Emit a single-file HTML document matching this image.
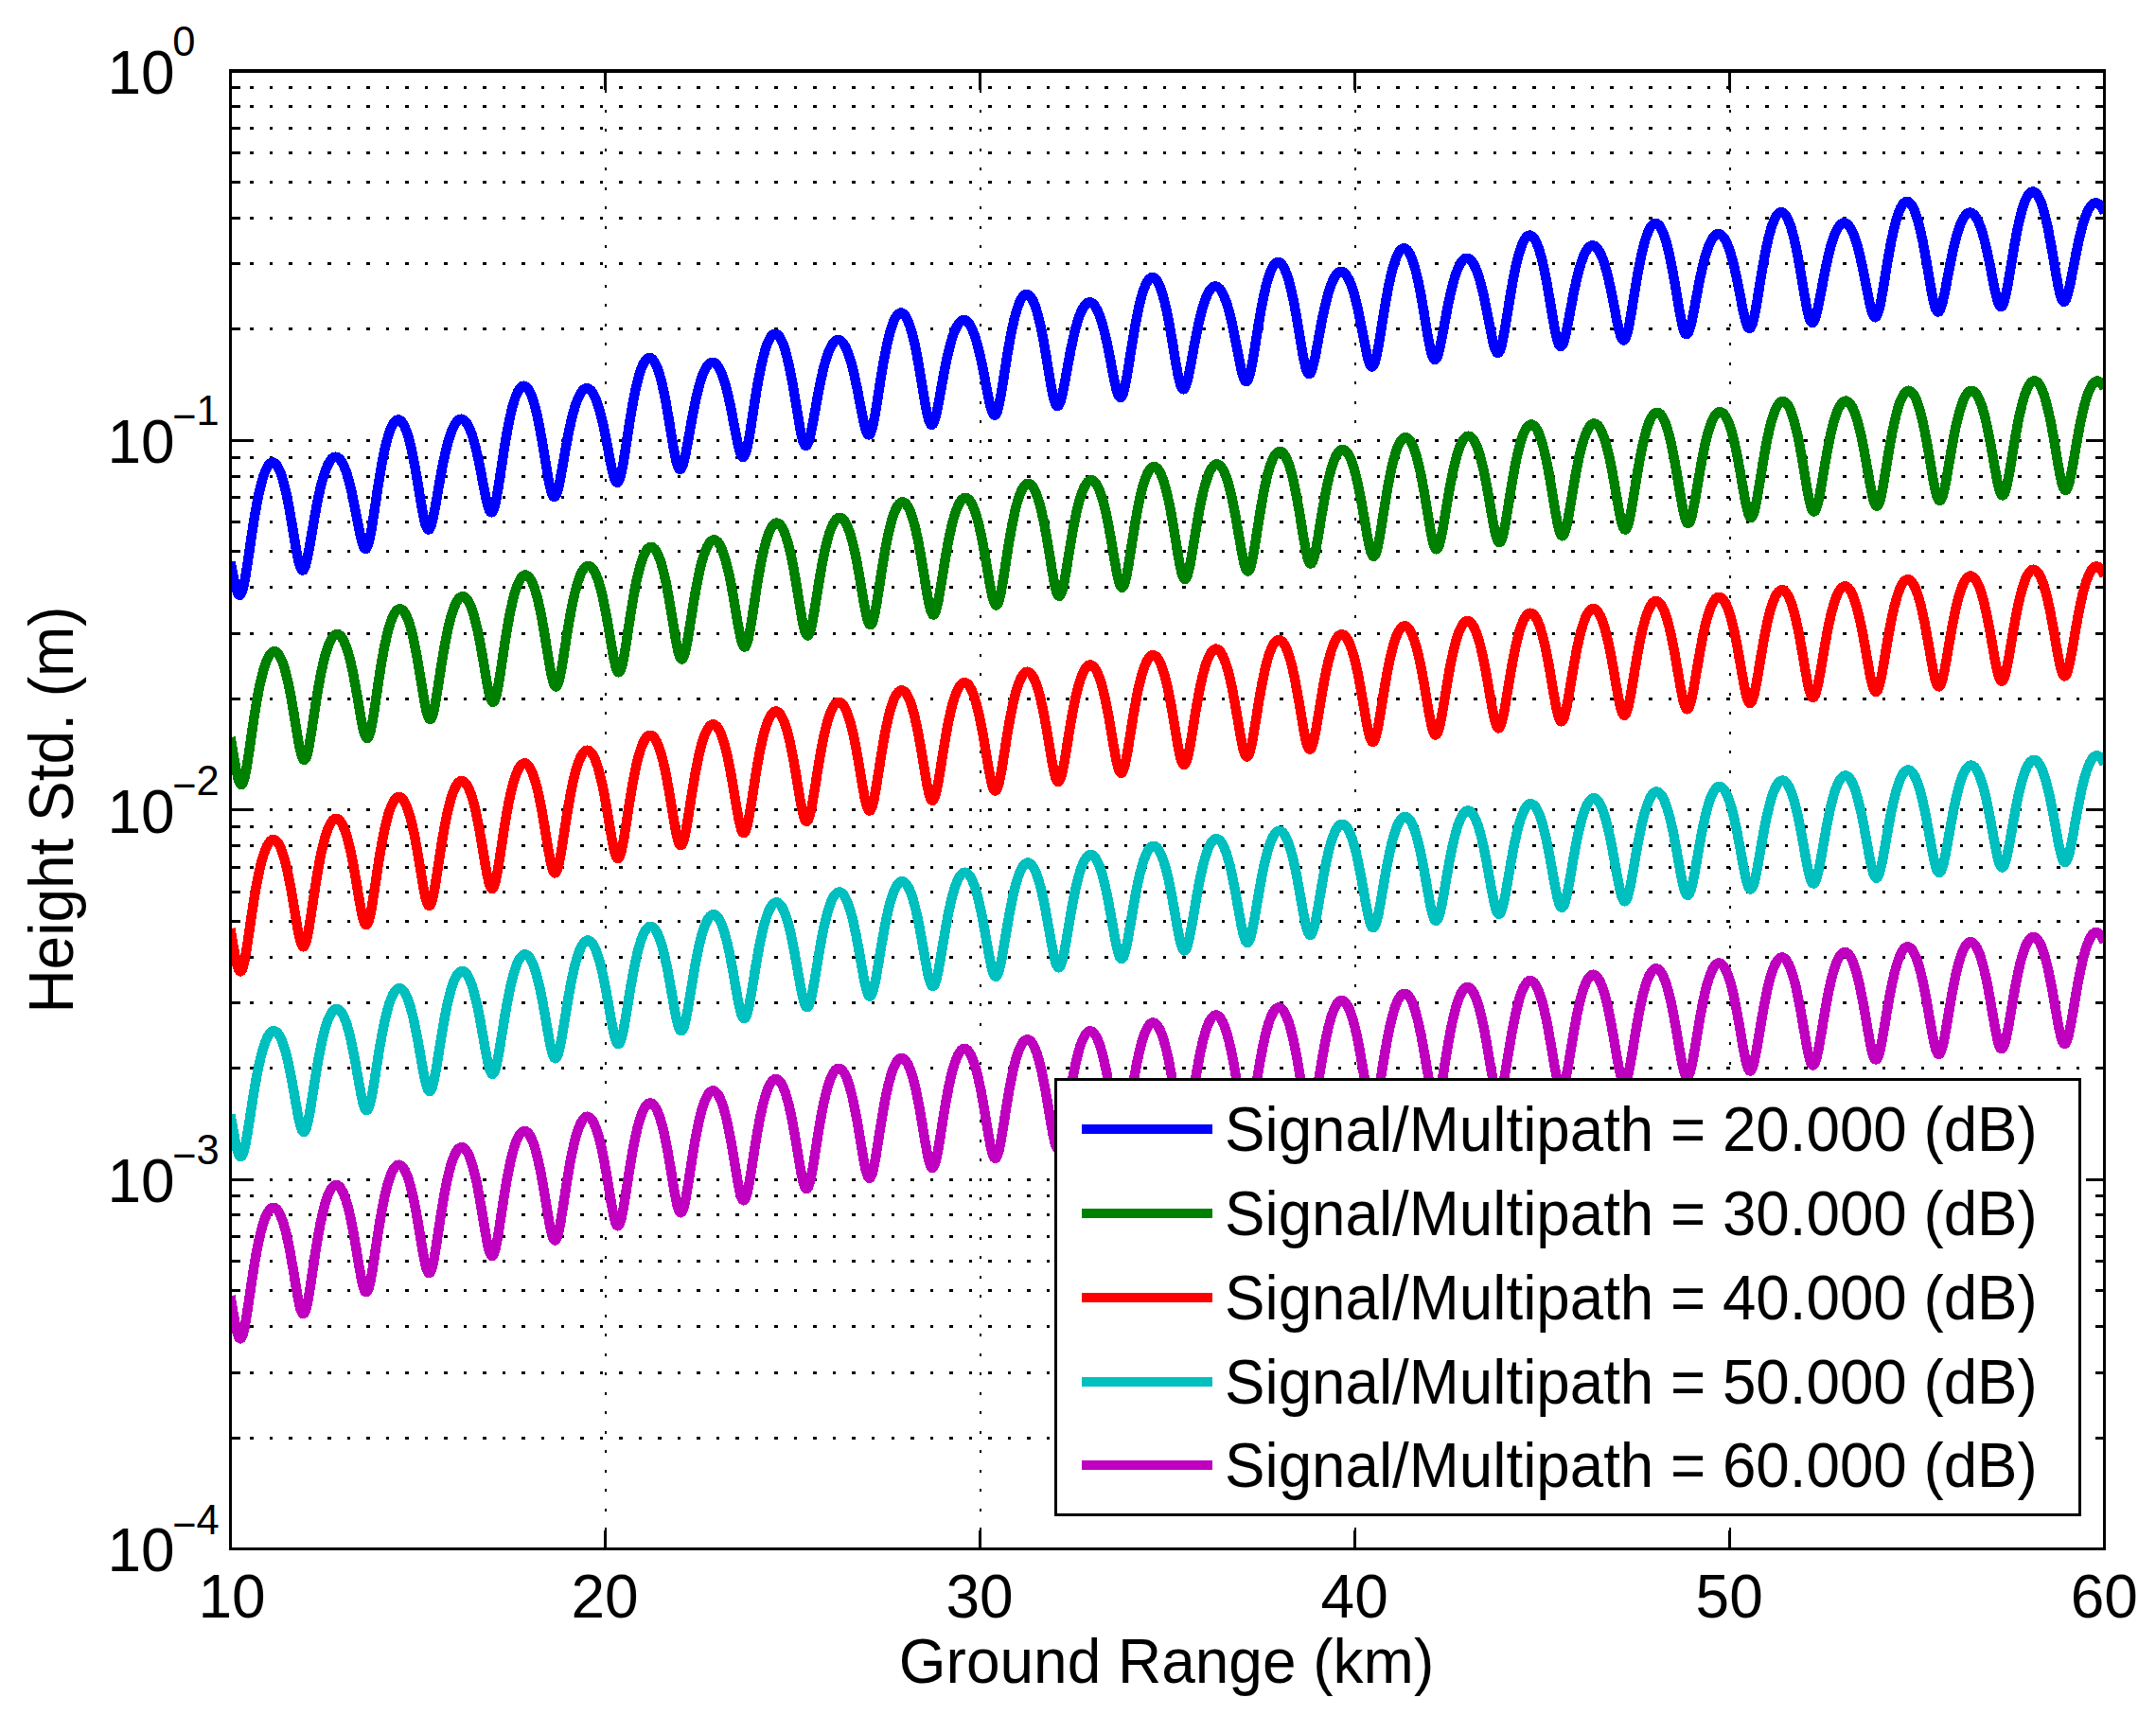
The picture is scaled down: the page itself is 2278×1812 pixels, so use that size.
<!DOCTYPE html>
<html><head><meta charset="utf-8"><title>Height Std. vs Ground Range</title>
<style>html,body{margin:0;padding:0;background:#fff}svg{display:block}text{font-family:"Liberation Sans",sans-serif;fill:#000}</style></head><body>
<svg width="2278" height="1812" viewBox="0 0 2278 1812">
<rect width="2278" height="1812" fill="#fff"/>
<g stroke="#000" stroke-width="3" shape-rendering="crispEdges" fill="none">
<line x1="243.5" y1="465.1" x2="2223.8" y2="465.1" stroke-dasharray="3.5 17.03"/>
<line x1="243.5" y1="347.6" x2="2223.8" y2="347.6" stroke-dasharray="3.5 17.03"/>
<line x1="243.5" y1="278.9" x2="2223.8" y2="278.9" stroke-dasharray="3.5 17.03"/>
<line x1="243.5" y1="230.1" x2="2223.8" y2="230.1" stroke-dasharray="3.5 17.03"/>
<line x1="243.5" y1="192.2" x2="2223.8" y2="192.2" stroke-dasharray="3.5 17.03"/>
<line x1="243.5" y1="161.3" x2="2223.8" y2="161.3" stroke-dasharray="3.5 17.03"/>
<line x1="243.5" y1="135.2" x2="2223.8" y2="135.2" stroke-dasharray="3.5 17.03"/>
<line x1="243.5" y1="112.5" x2="2223.8" y2="112.5" stroke-dasharray="3.5 17.03"/>
<line x1="243.5" y1="92.6" x2="2223.8" y2="92.6" stroke-dasharray="3.5 17.03"/>
<line x1="243.5" y1="855.6" x2="2223.8" y2="855.6" stroke-dasharray="3.5 17.03"/>
<line x1="243.5" y1="738.1" x2="2223.8" y2="738.1" stroke-dasharray="3.5 17.03"/>
<line x1="243.5" y1="669.3" x2="2223.8" y2="669.3" stroke-dasharray="3.5 17.03"/>
<line x1="243.5" y1="620.5" x2="2223.8" y2="620.5" stroke-dasharray="3.5 17.03"/>
<line x1="243.5" y1="582.7" x2="2223.8" y2="582.7" stroke-dasharray="3.5 17.03"/>
<line x1="243.5" y1="551.8" x2="2223.8" y2="551.8" stroke-dasharray="3.5 17.03"/>
<line x1="243.5" y1="525.6" x2="2223.8" y2="525.6" stroke-dasharray="3.5 17.03"/>
<line x1="243.5" y1="503.0" x2="2223.8" y2="503.0" stroke-dasharray="3.5 17.03"/>
<line x1="243.5" y1="483.0" x2="2223.8" y2="483.0" stroke-dasharray="3.5 17.03"/>
<line x1="243.5" y1="1246.0" x2="2223.8" y2="1246.0" stroke-dasharray="3.5 17.03"/>
<line x1="243.5" y1="1128.5" x2="2223.8" y2="1128.5" stroke-dasharray="3.5 17.03"/>
<line x1="243.5" y1="1059.8" x2="2223.8" y2="1059.8" stroke-dasharray="3.5 17.03"/>
<line x1="243.5" y1="1011.0" x2="2223.8" y2="1011.0" stroke-dasharray="3.5 17.03"/>
<line x1="243.5" y1="973.1" x2="2223.8" y2="973.1" stroke-dasharray="3.5 17.03"/>
<line x1="243.5" y1="942.2" x2="2223.8" y2="942.2" stroke-dasharray="3.5 17.03"/>
<line x1="243.5" y1="916.1" x2="2223.8" y2="916.1" stroke-dasharray="3.5 17.03"/>
<line x1="243.5" y1="893.4" x2="2223.8" y2="893.4" stroke-dasharray="3.5 17.03"/>
<line x1="243.5" y1="873.5" x2="2223.8" y2="873.5" stroke-dasharray="3.5 17.03"/>
<line x1="243.5" y1="1519.0" x2="2223.8" y2="1519.0" stroke-dasharray="3.5 17.03"/>
<line x1="243.5" y1="1450.2" x2="2223.8" y2="1450.2" stroke-dasharray="3.5 17.03"/>
<line x1="243.5" y1="1401.4" x2="2223.8" y2="1401.4" stroke-dasharray="3.5 17.03"/>
<line x1="243.5" y1="1363.6" x2="2223.8" y2="1363.6" stroke-dasharray="3.5 17.03"/>
<line x1="243.5" y1="1332.7" x2="2223.8" y2="1332.7" stroke-dasharray="3.5 17.03"/>
<line x1="243.5" y1="1306.5" x2="2223.8" y2="1306.5" stroke-dasharray="3.5 17.03"/>
<line x1="243.5" y1="1283.9" x2="2223.8" y2="1283.9" stroke-dasharray="3.5 17.03"/>
<line x1="243.5" y1="1263.9" x2="2223.8" y2="1263.9" stroke-dasharray="3.5 17.03"/>
<line x1="639.6" y1="74.7" x2="639.6" y2="1636.5" stroke-width="2" stroke-dasharray="3 17.53"/>
<line x1="1035.6" y1="74.7" x2="1035.6" y2="1636.5" stroke-width="2" stroke-dasharray="3 17.53"/>
<line x1="1431.7" y1="74.7" x2="1431.7" y2="1636.5" stroke-width="2" stroke-dasharray="3 17.53"/>
<line x1="1827.7" y1="74.7" x2="1827.7" y2="1636.5" stroke-width="2" stroke-dasharray="3 17.53"/>
</g>
<g stroke="#000" stroke-width="3" shape-rendering="crispEdges" fill="none">
<line x1="243.5" y1="465.1" x2="263.5" y2="465.1"/>
<line x1="2223.8" y1="465.1" x2="2203.8" y2="465.1"/>
<line x1="243.5" y1="347.6" x2="253.5" y2="347.6"/>
<line x1="2223.8" y1="347.6" x2="2213.8" y2="347.6"/>
<line x1="243.5" y1="278.9" x2="253.5" y2="278.9"/>
<line x1="2223.8" y1="278.9" x2="2213.8" y2="278.9"/>
<line x1="243.5" y1="230.1" x2="253.5" y2="230.1"/>
<line x1="2223.8" y1="230.1" x2="2213.8" y2="230.1"/>
<line x1="243.5" y1="192.2" x2="253.5" y2="192.2"/>
<line x1="2223.8" y1="192.2" x2="2213.8" y2="192.2"/>
<line x1="243.5" y1="161.3" x2="253.5" y2="161.3"/>
<line x1="2223.8" y1="161.3" x2="2213.8" y2="161.3"/>
<line x1="243.5" y1="135.2" x2="253.5" y2="135.2"/>
<line x1="2223.8" y1="135.2" x2="2213.8" y2="135.2"/>
<line x1="243.5" y1="112.5" x2="253.5" y2="112.5"/>
<line x1="2223.8" y1="112.5" x2="2213.8" y2="112.5"/>
<line x1="243.5" y1="92.6" x2="253.5" y2="92.6"/>
<line x1="2223.8" y1="92.6" x2="2213.8" y2="92.6"/>
<line x1="243.5" y1="855.6" x2="263.5" y2="855.6"/>
<line x1="2223.8" y1="855.6" x2="2203.8" y2="855.6"/>
<line x1="243.5" y1="738.1" x2="253.5" y2="738.1"/>
<line x1="2223.8" y1="738.1" x2="2213.8" y2="738.1"/>
<line x1="243.5" y1="669.3" x2="253.5" y2="669.3"/>
<line x1="2223.8" y1="669.3" x2="2213.8" y2="669.3"/>
<line x1="243.5" y1="620.5" x2="253.5" y2="620.5"/>
<line x1="2223.8" y1="620.5" x2="2213.8" y2="620.5"/>
<line x1="243.5" y1="582.7" x2="253.5" y2="582.7"/>
<line x1="2223.8" y1="582.7" x2="2213.8" y2="582.7"/>
<line x1="243.5" y1="551.8" x2="253.5" y2="551.8"/>
<line x1="2223.8" y1="551.8" x2="2213.8" y2="551.8"/>
<line x1="243.5" y1="525.6" x2="253.5" y2="525.6"/>
<line x1="2223.8" y1="525.6" x2="2213.8" y2="525.6"/>
<line x1="243.5" y1="503.0" x2="253.5" y2="503.0"/>
<line x1="2223.8" y1="503.0" x2="2213.8" y2="503.0"/>
<line x1="243.5" y1="483.0" x2="253.5" y2="483.0"/>
<line x1="2223.8" y1="483.0" x2="2213.8" y2="483.0"/>
<line x1="243.5" y1="1246.0" x2="263.5" y2="1246.0"/>
<line x1="2223.8" y1="1246.0" x2="2203.8" y2="1246.0"/>
<line x1="243.5" y1="1128.5" x2="253.5" y2="1128.5"/>
<line x1="2223.8" y1="1128.5" x2="2213.8" y2="1128.5"/>
<line x1="243.5" y1="1059.8" x2="253.5" y2="1059.8"/>
<line x1="2223.8" y1="1059.8" x2="2213.8" y2="1059.8"/>
<line x1="243.5" y1="1011.0" x2="253.5" y2="1011.0"/>
<line x1="2223.8" y1="1011.0" x2="2213.8" y2="1011.0"/>
<line x1="243.5" y1="973.1" x2="253.5" y2="973.1"/>
<line x1="2223.8" y1="973.1" x2="2213.8" y2="973.1"/>
<line x1="243.5" y1="942.2" x2="253.5" y2="942.2"/>
<line x1="2223.8" y1="942.2" x2="2213.8" y2="942.2"/>
<line x1="243.5" y1="916.1" x2="253.5" y2="916.1"/>
<line x1="2223.8" y1="916.1" x2="2213.8" y2="916.1"/>
<line x1="243.5" y1="893.4" x2="253.5" y2="893.4"/>
<line x1="2223.8" y1="893.4" x2="2213.8" y2="893.4"/>
<line x1="243.5" y1="873.5" x2="253.5" y2="873.5"/>
<line x1="2223.8" y1="873.5" x2="2213.8" y2="873.5"/>
<line x1="243.5" y1="1519.0" x2="253.5" y2="1519.0"/>
<line x1="2223.8" y1="1519.0" x2="2213.8" y2="1519.0"/>
<line x1="243.5" y1="1450.2" x2="253.5" y2="1450.2"/>
<line x1="2223.8" y1="1450.2" x2="2213.8" y2="1450.2"/>
<line x1="243.5" y1="1401.4" x2="253.5" y2="1401.4"/>
<line x1="2223.8" y1="1401.4" x2="2213.8" y2="1401.4"/>
<line x1="243.5" y1="1363.6" x2="253.5" y2="1363.6"/>
<line x1="2223.8" y1="1363.6" x2="2213.8" y2="1363.6"/>
<line x1="243.5" y1="1332.7" x2="253.5" y2="1332.7"/>
<line x1="2223.8" y1="1332.7" x2="2213.8" y2="1332.7"/>
<line x1="243.5" y1="1306.5" x2="253.5" y2="1306.5"/>
<line x1="2223.8" y1="1306.5" x2="2213.8" y2="1306.5"/>
<line x1="243.5" y1="1283.9" x2="253.5" y2="1283.9"/>
<line x1="2223.8" y1="1283.9" x2="2213.8" y2="1283.9"/>
<line x1="243.5" y1="1263.9" x2="253.5" y2="1263.9"/>
<line x1="2223.8" y1="1263.9" x2="2213.8" y2="1263.9"/>
<line x1="639.6" y1="1636.5" x2="639.6" y2="1616.5"/>
<line x1="639.6" y1="74.7" x2="639.6" y2="94.7"/>
<line x1="1035.6" y1="1636.5" x2="1035.6" y2="1616.5"/>
<line x1="1035.6" y1="74.7" x2="1035.6" y2="94.7"/>
<line x1="1431.7" y1="1636.5" x2="1431.7" y2="1616.5"/>
<line x1="1431.7" y1="74.7" x2="1431.7" y2="94.7"/>
<line x1="1827.7" y1="1636.5" x2="1827.7" y2="1616.5"/>
<line x1="1827.7" y1="74.7" x2="1827.7" y2="94.7"/>
</g>
<defs><clipPath id="c"><rect x="243.5" y="74.7" width="1980.3000000000002" height="1561.8"/></clipPath></defs>
<defs>
<polyline id="p0" points="243.5,593.7 244.5,598.8 245.5,603.9 246.5,608.9 247.5,613.7 248.5,618.0 249.5,621.9 250.5,625.0 251.5,627.3 252.5,628.6 253.5,628.8 254.5,627.9 255.5,625.8 256.5,622.7 257.5,618.6 258.5,613.7 259.5,608.1 260.5,601.9 261.5,595.4 262.5,588.7 263.5,581.8 264.5,575.0 265.5,568.2 266.5,561.5 267.5,555.1 268.5,548.9 269.5,542.9 270.5,537.2 271.5,531.8 272.5,526.7 273.5,521.9 274.5,517.5 275.5,513.4 276.5,509.5 277.5,506.0 278.5,502.9 279.5,500.0 280.5,497.5 281.5,495.3 282.5,493.4 283.5,491.8 284.5,490.5 285.5,489.6 286.5,489.0 287.5,488.6 288.5,488.6 289.5,488.9 290.5,489.5 291.5,490.5 292.5,491.7 293.5,493.3 294.5,495.1 295.5,497.3 296.5,499.9 297.5,502.7 298.5,505.9 299.5,509.3 300.5,513.1 301.5,517.3 302.5,521.7 303.5,526.4 304.5,531.4 305.5,536.7 306.5,542.2 307.5,548.0 308.5,553.9 309.5,559.9 310.5,566.0 311.5,572.0 312.5,577.9 313.5,583.5 314.5,588.6 315.5,593.2 316.5,597.0 317.5,599.9 318.5,601.8 319.5,602.6 320.5,602.3 321.5,600.8 322.5,598.3 323.5,594.9 324.5,590.7 325.5,585.9 326.5,580.6 327.5,575.0 328.5,569.1 329.5,563.2 330.5,557.3 331.5,551.4 332.5,545.7 333.5,540.2 334.5,534.9 335.5,529.7 336.5,524.9 337.5,520.3 338.5,515.9 339.5,511.9 340.5,508.1 341.5,504.6 342.5,501.3 343.5,498.3 344.5,495.6 345.5,493.2 346.5,491.0 347.5,489.1 348.5,487.4 349.5,486.0 350.5,484.8 351.5,483.9 352.5,483.3 353.5,482.9 354.5,482.7 355.5,482.8 356.5,483.2 357.5,483.8 358.5,484.6 359.5,485.7 360.5,487.1 361.5,488.8 362.5,490.7 363.5,492.8 364.5,495.2 365.5,497.9 366.5,500.9 367.5,504.2 368.5,507.7 369.5,511.5 370.5,515.5 371.5,519.8 372.5,524.3 373.5,529.1 374.5,534.0 375.5,539.1 376.5,544.3 377.5,549.6 378.5,554.8 379.5,559.8 380.5,564.6 381.5,569.0 382.5,572.8 383.5,576.0 384.5,578.3 385.5,579.6 386.5,579.8 387.5,578.9 388.5,576.8 389.5,573.7 390.5,569.7 391.5,564.8 392.5,559.3 393.5,553.3 394.5,546.9 395.5,540.2 396.5,533.5 397.5,526.8 398.5,520.1 399.5,513.6 400.5,507.3 401.5,501.2 402.5,495.4 403.5,489.9 404.5,484.6 405.5,479.7 406.5,475.0 407.5,470.7 408.5,466.7 409.5,463.0 410.5,459.7 411.5,456.6 412.5,453.9 413.5,451.5 414.5,449.4 415.5,447.6 416.5,446.2 417.5,445.0 418.5,444.2 419.5,443.7 420.5,443.5 421.5,443.6 422.5,444.0 423.5,444.7 424.5,445.7 425.5,447.1 426.5,448.8 427.5,450.8 428.5,453.1 429.5,455.7 430.5,458.6 431.5,461.9 432.5,465.5 433.5,469.4 434.5,473.6 435.5,478.1 436.5,483.0 437.5,488.1 438.5,493.4 439.5,499.1 440.5,504.9 441.5,510.9 442.5,516.9 443.5,523.1 444.5,529.1 445.5,535.0 446.5,540.6 447.5,545.7 448.5,550.3 449.5,554.1 450.5,557.0 451.5,558.8 452.5,559.6 453.5,559.3 454.5,557.8 455.5,555.3 456.5,551.9 457.5,547.8 458.5,543.0 459.5,537.8 460.5,532.2 461.5,526.5 462.5,520.7 463.5,514.8 464.5,509.1 465.5,503.5 466.5,498.1 467.5,492.9 468.5,487.9 469.5,483.1 470.5,478.6 471.5,474.4 472.5,470.4 473.5,466.7 474.5,463.3 475.5,460.2 476.5,457.3 477.5,454.7 478.5,452.4 479.5,450.3 480.5,448.4 481.5,446.9 482.5,445.6 483.5,444.5 484.5,443.7 485.5,443.1 486.5,442.8 487.5,442.7 488.5,442.9 489.5,443.4 490.5,444.1 491.5,445.0 492.5,446.2 493.5,447.7 494.5,449.4 495.5,451.4 496.5,453.6 497.5,456.2 498.5,458.9 499.5,462.0 500.5,465.3 501.5,468.9 502.5,472.8 503.5,476.9 504.5,481.3 505.5,485.9 506.5,490.7 507.5,495.7 508.5,500.8 509.5,506.1 510.5,511.4 511.5,516.6 512.5,521.6 513.5,526.4 514.5,530.8 515.5,534.6 516.5,537.7 517.5,540.0 518.5,541.2 519.5,541.4 520.5,540.5 521.5,538.4 522.5,535.3 523.5,531.3 524.5,526.4 525.5,520.9 526.5,515.0 527.5,508.6 528.5,502.1 529.5,495.5 530.5,488.8 531.5,482.3 532.5,475.9 533.5,469.7 534.5,463.7 535.5,458.0 536.5,452.5 537.5,447.4 538.5,442.5 539.5,438.0 540.5,433.8 541.5,429.8 542.5,426.3 543.5,423.0 544.5,420.0 545.5,417.4 546.5,415.1 547.5,413.1 548.5,411.4 549.5,410.0 550.5,409.0 551.5,408.2 552.5,407.8 553.5,407.7 554.5,407.9 555.5,408.4 556.5,409.2 557.5,410.3 558.5,411.7 559.5,413.5 560.5,415.5 561.5,417.9 562.5,420.6 563.5,423.7 564.5,427.0 565.5,430.7 566.5,434.6 567.5,438.9 568.5,443.5 569.5,448.4 570.5,453.6 571.5,459.0 572.5,464.6 573.5,470.5 574.5,476.5 575.5,482.6 576.5,488.8 577.5,494.8 578.5,500.7 579.5,506.3 580.5,511.4 581.5,515.9 582.5,519.6 583.5,522.5 584.5,524.3 585.5,525.0 586.5,524.6 587.5,523.1 588.5,520.6 589.5,517.2 590.5,513.1 591.5,508.3 592.5,503.1 593.5,497.6 594.5,492.0 595.5,486.2 596.5,480.5 597.5,474.8 598.5,469.3 599.5,464.0 600.5,458.8 601.5,453.9 602.5,449.3 603.5,444.9 604.5,440.7 605.5,436.8 606.5,433.2 607.5,429.9 608.5,426.8 609.5,424.0 610.5,421.5 611.5,419.2 612.5,417.2 613.5,415.5 614.5,414.0 615.5,412.7 616.5,411.7 617.5,411.0 618.5,410.5 619.5,410.2 620.5,410.3 621.5,410.5 622.5,411.0 623.5,411.8 624.5,412.8 625.5,414.1 626.5,415.6 627.5,417.4 628.5,419.4 629.5,421.7 630.5,424.3 631.5,427.2 632.5,430.3 633.5,433.7 634.5,437.3 635.5,441.2 636.5,445.4 637.5,449.8 638.5,454.5 639.5,459.3 640.5,464.4 641.5,469.6 642.5,474.8 643.5,480.1 644.5,485.3 645.5,490.4 646.5,495.2 647.5,499.5 648.5,503.3 649.5,506.3 650.5,508.5 651.5,509.7 652.5,509.8 653.5,508.8 654.5,506.7 655.5,503.6 656.5,499.6 657.5,494.7 658.5,489.3 659.5,483.3 660.5,477.0 661.5,470.6 662.5,464.0 663.5,457.5 664.5,451.0 665.5,444.7 666.5,438.5 667.5,432.6 668.5,427.0 669.5,421.6 670.5,416.6 671.5,411.8 672.5,407.3 673.5,403.2 674.5,399.4 675.5,395.8 676.5,392.6 677.5,389.8 678.5,387.2 679.5,385.0 680.5,383.0 681.5,381.4 682.5,380.1 683.5,379.1 684.5,378.5 685.5,378.1 686.5,378.0 687.5,378.3 688.5,378.8 689.5,379.7 690.5,380.9 691.5,382.4 692.5,384.2 693.5,386.3 694.5,388.8 695.5,391.5 696.5,394.6 697.5,398.0 698.5,401.7 699.5,405.8 700.5,410.1 701.5,414.7 702.5,419.7 703.5,424.9 704.5,430.3 705.5,436.0 706.5,441.9 707.5,448.0 708.5,454.1 709.5,460.2 710.5,466.3 711.5,472.1 712.5,477.7 713.5,482.7 714.5,487.2 715.5,490.8 716.5,493.6 717.5,495.3 718.5,496.0 719.5,495.5 720.5,494.0 721.5,491.4 722.5,488.0 723.5,483.9 724.5,479.2 725.5,474.0 726.5,468.6 727.5,463.0 728.5,457.3 729.5,451.6 730.5,446.0 731.5,440.6 732.5,435.3 733.5,430.2 734.5,425.4 735.5,420.8 736.5,416.4 737.5,412.4 738.5,408.6 739.5,405.0 740.5,401.8 741.5,398.7 742.5,396.0 743.5,393.5 744.5,391.3 745.5,389.4 746.5,387.7 747.5,386.2 748.5,385.0 749.5,384.1 750.5,383.4 751.5,383.0 752.5,382.8 753.5,382.9 754.5,383.2 755.5,383.7 756.5,384.5 757.5,385.6 758.5,386.9 759.5,388.5 760.5,390.3 761.5,392.4 762.5,394.8 763.5,397.4 764.5,400.3 765.5,403.5 766.5,406.9 767.5,410.6 768.5,414.6 769.5,418.8 770.5,423.3 771.5,427.9 772.5,432.8 773.5,437.9 774.5,443.1 775.5,448.4 776.5,453.7 777.5,458.9 778.5,463.9 779.5,468.6 780.5,472.9 781.5,476.7 782.5,479.7 783.5,481.8 784.5,482.9 785.5,482.9 786.5,481.9 787.5,479.7 788.5,476.6 789.5,472.5 790.5,467.7 791.5,462.2 792.5,456.3 793.5,450.1 794.5,443.6 795.5,437.1 796.5,430.6 797.5,424.2 798.5,418.0 799.5,411.9 800.5,406.1 801.5,400.5 802.5,395.2 803.5,390.2 804.5,385.5 805.5,381.1 806.5,377.1 807.5,373.3 808.5,369.9 809.5,366.7 810.5,363.9 811.5,361.4 812.5,359.2 813.5,357.4 814.5,355.8 815.5,354.6 816.5,353.6 817.5,353.0 818.5,352.7 819.5,352.7 820.5,353.0 821.5,353.6 822.5,354.5 823.5,355.8 824.5,357.3 825.5,359.2 826.5,361.4 827.5,363.9 828.5,366.7 829.5,369.8 830.5,373.2 831.5,377.0 832.5,381.1 833.5,385.4 834.5,390.1 835.5,395.1 836.5,400.3 837.5,405.8 838.5,411.5 839.5,417.5 840.5,423.5 841.5,429.6 842.5,435.8 843.5,441.8 844.5,447.6 845.5,453.1 846.5,458.1 847.5,462.5 848.5,466.1 849.5,468.7 850.5,470.4 851.5,471.0 852.5,470.4 853.5,468.8 854.5,466.2 855.5,462.8 856.5,458.7 857.5,453.9 858.5,448.8 859.5,443.4 860.5,437.8 861.5,432.2 862.5,426.6 863.5,421.1 864.5,415.7 865.5,410.5 866.5,405.5 867.5,400.7 868.5,396.2 869.5,391.9 870.5,387.9 871.5,384.1 872.5,380.6 873.5,377.4 874.5,374.5 875.5,371.8 876.5,369.4 877.5,367.2 878.5,365.3 879.5,363.6 880.5,362.3 881.5,361.1 882.5,360.2 883.5,359.6 884.5,359.2 885.5,359.1 886.5,359.2 887.5,359.5 888.5,360.1 889.5,361.0 890.5,362.1 891.5,363.5 892.5,365.1 893.5,367.0 894.5,369.1 895.5,371.5 896.5,374.2 897.5,377.1 898.5,380.3 899.5,383.8 900.5,387.5 901.5,391.5 902.5,395.8 903.5,400.2 904.5,405.0 905.5,409.9 906.5,414.9 907.5,420.1 908.5,425.4 909.5,430.7 910.5,435.9 911.5,440.9 912.5,445.6 913.5,449.9 914.5,453.5 915.5,456.4 916.5,458.5 917.5,459.5 918.5,459.5 919.5,458.3 920.5,456.1 921.5,452.9 922.5,448.8 923.5,444.0 924.5,438.5 925.5,432.7 926.5,426.5 927.5,420.1 928.5,413.6 929.5,407.2 930.5,400.9 931.5,394.7 932.5,388.7 933.5,382.9 934.5,377.4 935.5,372.2 936.5,367.2 937.5,362.6 938.5,358.3 939.5,354.2 940.5,350.5 941.5,347.2 942.5,344.1 943.5,341.3 944.5,338.9 945.5,336.8 946.5,334.9 947.5,333.4 948.5,332.2 949.5,331.4 950.5,330.8 951.5,330.5 952.5,330.6 953.5,330.9 954.5,331.6 955.5,332.6 956.5,333.8 957.5,335.4 958.5,337.3 959.5,339.6 960.5,342.1 961.5,345.0 962.5,348.1 963.5,351.6 964.5,355.4 965.5,359.5 966.5,363.9 967.5,368.6 968.5,373.6 969.5,378.9 970.5,384.4 971.5,390.1 972.5,396.1 973.5,402.1 974.5,408.2 975.5,414.3 976.5,420.3 977.5,426.1 978.5,431.6 979.5,436.5 980.5,440.8 981.5,444.3 982.5,446.9 983.5,448.5 984.5,448.9 985.5,448.3 986.5,446.7 987.5,444.0 988.5,440.6 989.5,436.4 990.5,431.7 991.5,426.6 992.5,421.2 993.5,415.7 994.5,410.1 995.5,404.5 996.5,399.1 997.5,393.7 998.5,388.6 999.5,383.6 1000.5,378.9 1001.5,374.4 1002.5,370.2 1003.5,366.2 1004.5,362.5 1005.5,359.1 1006.5,355.9 1007.5,353.0 1008.5,350.4 1009.5,348.0 1010.5,345.9 1011.5,344.1 1012.5,342.5 1013.5,341.1 1014.5,340.0 1015.5,339.2 1016.5,338.6 1017.5,338.2 1018.5,338.1 1019.5,338.3 1020.5,338.7 1021.5,339.3 1022.5,340.2 1023.5,341.4 1024.5,342.8 1025.5,344.4 1026.5,346.3 1027.5,348.5 1028.5,351.0 1029.5,353.7 1030.5,356.6 1031.5,359.9 1032.5,363.4 1033.5,367.1 1034.5,371.2 1035.5,375.4 1036.5,379.9 1037.5,384.7 1038.5,389.6 1039.5,394.7 1040.5,399.9 1041.5,405.2 1042.5,410.4 1043.5,415.6 1044.5,420.6 1045.5,425.2 1046.5,429.4 1047.5,433.0 1048.5,435.8 1049.5,437.8 1050.5,438.7 1051.5,438.6 1052.5,437.4 1053.5,435.2 1054.5,431.9 1055.5,427.8 1056.5,422.9 1057.5,417.5 1058.5,411.6 1059.5,405.5 1060.5,399.1 1061.5,392.7 1062.5,386.4 1063.5,380.1 1064.5,373.9 1065.5,368.0 1066.5,362.3 1067.5,356.8 1068.5,351.7 1069.5,346.8 1070.5,342.2 1071.5,337.9 1072.5,334.0 1073.5,330.3 1074.5,327.0 1075.5,324.0 1076.5,321.3 1077.5,318.9 1078.5,316.8 1079.5,315.0 1080.5,313.6 1081.5,312.4 1082.5,311.6 1083.5,311.1 1084.5,310.8 1085.5,310.9 1086.5,311.3 1087.5,312.0 1088.5,313.0 1089.5,314.4 1090.5,316.0 1091.5,317.9 1092.5,320.2 1093.5,322.8 1094.5,325.7 1095.5,328.9 1096.5,332.4 1097.5,336.2 1098.5,340.4 1099.5,344.8 1100.5,349.5 1101.5,354.6 1102.5,359.8 1103.5,365.4 1104.5,371.1 1105.5,377.0 1106.5,383.1 1107.5,389.2 1108.5,395.3 1109.5,401.3 1110.5,407.0 1111.5,412.4 1112.5,417.3 1113.5,421.5 1114.5,424.9 1115.5,427.4 1116.5,428.8 1117.5,429.2 1118.5,428.5 1119.5,426.8 1120.5,424.2 1121.5,420.7 1122.5,416.5 1123.5,411.8 1124.5,406.7 1125.5,401.4 1126.5,395.9 1127.5,390.3 1128.5,384.8 1129.5,379.4 1130.5,374.1 1131.5,369.0 1132.5,364.1 1133.5,359.4 1134.5,355.0 1135.5,350.8 1136.5,346.9 1137.5,343.2 1138.5,339.9 1139.5,336.7 1140.5,333.9 1141.5,331.3 1142.5,329.0 1143.5,326.9 1144.5,325.1 1145.5,323.5 1146.5,322.2 1147.5,321.1 1148.5,320.3 1149.5,319.8 1150.5,319.5 1151.5,319.4 1152.5,319.6 1153.5,320.0 1154.5,320.7 1155.5,321.6 1156.5,322.8 1157.5,324.3 1158.5,326.0 1159.5,327.9 1160.5,330.1 1161.5,332.6 1162.5,335.3 1163.5,338.3 1164.5,341.6 1165.5,345.1 1166.5,348.9 1167.5,353.0 1168.5,357.2 1169.5,361.8 1170.5,366.5 1171.5,371.5 1172.5,376.6 1173.5,381.8 1174.5,387.0 1175.5,392.3 1176.5,397.4 1177.5,402.3 1178.5,406.9 1179.5,411.1 1180.5,414.6 1181.5,417.3 1182.5,419.2 1183.5,420.1 1184.5,419.9 1185.5,418.6 1186.5,416.3 1187.5,413.0 1188.5,408.8 1189.5,404.0 1190.5,398.5 1191.5,392.7 1192.5,386.5 1193.5,380.2 1194.5,373.9 1195.5,367.5 1196.5,361.3 1197.5,355.2 1198.5,349.4 1199.5,343.7 1200.5,338.3 1201.5,333.2 1202.5,328.4 1203.5,323.8 1204.5,319.6 1205.5,315.7 1206.5,312.1 1207.5,308.8 1208.5,305.9 1209.5,303.2 1210.5,300.8 1211.5,298.8 1212.5,297.1 1213.5,295.7 1214.5,294.6 1215.5,293.8 1216.5,293.3 1217.5,293.1 1218.5,293.2 1219.5,293.7 1220.5,294.4 1221.5,295.5 1222.5,296.8 1223.5,298.5 1224.5,300.5 1225.5,302.8 1226.5,305.4 1227.5,308.3 1228.5,311.6 1229.5,315.1 1230.5,319.0 1231.5,323.1 1232.5,327.6 1233.5,332.4 1234.5,337.4 1235.5,342.7 1236.5,348.3 1237.5,354.0 1238.5,359.9 1239.5,366.0 1240.5,372.1 1241.5,378.1 1242.5,384.1 1243.5,389.8 1244.5,395.1 1245.5,399.9 1246.5,404.0 1247.5,407.3 1248.5,409.7 1249.5,411.1 1250.5,411.4 1251.5,410.6 1252.5,408.9 1253.5,406.1 1254.5,402.6 1255.5,398.4 1256.5,393.7 1257.5,388.7 1258.5,383.3 1259.5,377.9 1260.5,372.4 1261.5,366.9 1262.5,361.5 1263.5,356.3 1264.5,351.2 1265.5,346.4 1266.5,341.7 1267.5,337.4 1268.5,333.2 1269.5,329.4 1270.5,325.8 1271.5,322.4 1272.5,319.3 1273.5,316.5 1274.5,314.0 1275.5,311.7 1276.5,309.6 1277.5,307.9 1278.5,306.3 1279.5,305.1 1280.5,304.1 1281.5,303.3 1282.5,302.8 1283.5,302.5 1284.5,302.5 1285.5,302.7 1286.5,303.1 1287.5,303.9 1288.5,304.8 1289.5,306.0 1290.5,307.5 1291.5,309.2 1292.5,311.2 1293.5,313.5 1294.5,316.0 1295.5,318.7 1296.5,321.7 1297.5,325.0 1298.5,328.6 1299.5,332.4 1300.5,336.5 1301.5,340.8 1302.5,345.3 1303.5,350.1 1304.5,355.0 1305.5,360.1 1306.5,365.3 1307.5,370.6 1308.5,375.8 1309.5,380.9 1310.5,385.8 1311.5,390.4 1312.5,394.4 1313.5,397.9 1314.5,400.5 1315.5,402.3 1316.5,403.1 1317.5,402.8 1318.5,401.5 1319.5,399.1 1320.5,395.7 1321.5,391.5 1322.5,386.7 1323.5,381.2 1324.5,375.4 1325.5,369.3 1326.5,363.0 1327.5,356.7 1328.5,350.4 1329.5,344.2 1330.5,338.2 1331.5,332.4 1332.5,326.8 1333.5,321.4 1334.5,316.4 1335.5,311.6 1336.5,307.1 1337.5,302.9 1338.5,299.1 1339.5,295.5 1340.5,292.3 1341.5,289.4 1342.5,286.8 1343.5,284.5 1344.5,282.5 1345.5,280.8 1346.5,279.4 1347.5,278.4 1348.5,277.6 1349.5,277.1 1350.5,277.0 1351.5,277.2 1352.5,277.6 1353.5,278.4 1354.5,279.5 1355.5,280.9 1356.5,282.6 1357.5,284.6 1358.5,287.0 1359.5,289.6 1360.5,292.6 1361.5,295.8 1362.5,299.4 1363.5,303.3 1364.5,307.5 1365.5,312.0 1366.5,316.8 1367.5,321.8 1368.5,327.1 1369.5,332.7 1370.5,338.5 1371.5,344.4 1372.5,350.4 1373.5,356.5 1374.5,362.5 1375.5,368.4 1376.5,374.1 1377.5,379.3 1378.5,384.0 1379.5,388.1 1380.5,391.3 1381.5,393.6 1382.5,394.9 1383.5,395.1 1384.5,394.3 1385.5,392.4 1386.5,389.6 1387.5,386.1 1388.5,381.9 1389.5,377.2 1390.5,372.1 1391.5,366.8 1392.5,361.4 1393.5,355.9 1394.5,350.5 1395.5,345.1 1396.5,340.0 1397.5,334.9 1398.5,330.1 1399.5,325.6 1400.5,321.2 1401.5,317.1 1402.5,313.3 1403.5,309.8 1404.5,306.5 1405.5,303.4 1406.5,300.7 1407.5,298.1 1408.5,295.9 1409.5,293.9 1410.5,292.2 1411.5,290.7 1412.5,289.4 1413.5,288.4 1414.5,287.7 1415.5,287.2 1416.5,287.0 1417.5,287.0 1418.5,287.2 1419.5,287.7 1420.5,288.5 1421.5,289.5 1422.5,290.7 1423.5,292.2 1424.5,294.0 1425.5,296.0 1426.5,298.2 1427.5,300.8 1428.5,303.6 1429.5,306.6 1430.5,309.9 1431.5,313.5 1432.5,317.3 1433.5,321.4 1434.5,325.8 1435.5,330.3 1436.5,335.1 1437.5,340.0 1438.5,345.1 1439.5,350.3 1440.5,355.6 1441.5,360.8 1442.5,365.9 1443.5,370.7 1444.5,375.2 1445.5,379.2 1446.5,382.5 1447.5,385.1 1448.5,386.8 1449.5,387.5 1450.5,387.1 1451.5,385.7 1452.5,383.3 1453.5,379.9 1454.5,375.7 1455.5,370.8 1456.5,365.3 1457.5,359.5 1458.5,353.4 1459.5,347.2 1460.5,340.9 1461.5,334.7 1462.5,328.5 1463.5,322.5 1464.5,316.8 1465.5,311.2 1466.5,305.9 1467.5,300.9 1468.5,296.2 1469.5,291.8 1470.5,287.6 1471.5,283.8 1472.5,280.3 1473.5,277.1 1474.5,274.2 1475.5,271.7 1476.5,269.4 1477.5,267.5 1478.5,265.8 1479.5,264.5 1480.5,263.5 1481.5,262.8 1482.5,262.3 1483.5,262.2 1484.5,262.4 1485.5,262.9 1486.5,263.8 1487.5,264.9 1488.5,266.3 1489.5,268.1 1490.5,270.1 1491.5,272.5 1492.5,275.1 1493.5,278.1 1494.5,281.4 1495.5,285.0 1496.5,288.9 1497.5,293.2 1498.5,297.7 1499.5,302.5 1500.5,307.6 1501.5,312.9 1502.5,318.4 1503.5,324.2 1504.5,330.1 1505.5,336.1 1506.5,342.2 1507.5,348.2 1508.5,354.0 1509.5,359.6 1510.5,364.8 1511.5,369.5 1512.5,373.4 1513.5,376.6 1514.5,378.8 1515.5,380.0 1516.5,380.1 1517.5,379.2 1518.5,377.2 1519.5,374.4 1520.5,370.8 1521.5,366.6 1522.5,361.9 1523.5,356.9 1524.5,351.6 1525.5,346.2 1526.5,340.8 1527.5,335.4 1528.5,330.1 1529.5,324.9 1530.5,319.9 1531.5,315.2 1532.5,310.6 1533.5,306.4 1534.5,302.3 1535.5,298.5 1536.5,295.0 1537.5,291.8 1538.5,288.8 1539.5,286.0 1540.5,283.5 1541.5,281.3 1542.5,279.4 1543.5,277.7 1544.5,276.2 1545.5,275.0 1546.5,274.1 1547.5,273.3 1548.5,272.9 1549.5,272.7 1550.5,272.7 1551.5,273.0 1552.5,273.5 1553.5,274.3 1554.5,275.3 1555.5,276.6 1556.5,278.1 1557.5,279.9 1558.5,281.9 1559.5,284.2 1560.5,286.8 1561.5,289.6 1562.5,292.7 1563.5,296.0 1564.5,299.6 1565.5,303.5 1566.5,307.6 1567.5,311.9 1568.5,316.5 1569.5,321.3 1570.5,326.2 1571.5,331.3 1572.5,336.5 1573.5,341.7 1574.5,346.9 1575.5,351.9 1576.5,356.7 1577.5,361.2 1578.5,365.1 1579.5,368.4 1580.5,370.9 1581.5,372.5 1582.5,373.1 1583.5,372.6 1584.5,371.1 1585.5,368.6 1586.5,365.2 1587.5,360.9 1588.5,356.0 1589.5,350.6 1590.5,344.8 1591.5,338.7 1592.5,332.5 1593.5,326.3 1594.5,320.1 1595.5,314.0 1596.5,308.0 1597.5,302.3 1598.5,296.8 1599.5,291.6 1600.5,286.6 1601.5,281.9 1602.5,277.6 1603.5,273.5 1604.5,269.7 1605.5,266.2 1606.5,263.1 1607.5,260.3 1608.5,257.7 1609.5,255.5 1610.5,253.6 1611.5,252.0 1612.5,250.7 1613.5,249.7 1614.5,249.0 1615.5,248.7 1616.5,248.6 1617.5,248.8 1618.5,249.4 1619.5,250.2 1620.5,251.4 1621.5,252.8 1622.5,254.6 1623.5,256.7 1624.5,259.1 1625.5,261.8 1626.5,264.8 1627.5,268.1 1628.5,271.8 1629.5,275.7 1630.5,279.9 1631.5,284.5 1632.5,289.3 1633.5,294.4 1634.5,299.7 1635.5,305.3 1636.5,311.0 1637.5,317.0 1638.5,323.0 1639.5,329.0 1640.5,335.0 1641.5,340.8 1642.5,346.3 1643.5,351.4 1644.5,356.0 1645.5,359.9 1646.5,362.9 1647.5,365.0 1648.5,366.1 1649.5,366.1 1650.5,365.1 1651.5,363.1 1652.5,360.3 1653.5,356.7 1654.5,352.4 1655.5,347.7 1656.5,342.7 1657.5,337.4 1658.5,332.1 1659.5,326.7 1660.5,321.3 1661.5,316.0 1662.5,310.9 1663.5,306.0 1664.5,301.3 1665.5,296.8 1666.5,292.6 1667.5,288.6 1668.5,284.8 1669.5,281.3 1670.5,278.1 1671.5,275.1 1672.5,272.5 1673.5,270.0 1674.5,267.8 1675.5,265.9 1676.5,264.2 1677.5,262.8 1678.5,261.6 1679.5,260.7 1680.5,260.0 1681.5,259.6 1682.5,259.4 1683.5,259.5 1684.5,259.8 1685.5,260.3 1686.5,261.2 1687.5,262.2 1688.5,263.5 1689.5,265.1 1690.5,266.9 1691.5,268.9 1692.5,271.3 1693.5,273.8 1694.5,276.7 1695.5,279.8 1696.5,283.1 1697.5,286.8 1698.5,290.6 1699.5,294.8 1700.5,299.1 1701.5,303.7 1702.5,308.5 1703.5,313.4 1704.5,318.5 1705.5,323.7 1706.5,328.9 1707.5,334.0 1708.5,339.1 1709.5,343.8 1710.5,348.2 1711.5,352.0 1712.5,355.2 1713.5,357.6 1714.5,359.1 1715.5,359.6 1716.5,359.1 1717.5,357.5 1718.5,355.0 1719.5,351.5 1720.5,347.2 1721.5,342.3 1722.5,336.8 1723.5,331.0 1724.5,325.0 1725.5,318.8 1726.5,312.6 1727.5,306.5 1728.5,300.4 1729.5,294.5 1730.5,288.9 1731.5,283.4 1732.5,278.2 1733.5,273.3 1734.5,268.7 1735.5,264.3 1736.5,260.3 1737.5,256.6 1738.5,253.1 1739.5,250.0 1740.5,247.2 1741.5,244.8 1742.5,242.6 1743.5,240.7 1744.5,239.1 1745.5,237.9 1746.5,236.9 1747.5,236.3 1748.5,236.0 1749.5,235.9 1750.5,236.2 1751.5,236.8 1752.5,237.6 1753.5,238.8 1754.5,240.3 1755.5,242.1 1756.5,244.2 1757.5,246.7 1758.5,249.4 1759.5,252.4 1760.5,255.8 1761.5,259.4 1762.5,263.4 1763.5,267.7 1764.5,272.2 1765.5,277.0 1766.5,282.1 1767.5,287.5 1768.5,293.1 1769.5,298.8 1770.5,304.7 1771.5,310.7 1772.5,316.7 1773.5,322.7 1774.5,328.4 1775.5,333.9 1776.5,338.9 1777.5,343.4 1778.5,347.2 1779.5,350.2 1780.5,352.2 1781.5,353.2 1782.5,353.1 1783.5,352.0 1784.5,350.0 1785.5,347.1 1786.5,343.4 1787.5,339.2 1788.5,334.5 1789.5,329.4 1790.5,324.2 1791.5,318.9 1792.5,313.5 1793.5,308.2 1794.5,302.9 1795.5,297.9 1796.5,293.0 1797.5,288.3 1798.5,283.9 1799.5,279.7 1800.5,275.7 1801.5,272.0 1802.5,268.6 1803.5,265.4 1804.5,262.4 1805.5,259.8 1806.5,257.4 1807.5,255.2 1808.5,253.3 1809.5,251.7 1810.5,250.3 1811.5,249.2 1812.5,248.3 1813.5,247.6 1814.5,247.2 1815.5,247.1 1816.5,247.2 1817.5,247.5 1818.5,248.1 1819.5,248.9 1820.5,250.0 1821.5,251.3 1822.5,252.9 1823.5,254.7 1824.5,256.8 1825.5,259.2 1826.5,261.8 1827.5,264.6 1828.5,267.8 1829.5,271.1 1830.5,274.8 1831.5,278.7 1832.5,282.8 1833.5,287.2 1834.5,291.8 1835.5,296.6 1836.5,301.5 1837.5,306.6 1838.5,311.8 1839.5,316.9 1840.5,322.1 1841.5,327.0 1842.5,331.7 1843.5,336.0 1844.5,339.8 1845.5,342.9 1846.5,345.2 1847.5,346.7 1848.5,347.1 1849.5,346.5 1850.5,344.8 1851.5,342.2 1852.5,338.6 1853.5,334.3 1854.5,329.4 1855.5,324.0 1856.5,318.2 1857.5,312.2 1858.5,306.0 1859.5,299.8 1860.5,293.7 1861.5,287.7 1862.5,281.9 1863.5,276.2 1864.5,270.8 1865.5,265.7 1866.5,260.8 1867.5,256.2 1868.5,251.9 1869.5,248.0 1870.5,244.3 1871.5,240.9 1872.5,237.8 1873.5,235.1 1874.5,232.6 1875.5,230.5 1876.5,228.7 1877.5,227.1 1878.5,225.9 1879.5,225.0 1880.5,224.4 1881.5,224.1 1882.5,224.1 1883.5,224.4 1884.5,225.0 1885.5,225.9 1886.5,227.1 1887.5,228.6 1888.5,230.5 1889.5,232.6 1890.5,235.1 1891.5,237.8 1892.5,240.9 1893.5,244.3 1894.5,247.9 1895.5,251.9 1896.5,256.2 1897.5,260.8 1898.5,265.6 1899.5,270.7 1900.5,276.1 1901.5,281.7 1902.5,287.4 1903.5,293.3 1904.5,299.3 1905.5,305.3 1906.5,311.2 1907.5,316.9 1908.5,322.3 1909.5,327.3 1910.5,331.7 1911.5,335.4 1912.5,338.2 1913.5,340.1 1914.5,341.0 1915.5,340.9 1916.5,339.7 1917.5,337.6 1918.5,334.7 1919.5,331.0 1920.5,326.7 1921.5,322.0 1922.5,317.0 1923.5,311.8 1924.5,306.5 1925.5,301.1 1926.5,295.8 1927.5,290.6 1928.5,285.6 1929.5,280.8 1930.5,276.1 1931.5,271.7 1932.5,267.6 1933.5,263.6 1934.5,260.0 1935.5,256.6 1936.5,253.4 1937.5,250.5 1938.5,247.9 1939.5,245.5 1940.5,243.4 1941.5,241.6 1942.5,239.9 1943.5,238.6 1944.5,237.5 1945.5,236.6 1946.5,236.0 1947.5,235.6 1948.5,235.5 1949.5,235.6 1950.5,236.0 1951.5,236.6 1952.5,237.4 1953.5,238.5 1954.5,239.9 1955.5,241.5 1956.5,243.4 1957.5,245.5 1958.5,247.8 1959.5,250.5 1960.5,253.4 1961.5,256.5 1962.5,259.9 1963.5,263.6 1964.5,267.5 1965.5,271.6 1966.5,276.0 1967.5,280.6 1968.5,285.4 1969.5,290.3 1970.5,295.4 1971.5,300.6 1972.5,305.7 1973.5,310.8 1974.5,315.7 1975.5,320.4 1976.5,324.6 1977.5,328.3 1978.5,331.4 1979.5,333.6 1980.5,334.9 1981.5,335.3 1982.5,334.5 1983.5,332.8 1984.5,330.1 1985.5,326.5 1986.5,322.2 1987.5,317.3 1988.5,311.8 1989.5,306.1 1990.5,300.1 1991.5,294.0 1992.5,287.8 1993.5,281.7 1994.5,275.8 1995.5,270.0 1996.5,264.4 1997.5,259.0 1998.5,253.9 1999.5,249.1 2000.5,244.6 2001.5,240.3 2002.5,236.4 2003.5,232.7 2004.5,229.4 2005.5,226.4 2006.5,223.6 2007.5,221.2 2008.5,219.1 2009.5,217.3 2010.5,215.8 2011.5,214.7 2012.5,213.8 2013.5,213.2 2014.5,212.9 2015.5,213.0 2016.5,213.3 2017.5,213.9 2018.5,214.9 2019.5,216.1 2020.5,217.7 2021.5,219.5 2022.5,221.7 2023.5,224.2 2024.5,227.0 2025.5,230.1 2026.5,233.5 2027.5,237.2 2028.5,241.2 2029.5,245.5 2030.5,250.0 2031.5,254.9 2032.5,260.0 2033.5,265.4 2034.5,271.0 2035.5,276.7 2036.5,282.6 2037.5,288.6 2038.5,294.5 2039.5,300.4 2040.5,306.0 2041.5,311.4 2042.5,316.3 2043.5,320.6 2044.5,324.2 2045.5,327.0 2046.5,328.8 2047.5,329.6 2048.5,329.3 2049.5,328.1 2050.5,325.9 2051.5,323.0 2052.5,319.2 2053.5,315.0 2054.5,310.3 2055.5,305.3 2056.5,300.1 2057.5,294.8 2058.5,289.4 2059.5,284.2 2060.5,279.1 2061.5,274.1 2062.5,269.3 2063.5,264.7 2064.5,260.3 2065.5,256.2 2066.5,252.3 2067.5,248.7 2068.5,245.3 2069.5,242.2 2070.5,239.3 2071.5,236.7 2072.5,234.4 2073.5,232.3 2074.5,230.5 2075.5,228.9 2076.5,227.6 2077.5,226.5 2078.5,225.6 2079.5,225.1 2080.5,224.7 2081.5,224.6 2082.5,224.7 2083.5,225.1 2084.5,225.8 2085.5,226.7 2086.5,227.8 2087.5,229.2 2088.5,230.8 2089.5,232.7 2090.5,234.8 2091.5,237.2 2092.5,239.8 2093.5,242.8 2094.5,245.9 2095.5,249.3 2096.5,253.0 2097.5,256.9 2098.5,261.1 2099.5,265.5 2100.5,270.1 2101.5,274.9 2102.5,279.8 2103.5,284.9 2104.5,290.1 2105.5,295.2 2106.5,300.2 2107.5,305.1 2108.5,309.7 2109.5,313.9 2110.5,317.5 2111.5,320.5 2112.5,322.6 2113.5,323.8 2114.5,324.1 2115.5,323.3 2116.5,321.5 2117.5,318.7 2118.5,315.1 2119.5,310.8 2120.5,305.8 2121.5,300.4 2122.5,294.6 2123.5,288.6 2124.5,282.5 2125.5,276.4 2126.5,270.4 2127.5,264.5 2128.5,258.7 2129.5,253.2 2130.5,247.9 2131.5,242.8 2132.5,238.0 2133.5,233.5 2134.5,229.3 2135.5,225.4 2136.5,221.8 2137.5,218.5 2138.5,215.5 2139.5,212.9 2140.5,210.5 2141.5,208.4 2142.5,206.7 2143.5,205.2 2144.5,204.1 2145.5,203.2 2146.5,202.7 2147.5,202.4 2148.5,202.5 2149.5,202.9 2150.5,203.5 2151.5,204.5 2152.5,205.8 2153.5,207.4 2154.5,209.2 2155.5,211.4 2156.5,213.9 2157.5,216.7 2158.5,219.9 2159.5,223.3 2160.5,227.0 2161.5,231.0 2162.5,235.3 2163.5,239.9 2164.5,244.8 2165.5,250.0 2166.5,255.3 2167.5,260.9 2168.5,266.6 2169.5,272.5 2170.5,278.4 2171.5,284.4 2172.5,290.2 2173.5,295.8 2174.5,301.1 2175.5,305.9 2176.5,310.2 2177.5,313.7 2178.5,316.3 2179.5,318.0 2180.5,318.8 2181.5,318.4 2182.5,317.1 2183.5,314.9 2184.5,311.9 2185.5,308.1 2186.5,303.8 2187.5,299.1 2188.5,294.1 2189.5,289.0 2190.5,283.7 2191.5,278.4 2192.5,273.2 2193.5,268.1 2194.5,263.1 2195.5,258.4 2196.5,253.8 2197.5,249.5 2198.5,245.4 2199.5,241.5 2200.5,237.9 2201.5,234.6 2202.5,231.5 2203.5,228.7 2204.5,226.1 2205.5,223.8 2206.5,221.8 2207.5,220.0 2208.5,218.4 2209.5,217.1 2210.5,216.1 2211.5,215.3 2212.5,214.7 2213.5,214.4 2214.5,214.3 2215.5,214.5 2216.5,214.9 2217.5,215.6 2218.5,216.5 2219.5,217.6 2220.5,219.0 2221.5,220.7 2222.5,222.6 2223.5,224.7"/>
<polyline id="p1" points="243.5,779.2 244.5,784.9 245.5,790.7 246.5,796.6 247.5,802.4 248.5,808.0 249.5,813.2 250.5,818.0 251.5,822.2 252.5,825.5 253.5,827.8 254.5,828.9 255.5,828.8 256.5,827.5 257.5,824.9 258.5,821.3 259.5,816.6 260.5,811.2 261.5,805.2 262.5,798.7 263.5,791.9 264.5,785.0 265.5,778.0 266.5,771.1 267.5,764.4 268.5,757.8 269.5,751.4 270.5,745.4 271.5,739.6 272.5,734.0 273.5,728.8 274.5,724.0 275.5,719.4 276.5,715.1 277.5,711.2 278.5,707.6 279.5,704.3 280.5,701.3 281.5,698.6 282.5,696.3 283.5,694.2 284.5,692.5 285.5,691.0 286.5,689.9 287.5,689.0 288.5,688.5 289.5,688.3 290.5,688.3 291.5,688.7 292.5,689.4 293.5,690.3 294.5,691.6 295.5,693.2 296.5,695.1 297.5,697.3 298.5,699.8 299.5,702.7 300.5,705.8 301.5,709.3 302.5,713.1 303.5,717.2 304.5,721.6 305.5,726.3 306.5,731.4 307.5,736.7 308.5,742.2 309.5,748.0 310.5,754.0 311.5,760.1 312.5,766.2 313.5,772.4 314.5,778.3 315.5,784.0 316.5,789.3 317.5,793.9 318.5,797.8 319.5,800.6 320.5,802.4 321.5,802.9 322.5,802.2 323.5,800.3 324.5,797.2 325.5,793.1 326.5,788.2 327.5,782.7 328.5,776.6 329.5,770.3 330.5,763.7 331.5,757.1 332.5,750.5 333.5,744.1 334.5,737.8 335.5,731.7 336.5,725.8 337.5,720.2 338.5,714.9 339.5,709.9 340.5,705.2 341.5,700.8 342.5,696.7 343.5,692.9 344.5,689.4 345.5,686.2 346.5,683.2 347.5,680.6 348.5,678.3 349.5,676.3 350.5,674.5 351.5,673.1 352.5,671.9 353.5,671.0 354.5,670.4 355.5,670.1 356.5,670.0 357.5,670.3 358.5,670.8 359.5,671.6 360.5,672.7 361.5,674.1 362.5,675.8 363.5,677.7 364.5,680.0 365.5,682.5 366.5,685.4 367.5,688.5 368.5,692.0 369.5,695.8 370.5,699.8 371.5,704.2 372.5,708.8 373.5,713.8 374.5,719.0 375.5,724.4 376.5,730.0 377.5,735.8 378.5,741.7 379.5,747.6 380.5,753.5 381.5,759.1 382.5,764.4 383.5,769.2 384.5,773.4 385.5,776.7 386.5,778.9 387.5,780.1 388.5,780.0 389.5,778.6 390.5,776.1 391.5,772.5 392.5,767.9 393.5,762.5 394.5,756.6 395.5,750.2 396.5,743.5 397.5,736.7 398.5,729.9 399.5,723.2 400.5,716.5 401.5,710.1 402.5,703.9 403.5,697.9 404.5,692.3 405.5,686.9 406.5,681.8 407.5,677.1 408.5,672.7 409.5,668.5 410.5,664.7 411.5,661.2 412.5,658.1 413.5,655.2 414.5,652.7 415.5,650.4 416.5,648.5 417.5,646.9 418.5,645.5 419.5,644.5 420.5,643.8 421.5,643.4 422.5,643.2 423.5,643.4 424.5,643.9 425.5,644.7 426.5,645.8 427.5,647.2 428.5,648.9 429.5,650.9 430.5,653.2 431.5,655.8 432.5,658.8 433.5,662.0 434.5,665.6 435.5,669.5 436.5,673.7 437.5,678.2 438.5,683.0 439.5,688.2 440.5,693.5 441.5,699.2 442.5,705.1 443.5,711.1 444.5,717.3 445.5,723.5 446.5,729.6 447.5,735.6 448.5,741.3 449.5,746.6 450.5,751.2 451.5,755.0 452.5,757.8 453.5,759.5 454.5,760.0 455.5,759.3 456.5,757.4 457.5,754.3 458.5,750.2 459.5,745.4 460.5,739.9 461.5,733.9 462.5,727.6 463.5,721.2 464.5,714.7 465.5,708.2 466.5,701.9 467.5,695.7 468.5,689.7 469.5,684.0 470.5,678.5 471.5,673.3 472.5,668.4 473.5,663.8 474.5,659.5 475.5,655.5 476.5,651.8 477.5,648.4 478.5,645.3 479.5,642.5 480.5,640.0 481.5,637.7 482.5,635.8 483.5,634.2 484.5,632.8 485.5,631.7 486.5,630.9 487.5,630.4 488.5,630.2 489.5,630.2 490.5,630.6 491.5,631.2 492.5,632.1 493.5,633.3 494.5,634.7 495.5,636.5 496.5,638.6 497.5,640.9 498.5,643.6 499.5,646.5 500.5,649.7 501.5,653.3 502.5,657.1 503.5,661.3 504.5,665.7 505.5,670.4 506.5,675.4 507.5,680.7 508.5,686.2 509.5,691.9 510.5,697.7 511.5,703.7 512.5,709.6 513.5,715.5 514.5,721.1 515.5,726.4 516.5,731.2 517.5,735.3 518.5,738.6 519.5,740.8 520.5,741.9 521.5,741.7 522.5,740.3 523.5,737.8 524.5,734.1 525.5,729.6 526.5,724.2 527.5,718.3 528.5,712.0 529.5,705.4 530.5,698.7 531.5,692.0 532.5,685.3 533.5,678.8 534.5,672.5 535.5,666.4 536.5,660.5 537.5,655.0 538.5,649.7 539.5,644.7 540.5,640.1 541.5,635.7 542.5,631.7 543.5,628.0 544.5,624.6 545.5,621.5 546.5,618.8 547.5,616.3 548.5,614.1 549.5,612.3 550.5,610.8 551.5,609.5 552.5,608.6 553.5,607.9 554.5,607.6 555.5,607.6 556.5,607.8 557.5,608.4 558.5,609.2 559.5,610.4 560.5,611.9 561.5,613.6 562.5,615.7 563.5,618.1 564.5,620.8 565.5,623.9 566.5,627.2 567.5,630.8 568.5,634.8 569.5,639.1 570.5,643.7 571.5,648.5 572.5,653.7 573.5,659.2 574.5,664.9 575.5,670.8 576.5,676.9 577.5,683.1 578.5,689.3 579.5,695.5 580.5,701.5 581.5,707.1 582.5,712.3 583.5,716.9 584.5,720.7 585.5,723.4 586.5,725.1 587.5,725.5 588.5,724.7 589.5,722.7 590.5,719.6 591.5,715.6 592.5,710.7 593.5,705.3 594.5,699.3 595.5,693.1 596.5,686.8 597.5,680.3 598.5,673.9 599.5,667.7 600.5,661.6 601.5,655.7 602.5,650.0 603.5,644.7 604.5,639.6 605.5,634.7 606.5,630.2 607.5,626.0 608.5,622.1 609.5,618.5 610.5,615.1 611.5,612.1 612.5,609.4 613.5,607.0 614.5,604.8 615.5,603.0 616.5,601.4 617.5,600.1 618.5,599.1 619.5,598.4 620.5,597.9 621.5,597.8 622.5,597.9 623.5,598.3 624.5,599.0 625.5,599.9 626.5,601.2 627.5,602.7 628.5,604.6 629.5,606.7 630.5,609.1 631.5,611.8 632.5,614.8 633.5,618.1 634.5,621.7 635.5,625.6 636.5,629.8 637.5,634.3 638.5,639.1 639.5,644.2 640.5,649.5 641.5,655.0 642.5,660.7 643.5,666.6 644.5,672.6 645.5,678.5 646.5,684.4 647.5,690.0 648.5,695.3 649.5,700.0 650.5,704.1 651.5,707.2 652.5,709.4 653.5,710.4 654.5,710.2 655.5,708.7 656.5,706.1 657.5,702.5 658.5,697.9 659.5,692.6 660.5,686.7 661.5,680.4 662.5,673.9 663.5,667.3 664.5,660.6 665.5,654.0 666.5,647.6 667.5,641.3 668.5,635.3 669.5,629.6 670.5,624.1 671.5,618.9 672.5,614.0 673.5,609.4 674.5,605.2 675.5,601.2 676.5,597.6 677.5,594.3 678.5,591.2 679.5,588.6 680.5,586.2 681.5,584.1 682.5,582.3 683.5,580.8 684.5,579.7 685.5,578.8 686.5,578.2 687.5,577.9 688.5,578.0 689.5,578.3 690.5,578.9 691.5,579.8 692.5,581.1 693.5,582.6 694.5,584.4 695.5,586.6 696.5,589.0 697.5,591.8 698.5,594.9 699.5,598.3 700.5,602.0 701.5,606.0 702.5,610.3 703.5,614.9 704.5,619.9 705.5,625.1 706.5,630.6 707.5,636.3 708.5,642.3 709.5,648.4 710.5,654.6 711.5,660.8 712.5,667.0 713.5,672.9 714.5,678.6 715.5,683.7 716.5,688.3 717.5,691.9 718.5,694.6 719.5,696.2 720.5,696.5 721.5,695.7 722.5,693.6 723.5,690.5 724.5,686.4 725.5,681.6 726.5,676.1 727.5,670.2 728.5,664.1 729.5,657.8 730.5,651.4 731.5,645.1 732.5,638.9 733.5,632.9 734.5,627.0 735.5,621.5 736.5,616.2 737.5,611.1 738.5,606.4 739.5,601.9 740.5,597.8 741.5,593.9 742.5,590.4 743.5,587.1 744.5,584.2 745.5,581.5 746.5,579.1 747.5,577.1 748.5,575.3 749.5,573.8 750.5,572.5 751.5,571.6 752.5,570.9 753.5,570.5 754.5,570.4 755.5,570.6 756.5,571.1 757.5,571.8 758.5,572.8 759.5,574.1 760.5,575.7 761.5,577.6 762.5,579.8 763.5,582.3 764.5,585.0 765.5,588.1 766.5,591.4 767.5,595.1 768.5,599.0 769.5,603.3 770.5,607.8 771.5,612.7 772.5,617.7 773.5,623.1 774.5,628.6 775.5,634.4 776.5,640.3 777.5,646.2 778.5,652.2 779.5,658.0 780.5,663.6 781.5,668.9 782.5,673.5 783.5,677.5 784.5,680.6 785.5,682.7 786.5,683.6 787.5,683.3 788.5,681.8 789.5,679.1 790.5,675.4 791.5,670.8 792.5,665.5 793.5,659.7 794.5,653.5 795.5,647.0 796.5,640.4 797.5,633.8 798.5,627.3 799.5,620.9 800.5,614.7 801.5,608.8 802.5,603.1 803.5,597.7 804.5,592.6 805.5,587.7 806.5,583.2 807.5,579.0 808.5,575.1 809.5,571.6 810.5,568.3 811.5,565.4 812.5,562.7 813.5,560.4 814.5,558.4 815.5,556.7 816.5,555.3 817.5,554.1 818.5,553.3 819.5,552.8 820.5,552.6 821.5,552.7 822.5,553.0 823.5,553.7 824.5,554.7 825.5,556.0 826.5,557.6 827.5,559.4 828.5,561.6 829.5,564.1 830.5,567.0 831.5,570.1 832.5,573.5 833.5,577.3 834.5,581.3 835.5,585.7 836.5,590.4 837.5,595.3 838.5,600.6 839.5,606.1 840.5,611.9 841.5,617.8 842.5,623.9 843.5,630.2 844.5,636.4 845.5,642.5 846.5,648.5 847.5,654.1 848.5,659.2 849.5,663.6 850.5,667.2 851.5,669.8 852.5,671.2 853.5,671.5 854.5,670.6 855.5,668.5 856.5,665.3 857.5,661.2 858.5,656.4 859.5,650.9 860.5,645.1 861.5,638.9 862.5,632.7 863.5,626.4 864.5,620.1 865.5,614.0 866.5,608.0 867.5,602.3 868.5,596.8 869.5,591.5 870.5,586.5 871.5,581.9 872.5,577.5 873.5,573.4 874.5,569.6 875.5,566.1 876.5,562.9 877.5,560.0 878.5,557.4 879.5,555.1 880.5,553.1 881.5,551.3 882.5,549.9 883.5,548.7 884.5,547.8 885.5,547.2 886.5,546.8 887.5,546.8 888.5,547.0 889.5,547.5 890.5,548.3 891.5,549.4 892.5,550.7 893.5,552.4 894.5,554.3 895.5,556.5 896.5,559.0 897.5,561.8 898.5,564.9 899.5,568.3 900.5,572.0 901.5,576.0 902.5,580.3 903.5,584.9 904.5,589.7 905.5,594.9 906.5,600.2 907.5,605.8 908.5,611.6 909.5,617.5 910.5,623.4 911.5,629.4 912.5,635.2 913.5,640.7 914.5,645.9 915.5,650.5 916.5,654.4 917.5,657.4 918.5,659.4 919.5,660.2 920.5,659.8 921.5,658.3 922.5,655.5 923.5,651.8 924.5,647.2 925.5,641.9 926.5,636.1 927.5,629.9 928.5,623.4 929.5,616.9 930.5,610.3 931.5,603.9 932.5,597.6 933.5,591.5 934.5,585.6 935.5,579.9 936.5,574.6 937.5,569.5 938.5,564.8 939.5,560.3 940.5,556.2 941.5,552.4 942.5,548.9 943.5,545.7 944.5,542.8 945.5,540.2 946.5,537.9 947.5,535.9 948.5,534.3 949.5,532.9 950.5,531.8 951.5,531.1 952.5,530.6 953.5,530.4 954.5,530.6 955.5,531.0 956.5,531.7 957.5,532.7 958.5,534.1 959.5,535.7 960.5,537.6 961.5,539.8 962.5,542.4 963.5,545.2 964.5,548.4 965.5,551.9 966.5,555.7 967.5,559.8 968.5,564.2 969.5,568.9 970.5,573.9 971.5,579.2 972.5,584.7 973.5,590.5 974.5,596.5 975.5,602.6 976.5,608.8 977.5,615.0 978.5,621.1 979.5,627.0 980.5,632.6 981.5,637.6 982.5,642.0 983.5,645.5 984.5,647.9 985.5,649.3 986.5,649.5 987.5,648.5 988.5,646.3 989.5,643.1 990.5,639.0 991.5,634.1 992.5,628.7 993.5,622.9 994.5,616.8 995.5,610.5 996.5,604.3 997.5,598.1 998.5,592.0 999.5,586.1 1000.5,580.4 1001.5,574.9 1002.5,569.8 1003.5,564.9 1004.5,560.2 1005.5,555.9 1006.5,551.9 1007.5,548.1 1008.5,544.7 1009.5,541.5 1010.5,538.7 1011.5,536.1 1012.5,533.9 1013.5,531.9 1014.5,530.2 1015.5,528.8 1016.5,527.7 1017.5,526.8 1018.5,526.2 1019.5,526.0 1020.5,525.9 1021.5,526.2 1022.5,526.8 1023.5,527.6 1024.5,528.7 1025.5,530.1 1026.5,531.8 1027.5,533.7 1028.5,536.0 1029.5,538.6 1030.5,541.4 1031.5,544.5 1032.5,548.0 1033.5,551.7 1034.5,555.7 1035.5,560.0 1036.5,564.6 1037.5,569.5 1038.5,574.7 1039.5,580.1 1040.5,585.7 1041.5,591.4 1042.5,597.3 1043.5,603.3 1044.5,609.2 1045.5,615.0 1046.5,620.5 1047.5,625.6 1048.5,630.2 1049.5,634.0 1050.5,636.9 1051.5,638.8 1052.5,639.5 1053.5,639.0 1054.5,637.4 1055.5,634.6 1056.5,630.8 1057.5,626.2 1058.5,620.9 1059.5,615.0 1060.5,608.9 1061.5,602.5 1062.5,596.0 1063.5,589.5 1064.5,583.1 1065.5,576.8 1066.5,570.8 1067.5,564.9 1068.5,559.4 1069.5,554.1 1070.5,549.1 1071.5,544.4 1072.5,540.0 1073.5,535.9 1074.5,532.1 1075.5,528.7 1076.5,525.5 1077.5,522.7 1078.5,520.1 1079.5,517.9 1080.5,516.0 1081.5,514.4 1082.5,513.1 1083.5,512.0 1084.5,511.3 1085.5,510.9 1086.5,510.8 1087.5,510.9 1088.5,511.4 1089.5,512.2 1090.5,513.2 1091.5,514.6 1092.5,516.3 1093.5,518.2 1094.5,520.5 1095.5,523.1 1096.5,526.0 1097.5,529.2 1098.5,532.7 1099.5,536.5 1100.5,540.6 1101.5,545.1 1102.5,549.8 1103.5,554.8 1104.5,560.2 1105.5,565.7 1106.5,571.5 1107.5,577.5 1108.5,583.6 1109.5,589.8 1110.5,596.0 1111.5,602.1 1112.5,607.9 1113.5,613.4 1114.5,618.4 1115.5,622.7 1116.5,626.1 1117.5,628.4 1118.5,629.7 1119.5,629.8 1120.5,628.7 1121.5,626.5 1122.5,623.2 1123.5,619.0 1124.5,614.2 1125.5,608.8 1126.5,602.9 1127.5,596.9 1128.5,590.7 1129.5,584.5 1130.5,578.3 1131.5,572.3 1132.5,566.4 1133.5,560.8 1134.5,555.4 1135.5,550.3 1136.5,545.4 1137.5,540.9 1138.5,536.6 1139.5,532.6 1140.5,528.9 1141.5,525.5 1142.5,522.4 1143.5,519.6 1144.5,517.1 1145.5,514.9 1146.5,513.0 1147.5,511.3 1148.5,509.9 1149.5,508.8 1150.5,508.0 1151.5,507.5 1152.5,507.3 1153.5,507.3 1154.5,507.6 1155.5,508.2 1156.5,509.1 1157.5,510.2 1158.5,511.6 1159.5,513.4 1160.5,515.4 1161.5,517.7 1162.5,520.2 1163.5,523.1 1164.5,526.3 1165.5,529.8 1166.5,533.5 1167.5,537.6 1168.5,541.9 1169.5,546.6 1170.5,551.5 1171.5,556.6 1172.5,562.0 1173.5,567.6 1174.5,573.4 1175.5,579.3 1176.5,585.2 1177.5,591.1 1178.5,596.9 1179.5,602.3 1180.5,607.4 1181.5,611.9 1182.5,615.6 1183.5,618.4 1184.5,620.2 1185.5,620.8 1186.5,620.2 1187.5,618.5 1188.5,615.7 1189.5,611.9 1190.5,607.2 1191.5,601.9 1192.5,596.1 1193.5,589.9 1194.5,583.6 1195.5,577.1 1196.5,570.7 1197.5,564.3 1198.5,558.1 1199.5,552.1 1200.5,546.3 1201.5,540.8 1202.5,535.6 1203.5,530.6 1204.5,526.0 1205.5,521.6 1206.5,517.6 1207.5,513.9 1208.5,510.5 1209.5,507.4 1210.5,504.6 1211.5,502.1 1212.5,499.9 1213.5,498.0 1214.5,496.5 1215.5,495.2 1216.5,494.2 1217.5,493.5 1218.5,493.1 1219.5,493.0 1220.5,493.3 1221.5,493.8 1222.5,494.6 1223.5,495.7 1224.5,497.1 1225.5,498.8 1226.5,500.8 1227.5,503.1 1228.5,505.7 1229.5,508.6 1230.5,511.9 1231.5,515.4 1232.5,519.3 1233.5,523.4 1234.5,527.9 1235.5,532.7 1236.5,537.7 1237.5,543.0 1238.5,548.6 1239.5,554.4 1240.5,560.4 1241.5,566.5 1242.5,572.7 1243.5,578.9 1244.5,584.9 1245.5,590.7 1246.5,596.1 1247.5,601.0 1248.5,605.2 1249.5,608.5 1250.5,610.8 1251.5,612.0 1252.5,611.9 1253.5,610.7 1254.5,608.4 1255.5,605.1 1256.5,600.9 1257.5,596.1 1258.5,590.6 1259.5,584.8 1260.5,578.8 1261.5,572.7 1262.5,566.5 1263.5,560.4 1264.5,554.4 1265.5,548.6 1266.5,543.0 1267.5,537.7 1268.5,532.6 1269.5,527.8 1270.5,523.3 1271.5,519.1 1272.5,515.1 1273.5,511.5 1274.5,508.2 1275.5,505.1 1276.5,502.3 1277.5,499.9 1278.5,497.7 1279.5,495.8 1280.5,494.2 1281.5,492.9 1282.5,491.8 1283.5,491.0 1284.5,490.6 1285.5,490.3 1286.5,490.4 1287.5,490.8 1288.5,491.4 1289.5,492.3 1290.5,493.5 1291.5,494.9 1292.5,496.7 1293.5,498.7 1294.5,501.0 1295.5,503.7 1296.5,506.6 1297.5,509.8 1298.5,513.3 1299.5,517.1 1300.5,521.1 1301.5,525.5 1302.5,530.2 1303.5,535.1 1304.5,540.2 1305.5,545.7 1306.5,551.3 1307.5,557.0 1308.5,562.9 1309.5,568.8 1310.5,574.7 1311.5,580.4 1312.5,585.8 1313.5,590.8 1314.5,595.2 1315.5,598.8 1316.5,601.5 1317.5,603.2 1318.5,603.7 1319.5,603.0 1320.5,601.2 1321.5,598.3 1322.5,594.5 1323.5,589.8 1324.5,584.5 1325.5,578.7 1326.5,572.6 1327.5,566.2 1328.5,559.8 1329.5,553.4 1330.5,547.1 1331.5,541.0 1332.5,535.0 1333.5,529.3 1334.5,523.9 1335.5,518.7 1336.5,513.8 1337.5,509.2 1338.5,504.9 1339.5,500.9 1340.5,497.3 1341.5,493.9 1342.5,490.9 1343.5,488.1 1344.5,485.7 1345.5,483.5 1346.5,481.7 1347.5,480.2 1348.5,478.9 1349.5,478.0 1350.5,477.3 1351.5,477.0 1352.5,476.9 1353.5,477.2 1354.5,477.7 1355.5,478.6 1356.5,479.7 1357.5,481.1 1358.5,482.9 1359.5,484.9 1360.5,487.3 1361.5,489.9 1362.5,492.9 1363.5,496.1 1364.5,499.7 1365.5,503.6 1366.5,507.8 1367.5,512.2 1368.5,517.0 1369.5,522.1 1370.5,527.4 1371.5,533.0 1372.5,538.8 1373.5,544.8 1374.5,550.9 1375.5,557.0 1376.5,563.1 1377.5,569.1 1378.5,574.9 1379.5,580.2 1380.5,585.0 1381.5,589.1 1382.5,592.3 1383.5,594.5 1384.5,595.5 1385.5,595.4 1386.5,594.1 1387.5,591.8 1388.5,588.4 1389.5,584.2 1390.5,579.3 1391.5,573.9 1392.5,568.2 1393.5,562.2 1394.5,556.1 1395.5,549.9 1396.5,543.9 1397.5,538.0 1398.5,532.2 1399.5,526.7 1400.5,521.4 1401.5,516.4 1402.5,511.7 1403.5,507.2 1404.5,503.0 1405.5,499.1 1406.5,495.6 1407.5,492.3 1408.5,489.3 1409.5,486.5 1410.5,484.1 1411.5,482.0 1412.5,480.1 1413.5,478.6 1414.5,477.3 1415.5,476.3 1416.5,475.5 1417.5,475.1 1418.5,474.9 1419.5,475.0 1420.5,475.4 1421.5,476.0 1422.5,477.0 1423.5,478.2 1424.5,479.7 1425.5,481.5 1426.5,483.5 1427.5,485.9 1428.5,488.5 1429.5,491.5 1430.5,494.7 1431.5,498.2 1432.5,502.0 1433.5,506.1 1434.5,510.5 1435.5,515.2 1436.5,520.1 1437.5,525.3 1438.5,530.7 1439.5,536.3 1440.5,542.0 1441.5,547.9 1442.5,553.8 1443.5,559.6 1444.5,565.2 1445.5,570.6 1446.5,575.5 1447.5,579.8 1448.5,583.3 1449.5,585.9 1450.5,587.4 1451.5,587.9 1452.5,587.1 1453.5,585.2 1454.5,582.3 1455.5,578.4 1456.5,573.7 1457.5,568.4 1458.5,562.6 1459.5,556.5 1460.5,550.3 1461.5,543.9 1462.5,537.6 1463.5,531.3 1464.5,525.2 1465.5,519.4 1466.5,513.7 1467.5,508.3 1468.5,503.2 1469.5,498.3 1470.5,493.8 1471.5,489.6 1472.5,485.6 1473.5,482.0 1474.5,478.7 1475.5,475.7 1476.5,473.0 1477.5,470.6 1478.5,468.5 1479.5,466.7 1480.5,465.2 1481.5,464.0 1482.5,463.1 1483.5,462.5 1484.5,462.2 1485.5,462.2 1486.5,462.5 1487.5,463.0 1488.5,463.9 1489.5,465.1 1490.5,466.5 1491.5,468.3 1492.5,470.4 1493.5,472.7 1494.5,475.4 1495.5,478.4 1496.5,481.7 1497.5,485.3 1498.5,489.2 1499.5,493.4 1500.5,497.9 1501.5,502.7 1502.5,507.8 1503.5,513.1 1504.5,518.7 1505.5,524.5 1506.5,530.4 1507.5,536.5 1508.5,542.6 1509.5,548.7 1510.5,554.7 1511.5,560.3 1512.5,565.6 1513.5,570.3 1514.5,574.3 1515.5,577.3 1516.5,579.4 1517.5,580.4 1518.5,580.2 1519.5,578.8 1520.5,576.4 1521.5,573.0 1522.5,568.8 1523.5,563.9 1524.5,558.5 1525.5,552.8 1526.5,546.8 1527.5,540.7 1528.5,534.7 1529.5,528.7 1530.5,522.8 1531.5,517.1 1532.5,511.7 1533.5,506.4 1534.5,501.5 1535.5,496.8 1536.5,492.4 1537.5,488.2 1538.5,484.4 1539.5,480.9 1540.5,477.6 1541.5,474.6 1542.5,472.0 1543.5,469.6 1544.5,467.5 1545.5,465.7 1546.5,464.1 1547.5,462.9 1548.5,461.9 1549.5,461.2 1550.5,460.8 1551.5,460.7 1552.5,460.8 1553.5,461.2 1554.5,461.9 1555.5,462.9 1556.5,464.1 1557.5,465.6 1558.5,467.4 1559.5,469.5 1560.5,471.9 1561.5,474.6 1562.5,477.5 1563.5,480.8 1564.5,484.3 1565.5,488.2 1566.5,492.3 1567.5,496.7 1568.5,501.4 1569.5,506.3 1570.5,511.5 1571.5,516.9 1572.5,522.5 1573.5,528.2 1574.5,534.0 1575.5,539.9 1576.5,545.7 1577.5,551.2 1578.5,556.5 1579.5,561.3 1580.5,565.5 1581.5,568.9 1582.5,571.4 1583.5,572.9 1584.5,573.2 1585.5,572.4 1586.5,570.4 1587.5,567.4 1588.5,563.5 1589.5,558.8 1590.5,553.5 1591.5,547.8 1592.5,541.7 1593.5,535.5 1594.5,529.1 1595.5,522.9 1596.5,516.7 1597.5,510.6 1598.5,504.8 1599.5,499.2 1600.5,493.9 1601.5,488.8 1602.5,484.0 1603.5,479.5 1604.5,475.4 1605.5,471.5 1606.5,467.9 1607.5,464.6 1608.5,461.7 1609.5,459.0 1610.5,456.6 1611.5,454.6 1612.5,452.8 1613.5,451.4 1614.5,450.2 1615.5,449.4 1616.5,448.8 1617.5,448.5 1618.5,448.5 1619.5,448.8 1620.5,449.4 1621.5,450.3 1622.5,451.5 1623.5,453.0 1624.5,454.8 1625.5,456.9 1626.5,459.3 1627.5,462.0 1628.5,465.0 1629.5,468.4 1630.5,472.0 1631.5,475.9 1632.5,480.1 1633.5,484.6 1634.5,489.5 1635.5,494.5 1636.5,499.9 1637.5,505.5 1638.5,511.2 1639.5,517.2 1640.5,523.2 1641.5,529.3 1642.5,535.4 1643.5,541.3 1644.5,546.9 1645.5,552.0 1646.5,556.6 1647.5,560.5 1648.5,563.5 1649.5,565.4 1650.5,566.3 1651.5,566.0 1652.5,564.6 1653.5,562.1 1654.5,558.6 1655.5,554.4 1656.5,549.5 1657.5,544.1 1658.5,538.4 1659.5,532.5 1660.5,526.5 1661.5,520.5 1662.5,514.5 1663.5,508.7 1664.5,503.1 1665.5,497.7 1666.5,492.5 1667.5,487.6 1668.5,482.9 1669.5,478.6 1670.5,474.5 1671.5,470.7 1672.5,467.2 1673.5,464.0 1674.5,461.1 1675.5,458.5 1676.5,456.1 1677.5,454.1 1678.5,452.3 1679.5,450.8 1680.5,449.6 1681.5,448.6 1682.5,448.0 1683.5,447.6 1684.5,447.5 1685.5,447.6 1686.5,448.1 1687.5,448.8 1688.5,449.8 1689.5,451.1 1690.5,452.6 1691.5,454.4 1692.5,456.6 1693.5,459.0 1694.5,461.7 1695.5,464.6 1696.5,467.9 1697.5,471.5 1698.5,475.3 1699.5,479.5 1700.5,483.9 1701.5,488.6 1702.5,493.5 1703.5,498.7 1704.5,504.1 1705.5,509.7 1706.5,515.4 1707.5,521.2 1708.5,527.0 1709.5,532.7 1710.5,538.3 1711.5,543.5 1712.5,548.2 1713.5,552.3 1714.5,555.6 1715.5,558.0 1716.5,559.3 1717.5,559.6 1718.5,558.6 1719.5,556.6 1720.5,553.6 1721.5,549.6 1722.5,544.9 1723.5,539.6 1724.5,533.9 1725.5,527.8 1726.5,521.6 1727.5,515.4 1728.5,509.2 1729.5,503.0 1730.5,497.0 1731.5,491.3 1732.5,485.7 1733.5,480.4 1734.5,475.4 1735.5,470.7 1736.5,466.3 1737.5,462.1 1738.5,458.3 1739.5,454.8 1740.5,451.5 1741.5,448.6 1742.5,446.0 1743.5,443.7 1744.5,441.7 1745.5,439.9 1746.5,438.5 1747.5,437.4 1748.5,436.6 1749.5,436.0 1750.5,435.8 1751.5,435.8 1752.5,436.2 1753.5,436.8 1754.5,437.8 1755.5,439.0 1756.5,440.5 1757.5,442.3 1758.5,444.5 1759.5,446.9 1760.5,449.6 1761.5,452.6 1762.5,456.0 1763.5,459.6 1764.5,463.6 1765.5,467.8 1766.5,472.3 1767.5,477.2 1768.5,482.2 1769.5,487.6 1770.5,493.2 1771.5,498.9 1772.5,504.9 1773.5,510.9 1774.5,517.0 1775.5,522.9 1776.5,528.8 1777.5,534.3 1778.5,539.4 1779.5,543.9 1780.5,547.7 1781.5,550.5 1782.5,552.4 1783.5,553.1 1784.5,552.7 1785.5,551.2 1786.5,548.7 1787.5,545.2 1788.5,540.9 1789.5,536.0 1790.5,530.7 1791.5,525.0 1792.5,519.1 1793.5,513.2 1794.5,507.2 1795.5,501.3 1796.5,495.5 1797.5,490.0 1798.5,484.6 1799.5,479.5 1800.5,474.6 1801.5,470.0 1802.5,465.7 1803.5,461.7 1804.5,457.9 1805.5,454.5 1806.5,451.3 1807.5,448.4 1808.5,445.9 1809.5,443.5 1810.5,441.5 1811.5,439.8 1812.5,438.3 1813.5,437.1 1814.5,436.2 1815.5,435.6 1816.5,435.2 1817.5,435.2 1818.5,435.4 1819.5,435.8 1820.5,436.6 1821.5,437.6 1822.5,438.9 1823.5,440.5 1824.5,442.3 1825.5,444.5 1826.5,446.9 1827.5,449.6 1828.5,452.6 1829.5,455.9 1830.5,459.5 1831.5,463.4 1832.5,467.5 1833.5,472.0 1834.5,476.7 1835.5,481.6 1836.5,486.8 1837.5,492.2 1838.5,497.8 1839.5,503.5 1840.5,509.2 1841.5,515.0 1842.5,520.7 1843.5,526.1 1844.5,531.3 1845.5,535.9 1846.5,539.9 1847.5,543.1 1848.5,545.4 1849.5,546.6 1850.5,546.8 1851.5,545.8 1852.5,543.7 1853.5,540.6 1854.5,536.6 1855.5,531.9 1856.5,526.6 1857.5,520.9 1858.5,514.9 1859.5,508.7 1860.5,502.5 1861.5,496.3 1862.5,490.2 1863.5,484.3 1864.5,478.6 1865.5,473.1 1866.5,467.8 1867.5,462.9 1868.5,458.2 1869.5,453.8 1870.5,449.7 1871.5,445.9 1872.5,442.5 1873.5,439.3 1874.5,436.4 1875.5,433.8 1876.5,431.5 1877.5,429.6 1878.5,427.9 1879.5,426.5 1880.5,425.4 1881.5,424.6 1882.5,424.1 1883.5,423.9 1884.5,424.0 1885.5,424.4 1886.5,425.0 1887.5,426.0 1888.5,427.3 1889.5,428.8 1890.5,430.7 1891.5,432.8 1892.5,435.3 1893.5,438.0 1894.5,441.1 1895.5,444.4 1896.5,448.1 1897.5,452.0 1898.5,456.3 1899.5,460.8 1900.5,465.7 1901.5,470.8 1902.5,476.1 1903.5,481.7 1904.5,487.5 1905.5,493.4 1906.5,499.4 1907.5,505.4 1908.5,511.3 1909.5,517.1 1910.5,522.6 1911.5,527.6 1912.5,532.0 1913.5,535.6 1914.5,538.4 1915.5,540.1 1916.5,540.7 1917.5,540.3 1918.5,538.7 1919.5,536.1 1920.5,532.6 1921.5,528.3 1922.5,523.4 1923.5,518.1 1924.5,512.4 1925.5,506.6 1926.5,500.6 1927.5,494.7 1928.5,488.9 1929.5,483.2 1930.5,477.6 1931.5,472.3 1932.5,467.3 1933.5,462.4 1934.5,457.9 1935.5,453.6 1936.5,449.7 1937.5,446.0 1938.5,442.5 1939.5,439.4 1940.5,436.6 1941.5,434.0 1942.5,431.8 1943.5,429.8 1944.5,428.1 1945.5,426.6 1946.5,425.5 1947.5,424.6 1948.5,424.0 1949.5,423.7 1950.5,423.6 1951.5,423.9 1952.5,424.4 1953.5,425.1 1954.5,426.2 1955.5,427.5 1956.5,429.1 1957.5,431.0 1958.5,433.2 1959.5,435.6 1960.5,438.4 1961.5,441.4 1962.5,444.7 1963.5,448.3 1964.5,452.2 1965.5,456.4 1966.5,460.8 1967.5,465.5 1968.5,470.5 1969.5,475.6 1970.5,481.0 1971.5,486.6 1972.5,492.3 1973.5,498.0 1974.5,503.7 1975.5,509.4 1976.5,514.8 1977.5,519.8 1978.5,524.4 1979.5,528.3 1980.5,531.4 1981.5,533.5 1982.5,534.7 1983.5,534.7 1984.5,533.6 1985.5,531.5 1986.5,528.3 1987.5,524.3 1988.5,519.6 1989.5,514.3 1990.5,508.6 1991.5,502.6 1992.5,496.5 1993.5,490.3 1994.5,484.2 1995.5,478.2 1996.5,472.3 1997.5,466.6 1998.5,461.2 1999.5,456.0 2000.5,451.1 2001.5,446.5 2002.5,442.1 2003.5,438.1 2004.5,434.3 2005.5,430.9 2006.5,427.8 2007.5,424.9 2008.5,422.4 2009.5,420.1 2010.5,418.2 2011.5,416.6 2012.5,415.2 2013.5,414.2 2014.5,413.4 2015.5,412.9 2016.5,412.7 2017.5,412.9 2018.5,413.3 2019.5,414.0 2020.5,415.0 2021.5,416.2 2022.5,417.8 2023.5,419.7 2024.5,421.9 2025.5,424.4 2026.5,427.1 2027.5,430.2 2028.5,433.6 2029.5,437.3 2030.5,441.2 2031.5,445.5 2032.5,450.1 2033.5,454.9 2034.5,460.0 2035.5,465.4 2036.5,470.9 2037.5,476.7 2038.5,482.6 2039.5,488.5 2040.5,494.5 2041.5,500.4 2042.5,506.1 2043.5,511.5 2044.5,516.4 2045.5,520.7 2046.5,524.3 2047.5,526.9 2048.5,528.5 2049.5,529.1 2050.5,528.5 2051.5,526.8 2052.5,524.2 2053.5,520.6 2054.5,516.3 2055.5,511.5 2056.5,506.1 2057.5,500.5 2058.5,494.7 2059.5,488.8 2060.5,482.9 2061.5,477.1 2062.5,471.5 2063.5,466.0 2064.5,460.8 2065.5,455.7 2066.5,451.0 2067.5,446.5 2068.5,442.3 2069.5,438.3 2070.5,434.7 2071.5,431.3 2072.5,428.2 2073.5,425.4 2074.5,422.9 2075.5,420.7 2076.5,418.7 2077.5,417.0 2078.5,415.6 2079.5,414.5 2080.5,413.7 2081.5,413.1 2082.5,412.8 2083.5,412.8 2084.5,413.1 2085.5,413.6 2086.5,414.4 2087.5,415.5 2088.5,416.8 2089.5,418.5 2090.5,420.4 2091.5,422.6 2092.5,425.0 2093.5,427.8 2094.5,430.8 2095.5,434.2 2096.5,437.8 2097.5,441.7 2098.5,445.9 2099.5,450.3 2100.5,455.0 2101.5,460.0 2102.5,465.2 2103.5,470.5 2104.5,476.1 2105.5,481.7 2106.5,487.5 2107.5,493.1 2108.5,498.7 2109.5,504.0 2110.5,509.0 2111.5,513.5 2112.5,517.3 2113.5,520.3 2114.5,522.3 2115.5,523.4 2116.5,523.3 2117.5,522.1 2118.5,519.9 2119.5,516.7 2120.5,512.7 2121.5,507.9 2122.5,502.7 2123.5,497.0 2124.5,491.0 2125.5,485.0 2126.5,478.8 2127.5,472.8 2128.5,466.8 2129.5,461.0 2130.5,455.3 2131.5,450.0 2132.5,444.8 2133.5,440.0 2134.5,435.4 2135.5,431.1 2136.5,427.1 2137.5,423.4 2138.5,420.0 2139.5,416.9 2140.5,414.1 2141.5,411.6 2142.5,409.4 2143.5,407.5 2144.5,405.9 2145.5,404.6 2146.5,403.6 2147.5,402.8 2148.5,402.4 2149.5,402.2 2150.5,402.4 2151.5,402.8 2152.5,403.5 2153.5,404.6 2154.5,405.9 2155.5,407.5 2156.5,409.4 2157.5,411.6 2158.5,414.1 2159.5,416.9 2160.5,420.0 2161.5,423.4 2162.5,427.1 2163.5,431.1 2164.5,435.4 2165.5,439.9 2166.5,444.8 2167.5,449.9 2168.5,455.2 2169.5,460.8 2170.5,466.5 2171.5,472.4 2172.5,478.3 2173.5,484.3 2174.5,490.1 2175.5,495.8 2176.5,501.1 2177.5,505.9 2178.5,510.1 2179.5,513.5 2180.5,516.1 2181.5,517.6 2182.5,518.0 2183.5,517.4 2184.5,515.6 2185.5,512.9 2186.5,509.3 2187.5,505.0 2188.5,500.1 2189.5,494.8 2190.5,489.2 2191.5,483.5 2192.5,477.6 2193.5,471.8 2194.5,466.0 2195.5,460.4 2196.5,455.0 2197.5,449.8 2198.5,444.8 2199.5,440.1 2200.5,435.7 2201.5,431.5 2202.5,427.6 2203.5,424.0 2204.5,420.7 2205.5,417.6 2206.5,414.9 2207.5,412.4 2208.5,410.2 2209.5,408.3 2210.5,406.6 2211.5,405.3 2212.5,404.2 2213.5,403.4 2214.5,402.8 2215.5,402.6 2216.5,402.6 2217.5,402.9 2218.5,403.4 2219.5,404.2 2220.5,405.3 2221.5,406.7 2222.5,408.4 2223.5,410.3"/>
<polyline id="p2" points="243.5,981.2 244.5,987.2 245.5,993.1 246.5,999.1 247.5,1004.8 248.5,1010.2 249.5,1015.1 250.5,1019.3 251.5,1022.7 252.5,1025.1 253.5,1026.3 254.5,1026.3 255.5,1025.1 256.5,1022.5 257.5,1018.9 258.5,1014.3 259.5,1008.9 260.5,1002.9 261.5,996.5 262.5,989.8 263.5,982.9 264.5,976.0 265.5,969.2 266.5,962.5 267.5,956.0 268.5,949.7 269.5,943.7 270.5,937.9 271.5,932.5 272.5,927.3 273.5,922.5 274.5,918.0 275.5,913.8 276.5,909.9 277.5,906.3 278.5,903.0 279.5,900.1 280.5,897.4 281.5,895.1 282.5,893.0 283.5,891.3 284.5,889.9 285.5,888.7 286.5,887.9 287.5,887.3 288.5,887.1 289.5,887.1 290.5,887.4 291.5,888.1 292.5,889.0 293.5,890.2 294.5,891.8 295.5,893.6 296.5,895.8 297.5,898.2 298.5,901.0 299.5,904.1 300.5,907.5 301.5,911.2 302.5,915.2 303.5,919.5 304.5,924.1 305.5,929.1 306.5,934.3 307.5,939.8 308.5,945.5 309.5,951.3 310.5,957.4 311.5,963.5 312.5,969.5 313.5,975.5 314.5,981.1 315.5,986.4 316.5,991.0 317.5,994.9 318.5,997.8 319.5,999.7 320.5,1000.3 321.5,999.6 322.5,997.7 323.5,994.7 324.5,990.6 325.5,985.7 326.5,980.1 327.5,973.9 328.5,967.5 329.5,960.8 330.5,954.1 331.5,947.4 332.5,940.8 333.5,934.3 334.5,928.1 335.5,922.1 336.5,916.4 337.5,911.0 338.5,905.9 339.5,901.0 340.5,896.5 341.5,892.3 342.5,888.4 343.5,884.8 344.5,881.5 345.5,878.5 346.5,875.8 347.5,873.4 348.5,871.3 349.5,869.5 350.5,868.0 351.5,866.8 352.5,865.9 353.5,865.3 354.5,865.0 355.5,864.9 356.5,865.1 357.5,865.7 358.5,866.5 359.5,867.6 360.5,869.0 361.5,870.7 362.5,872.7 363.5,875.0 364.5,877.6 365.5,880.6 366.5,883.8 367.5,887.3 368.5,891.2 369.5,895.3 370.5,899.8 371.5,904.5 372.5,909.5 373.5,914.8 374.5,920.4 375.5,926.1 376.5,932.0 377.5,938.0 378.5,944.1 379.5,950.0 380.5,955.8 381.5,961.2 382.5,966.1 383.5,970.3 384.5,973.7 385.5,976.1 386.5,977.3 387.5,977.2 388.5,976.0 389.5,973.5 390.5,969.9 391.5,965.4 392.5,960.1 393.5,954.2 394.5,947.8 395.5,941.3 396.5,934.5 397.5,927.8 398.5,921.1 399.5,914.5 400.5,908.2 401.5,902.0 402.5,896.2 403.5,890.6 404.5,885.3 405.5,880.3 406.5,875.6 407.5,871.2 408.5,867.1 409.5,863.4 410.5,859.9 411.5,856.8 412.5,854.0 413.5,851.4 414.5,849.2 415.5,847.3 416.5,845.7 417.5,844.4 418.5,843.3 419.5,842.6 420.5,842.2 421.5,842.0 422.5,842.2 423.5,842.6 424.5,843.4 425.5,844.4 426.5,845.8 427.5,847.4 428.5,849.4 429.5,851.6 430.5,854.2 431.5,857.0 432.5,860.2 433.5,863.7 434.5,867.5 435.5,871.6 436.5,876.1 437.5,880.8 438.5,885.8 439.5,891.1 440.5,896.6 441.5,902.4 442.5,908.3 443.5,914.4 444.5,920.6 445.5,926.7 446.5,932.6 447.5,938.3 448.5,943.5 449.5,948.1 450.5,951.9 451.5,954.8 452.5,956.6 453.5,957.2 454.5,956.5 455.5,954.6 456.5,951.5 457.5,947.5 458.5,942.6 459.5,937.1 460.5,931.1 461.5,924.7 462.5,918.2 463.5,911.5 464.5,905.0 465.5,898.5 466.5,892.2 467.5,886.1 468.5,880.2 469.5,874.6 470.5,869.3 471.5,864.3 472.5,859.6 473.5,855.2 474.5,851.1 475.5,847.3 476.5,843.8 477.5,840.6 478.5,837.7 479.5,835.2 480.5,832.9 481.5,830.9 482.5,829.2 483.5,827.8 484.5,826.7 485.5,825.9 486.5,825.3 487.5,825.1 488.5,825.1 489.5,825.5 490.5,826.1 491.5,827.0 492.5,828.2 493.5,829.7 494.5,831.5 495.5,833.6 496.5,836.0 497.5,838.7 498.5,841.7 499.5,845.0 500.5,848.6 501.5,852.5 502.5,856.7 503.5,861.3 504.5,866.1 505.5,871.2 506.5,876.5 507.5,882.1 508.5,887.9 509.5,893.9 510.5,899.9 511.5,905.9 512.5,911.9 513.5,917.6 514.5,923.0 515.5,927.9 516.5,932.1 517.5,935.4 518.5,937.7 519.5,938.8 520.5,938.8 521.5,937.4 522.5,934.9 523.5,931.4 524.5,926.9 525.5,921.6 526.5,915.8 527.5,909.5 528.5,903.0 529.5,896.4 530.5,889.8 531.5,883.2 532.5,876.8 533.5,870.5 534.5,864.5 535.5,858.7 536.5,853.2 537.5,848.0 538.5,843.1 539.5,838.5 540.5,834.3 541.5,830.3 542.5,826.6 543.5,823.3 544.5,820.2 545.5,817.5 546.5,815.1 547.5,812.9 548.5,811.1 549.5,809.6 550.5,808.3 551.5,807.4 552.5,806.8 553.5,806.4 554.5,806.4 555.5,806.6 556.5,807.1 557.5,807.9 558.5,809.1 559.5,810.5 560.5,812.2 561.5,814.2 562.5,816.6 563.5,819.2 564.5,822.1 565.5,825.4 566.5,828.9 567.5,832.8 568.5,837.0 569.5,841.5 570.5,846.3 571.5,851.3 572.5,856.7 573.5,862.3 574.5,868.1 575.5,874.0 576.5,880.1 577.5,886.3 578.5,892.4 579.5,898.3 580.5,903.9 581.5,909.1 582.5,913.7 583.5,917.4 584.5,920.2 585.5,921.9 586.5,922.4 587.5,921.7 588.5,919.7 589.5,916.7 590.5,912.7 591.5,907.8 592.5,902.3 593.5,896.3 594.5,890.1 595.5,883.6 596.5,877.1 597.5,870.6 598.5,864.2 599.5,858.0 600.5,852.0 601.5,846.3 602.5,840.8 603.5,835.6 604.5,830.6 605.5,826.0 606.5,821.7 607.5,817.7 608.5,814.0 609.5,810.6 610.5,807.5 611.5,804.7 612.5,802.2 613.5,800.0 614.5,798.1 615.5,796.5 616.5,795.1 617.5,794.1 618.5,793.3 619.5,792.9 620.5,792.7 621.5,792.8 622.5,793.2 623.5,793.9 624.5,794.9 625.5,796.2 626.5,797.7 627.5,799.6 628.5,801.8 629.5,804.2 630.5,807.0 631.5,810.0 632.5,813.4 633.5,817.1 634.5,821.0 635.5,825.3 636.5,829.9 637.5,834.8 638.5,839.9 639.5,845.3 640.5,850.9 641.5,856.7 642.5,862.7 643.5,868.7 644.5,874.8 645.5,880.7 646.5,886.4 647.5,891.7 648.5,896.6 649.5,900.7 650.5,903.9 651.5,906.1 652.5,907.2 653.5,907.0 654.5,905.6 655.5,903.1 656.5,899.5 657.5,895.0 658.5,889.8 659.5,884.0 660.5,877.8 661.5,871.4 662.5,864.9 663.5,858.3 664.5,851.8 665.5,845.5 666.5,839.3 667.5,833.4 668.5,827.7 669.5,822.3 670.5,817.2 671.5,812.4 672.5,807.9 673.5,803.7 674.5,799.8 675.5,796.2 676.5,793.0 677.5,790.0 678.5,787.3 679.5,785.0 680.5,782.9 681.5,781.2 682.5,779.7 683.5,778.5 684.5,777.6 685.5,777.1 686.5,776.8 687.5,776.8 688.5,777.1 689.5,777.7 690.5,778.6 691.5,779.7 692.5,781.2 693.5,783.0 694.5,785.1 695.5,787.5 696.5,790.2 697.5,793.2 698.5,796.5 699.5,800.1 700.5,804.0 701.5,808.2 702.5,812.7 703.5,817.6 704.5,822.7 705.5,828.0 706.5,833.7 707.5,839.5 708.5,845.5 709.5,851.6 710.5,857.7 711.5,863.8 712.5,869.7 713.5,875.2 714.5,880.4 715.5,884.8 716.5,888.5 717.5,891.2 718.5,892.8 719.5,893.2 720.5,892.4 721.5,890.5 722.5,887.4 723.5,883.3 724.5,878.5 725.5,873.0 726.5,867.1 727.5,860.9 728.5,854.5 729.5,848.1 730.5,841.7 731.5,835.4 732.5,829.3 733.5,823.4 734.5,817.7 735.5,812.3 736.5,807.1 737.5,802.3 738.5,797.7 739.5,793.5 740.5,789.6 741.5,785.9 742.5,782.6 743.5,779.6 744.5,776.8 745.5,774.4 746.5,772.3 747.5,770.4 748.5,768.9 749.5,767.6 750.5,766.6 751.5,765.9 752.5,765.5 753.5,765.4 754.5,765.6 755.5,766.1 756.5,766.8 757.5,767.8 758.5,769.2 759.5,770.8 760.5,772.7 761.5,774.9 762.5,777.4 763.5,780.2 764.5,783.3 765.5,786.7 766.5,790.5 767.5,794.5 768.5,798.8 769.5,803.4 770.5,808.3 771.5,813.5 772.5,818.9 773.5,824.5 774.5,830.3 775.5,836.3 776.5,842.3 777.5,848.3 778.5,854.3 779.5,859.9 780.5,865.2 781.5,869.9 782.5,874.0 783.5,877.1 784.5,879.2 785.5,880.2 786.5,880.0 787.5,878.5 788.5,875.9 789.5,872.3 790.5,867.8 791.5,862.6 792.5,856.9 793.5,850.8 794.5,844.4 795.5,837.9 796.5,831.5 797.5,825.1 798.5,818.8 799.5,812.7 800.5,806.9 801.5,801.3 802.5,795.9 803.5,790.9 804.5,786.2 805.5,781.7 806.5,777.6 807.5,773.8 808.5,770.3 809.5,767.1 810.5,764.2 811.5,761.6 812.5,759.3 813.5,757.3 814.5,755.6 815.5,754.2 816.5,753.0 817.5,752.2 818.5,751.7 819.5,751.5 820.5,751.5 821.5,751.9 822.5,752.5 823.5,753.5 824.5,754.7 825.5,756.2 826.5,758.1 827.5,760.2 828.5,762.6 829.5,765.3 830.5,768.4 831.5,771.7 832.5,775.4 833.5,779.3 834.5,783.6 835.5,788.2 836.5,793.0 837.5,798.2 838.5,803.5 839.5,809.2 840.5,815.0 841.5,821.0 842.5,827.1 843.5,833.2 844.5,839.2 845.5,845.1 846.5,850.6 847.5,855.6 848.5,860.0 849.5,863.6 850.5,866.2 851.5,867.7 852.5,868.1 853.5,867.2 854.5,865.1 855.5,862.0 856.5,858.0 857.5,853.2 858.5,847.7 859.5,841.8 860.5,835.7 861.5,829.4 862.5,823.0 863.5,816.7 864.5,810.4 865.5,804.4 866.5,798.6 867.5,793.0 868.5,787.6 869.5,782.6 870.5,777.8 871.5,773.3 872.5,769.1 873.5,765.3 874.5,761.7 875.5,758.4 876.5,755.5 877.5,752.8 878.5,750.4 879.5,748.3 880.5,746.5 881.5,745.0 882.5,743.8 883.5,742.9 884.5,742.3 885.5,741.9 886.5,741.9 887.5,742.1 888.5,742.6 889.5,743.4 890.5,744.5 891.5,745.8 892.5,747.5 893.5,749.4 894.5,751.7 895.5,754.2 896.5,757.1 897.5,760.2 898.5,763.7 899.5,767.4 900.5,771.5 901.5,775.8 902.5,780.5 903.5,785.4 904.5,790.6 905.5,796.0 906.5,801.7 907.5,807.5 908.5,813.4 909.5,819.5 910.5,825.4 911.5,831.3 912.5,836.9 913.5,842.1 914.5,846.8 915.5,850.7 916.5,853.8 917.5,855.8 918.5,856.6 919.5,856.3 920.5,854.8 921.5,852.2 922.5,848.6 923.5,844.1 924.5,838.9 925.5,833.2 926.5,827.1 927.5,820.8 928.5,814.4 929.5,808.0 930.5,801.6 931.5,795.4 932.5,789.4 933.5,783.6 934.5,778.1 935.5,772.9 936.5,767.9 937.5,763.2 938.5,758.9 939.5,754.8 940.5,751.0 941.5,747.6 942.5,744.4 943.5,741.6 944.5,739.0 945.5,736.8 946.5,734.9 947.5,733.2 948.5,731.9 949.5,730.8 950.5,730.0 951.5,729.6 952.5,729.4 953.5,729.5 954.5,729.9 955.5,730.6 956.5,731.5 957.5,732.8 958.5,734.4 959.5,736.3 960.5,738.4 961.5,740.9 962.5,743.7 963.5,746.7 964.5,750.1 965.5,753.8 966.5,757.8 967.5,762.1 968.5,766.7 969.5,771.6 970.5,776.7 971.5,782.1 972.5,787.8 973.5,793.6 974.5,799.6 975.5,805.6 976.5,811.7 977.5,817.7 978.5,823.5 979.5,829.0 980.5,833.9 981.5,838.3 982.5,841.7 983.5,844.2 984.5,845.6 985.5,845.9 986.5,844.9 987.5,842.8 988.5,839.7 989.5,835.6 990.5,830.8 991.5,825.4 992.5,819.5 993.5,813.4 994.5,807.1 995.5,800.8 996.5,794.6 997.5,788.4 998.5,782.5 999.5,776.7 1000.5,771.1 1001.5,765.9 1002.5,760.9 1003.5,756.2 1004.5,751.8 1005.5,747.6 1006.5,743.8 1007.5,740.3 1008.5,737.1 1009.5,734.2 1010.5,731.6 1011.5,729.3 1012.5,727.2 1013.5,725.5 1014.5,724.0 1015.5,722.9 1016.5,722.0 1017.5,721.4 1018.5,721.1 1019.5,721.1 1020.5,721.3 1021.5,721.9 1022.5,722.7 1023.5,723.8 1024.5,725.3 1025.5,727.0 1026.5,729.0 1027.5,731.2 1028.5,733.8 1029.5,736.7 1030.5,739.9 1031.5,743.4 1032.5,747.2 1033.5,751.2 1034.5,755.6 1035.5,760.3 1036.5,765.2 1037.5,770.4 1038.5,775.8 1039.5,781.5 1040.5,787.3 1041.5,793.3 1042.5,799.2 1043.5,805.2 1044.5,811.0 1045.5,816.6 1046.5,821.7 1047.5,826.3 1048.5,830.1 1049.5,833.1 1050.5,835.0 1051.5,835.7 1052.5,835.3 1053.5,833.8 1054.5,831.1 1055.5,827.4 1056.5,822.9 1057.5,817.7 1058.5,812.0 1059.5,806.0 1060.5,799.8 1061.5,793.4 1062.5,787.1 1063.5,780.8 1064.5,774.7 1065.5,768.7 1066.5,763.0 1067.5,757.5 1068.5,752.4 1069.5,747.5 1070.5,742.8 1071.5,738.5 1072.5,734.5 1073.5,730.8 1074.5,727.4 1075.5,724.3 1076.5,721.5 1077.5,719.1 1078.5,716.9 1079.5,715.0 1080.5,713.4 1081.5,712.1 1082.5,711.0 1083.5,710.3 1084.5,709.9 1085.5,709.7 1086.5,709.9 1087.5,710.3 1088.5,711.1 1089.5,712.1 1090.5,713.4 1091.5,715.0 1092.5,716.9 1093.5,719.1 1094.5,721.6 1095.5,724.4 1096.5,727.5 1097.5,731.0 1098.5,734.7 1099.5,738.7 1100.5,743.0 1101.5,747.6 1102.5,752.5 1103.5,757.7 1104.5,763.1 1105.5,768.7 1106.5,774.6 1107.5,780.5 1108.5,786.6 1109.5,792.6 1110.5,798.6 1111.5,804.3 1112.5,809.7 1113.5,814.6 1114.5,818.8 1115.5,822.2 1116.5,824.6 1117.5,825.9 1118.5,826.0 1119.5,825.0 1120.5,822.8 1121.5,819.6 1122.5,815.5 1123.5,810.7 1124.5,805.3 1125.5,799.5 1126.5,793.5 1127.5,787.2 1128.5,781.0 1129.5,774.8 1130.5,768.7 1131.5,762.8 1132.5,757.1 1133.5,751.6 1134.5,746.4 1135.5,741.5 1136.5,736.8 1137.5,732.5 1138.5,728.4 1139.5,724.7 1140.5,721.2 1141.5,718.0 1142.5,715.2 1143.5,712.6 1144.5,710.3 1145.5,708.3 1146.5,706.7 1147.5,705.2 1148.5,704.1 1149.5,703.3 1150.5,702.7 1151.5,702.5 1152.5,702.5 1153.5,702.8 1154.5,703.4 1155.5,704.3 1156.5,705.4 1157.5,706.9 1158.5,708.6 1159.5,710.6 1160.5,713.0 1161.5,715.6 1162.5,718.5 1163.5,721.7 1164.5,725.2 1165.5,729.0 1166.5,733.1 1167.5,737.5 1168.5,742.2 1169.5,747.2 1170.5,752.4 1171.5,757.8 1172.5,763.5 1173.5,769.3 1174.5,775.2 1175.5,781.2 1176.5,787.1 1177.5,792.8 1178.5,798.3 1179.5,803.4 1180.5,807.9 1181.5,811.6 1182.5,814.4 1183.5,816.2 1184.5,816.9 1185.5,816.4 1186.5,814.8 1187.5,812.0 1188.5,808.3 1189.5,803.8 1190.5,798.7 1191.5,793.0 1192.5,787.0 1193.5,780.8 1194.5,774.5 1195.5,768.2 1196.5,762.0 1197.5,755.9 1198.5,750.1 1199.5,744.4 1200.5,739.0 1201.5,733.9 1202.5,729.0 1203.5,724.5 1204.5,720.2 1205.5,716.3 1206.5,712.6 1207.5,709.3 1208.5,706.2 1209.5,703.5 1210.5,701.1 1211.5,698.9 1212.5,697.1 1213.5,695.5 1214.5,694.2 1215.5,693.3 1216.5,692.6 1217.5,692.2 1218.5,692.1 1219.5,692.3 1220.5,692.8 1221.5,693.5 1222.5,694.6 1223.5,695.9 1224.5,697.6 1225.5,699.5 1226.5,701.8 1227.5,704.3 1228.5,707.1 1229.5,710.3 1230.5,713.7 1231.5,717.4 1232.5,721.5 1233.5,725.8 1234.5,730.5 1235.5,735.4 1236.5,740.5 1237.5,746.0 1238.5,751.6 1239.5,757.4 1240.5,763.4 1241.5,769.4 1242.5,775.4 1243.5,781.3 1244.5,787.0 1245.5,792.3 1246.5,797.1 1247.5,801.2 1248.5,804.5 1249.5,806.8 1250.5,808.0 1251.5,808.0 1252.5,806.9 1253.5,804.7 1254.5,801.4 1255.5,797.3 1256.5,792.5 1257.5,787.1 1258.5,781.4 1259.5,775.3 1260.5,769.2 1261.5,763.0 1262.5,756.8 1263.5,750.8 1264.5,745.0 1265.5,739.3 1266.5,733.9 1267.5,728.8 1268.5,723.9 1269.5,719.3 1270.5,715.0 1271.5,711.0 1272.5,707.3 1273.5,703.9 1274.5,700.8 1275.5,698.0 1276.5,695.4 1277.5,693.2 1278.5,691.3 1279.5,689.6 1280.5,688.3 1281.5,687.2 1282.5,686.4 1283.5,685.9 1284.5,685.6 1285.5,685.7 1286.5,686.0 1287.5,686.7 1288.5,687.6 1289.5,688.8 1290.5,690.2 1291.5,692.0 1292.5,694.1 1293.5,696.4 1294.5,699.1 1295.5,702.0 1296.5,705.3 1297.5,708.8 1298.5,712.6 1299.5,716.8 1300.5,721.2 1301.5,725.9 1302.5,730.8 1303.5,736.0 1304.5,741.5 1305.5,747.1 1306.5,752.9 1307.5,758.8 1308.5,764.8 1309.5,770.6 1310.5,776.3 1311.5,781.8 1312.5,786.7 1313.5,791.1 1314.5,794.8 1315.5,797.5 1316.5,799.2 1317.5,799.7 1318.5,799.2 1319.5,797.4 1320.5,794.7 1321.5,790.9 1322.5,786.4 1323.5,781.3 1324.5,775.6 1325.5,769.7 1326.5,763.5 1327.5,757.3 1328.5,751.0 1329.5,744.9 1330.5,738.9 1331.5,733.1 1332.5,727.5 1333.5,722.1 1334.5,717.1 1335.5,712.3 1336.5,707.8 1337.5,703.6 1338.5,699.7 1339.5,696.1 1340.5,692.8 1341.5,689.8 1342.5,687.1 1343.5,684.7 1344.5,682.6 1345.5,680.8 1346.5,679.3 1347.5,678.0 1348.5,677.1 1349.5,676.5 1350.5,676.1 1351.5,676.0 1352.5,676.3 1353.5,676.8 1354.5,677.6 1355.5,678.7 1356.5,680.1 1357.5,681.7 1358.5,683.7 1359.5,686.0 1360.5,688.5 1361.5,691.4 1362.5,694.6 1363.5,698.0 1364.5,701.8 1365.5,705.9 1366.5,710.2 1367.5,714.9 1368.5,719.8 1369.5,725.0 1370.5,730.4 1371.5,736.0 1372.5,741.8 1373.5,747.8 1374.5,753.8 1375.5,759.8 1376.5,765.6 1377.5,771.2 1378.5,776.4 1379.5,781.1 1380.5,785.2 1381.5,788.3 1382.5,790.5 1383.5,791.6 1384.5,791.5 1385.5,790.3 1386.5,788.1 1387.5,784.8 1388.5,780.7 1389.5,775.8 1390.5,770.5 1391.5,764.7 1392.5,758.8 1393.5,752.6 1394.5,746.5 1395.5,740.4 1396.5,734.5 1397.5,728.7 1398.5,723.1 1399.5,717.7 1400.5,712.6 1401.5,707.8 1402.5,703.3 1403.5,699.0 1404.5,695.1 1405.5,691.4 1406.5,688.1 1407.5,685.0 1408.5,682.2 1409.5,679.8 1410.5,677.6 1411.5,675.7 1412.5,674.1 1413.5,672.7 1414.5,671.7 1415.5,670.9 1416.5,670.5 1417.5,670.3 1418.5,670.4 1419.5,670.7 1420.5,671.4 1421.5,672.3 1422.5,673.6 1423.5,675.1 1424.5,676.9 1425.5,679.0 1426.5,681.3 1427.5,684.0 1428.5,687.0 1429.5,690.2 1430.5,693.8 1431.5,697.7 1432.5,701.8 1433.5,706.2 1434.5,710.9 1435.5,715.9 1436.5,721.1 1437.5,726.6 1438.5,732.2 1439.5,738.0 1440.5,743.9 1441.5,749.8 1442.5,755.6 1443.5,761.2 1444.5,766.6 1445.5,771.5 1446.5,775.8 1447.5,779.3 1448.5,781.9 1449.5,783.5 1450.5,784.0 1451.5,783.3 1452.5,781.5 1453.5,778.7 1454.5,774.9 1455.5,770.4 1456.5,765.2 1457.5,759.6 1458.5,753.7 1459.5,747.6 1460.5,741.4 1461.5,735.2 1462.5,729.1 1463.5,723.2 1464.5,717.4 1465.5,711.9 1466.5,706.6 1467.5,701.6 1468.5,696.9 1469.5,692.4 1470.5,688.3 1471.5,684.4 1472.5,680.9 1473.5,677.6 1474.5,674.7 1475.5,672.0 1476.5,669.7 1477.5,667.6 1478.5,665.9 1479.5,664.4 1480.5,663.2 1481.5,662.3 1482.5,661.7 1483.5,661.4 1484.5,661.3 1485.5,661.6 1486.5,662.1 1487.5,663.0 1488.5,664.1 1489.5,665.5 1490.5,667.2 1491.5,669.2 1492.5,671.5 1493.5,674.1 1494.5,677.0 1495.5,680.2 1496.5,683.7 1497.5,687.5 1498.5,691.5 1499.5,695.9 1500.5,700.6 1501.5,705.5 1502.5,710.7 1503.5,716.1 1504.5,721.8 1505.5,727.6 1506.5,733.5 1507.5,739.4 1508.5,745.4 1509.5,751.2 1510.5,756.7 1511.5,761.9 1512.5,766.5 1513.5,770.4 1514.5,773.4 1515.5,775.5 1516.5,776.5 1517.5,776.3 1518.5,775.1 1519.5,772.7 1520.5,769.4 1521.5,765.3 1522.5,760.4 1523.5,755.1 1524.5,749.4 1525.5,743.4 1526.5,737.4 1527.5,731.3 1528.5,725.3 1529.5,719.3 1530.5,713.6 1531.5,708.1 1532.5,702.8 1533.5,697.8 1534.5,693.0 1535.5,688.5 1536.5,684.3 1537.5,680.4 1538.5,676.8 1539.5,673.5 1540.5,670.5 1541.5,667.7 1542.5,665.3 1543.5,663.2 1544.5,661.3 1545.5,659.7 1546.5,658.4 1547.5,657.4 1548.5,656.7 1549.5,656.3 1550.5,656.1 1551.5,656.2 1552.5,656.6 1553.5,657.3 1554.5,658.3 1555.5,659.6 1556.5,661.1 1557.5,662.9 1558.5,665.1 1559.5,667.5 1560.5,670.2 1561.5,673.2 1562.5,676.4 1563.5,680.0 1564.5,683.9 1565.5,688.1 1566.5,692.5 1567.5,697.2 1568.5,702.2 1569.5,707.4 1570.5,712.9 1571.5,718.5 1572.5,724.2 1573.5,730.1 1574.5,736.0 1575.5,741.7 1576.5,747.3 1577.5,752.6 1578.5,757.4 1579.5,761.6 1580.5,765.0 1581.5,767.5 1582.5,769.0 1583.5,769.4 1584.5,768.6 1585.5,766.8 1586.5,763.9 1587.5,760.1 1588.5,755.6 1589.5,750.4 1590.5,744.8 1591.5,738.9 1592.5,732.8 1593.5,726.7 1594.5,720.6 1595.5,714.5 1596.5,708.7 1597.5,703.0 1598.5,697.5 1599.5,692.3 1600.5,687.3 1601.5,682.6 1602.5,678.2 1603.5,674.1 1604.5,670.3 1605.5,666.8 1606.5,663.6 1607.5,660.7 1608.5,658.1 1609.5,655.8 1610.5,653.8 1611.5,652.1 1612.5,650.6 1613.5,649.5 1614.5,648.6 1615.5,648.0 1616.5,647.7 1617.5,647.8 1618.5,648.0 1619.5,648.6 1620.5,649.5 1621.5,650.6 1622.5,652.1 1623.5,653.8 1624.5,655.8 1625.5,658.2 1626.5,660.8 1627.5,663.7 1628.5,666.9 1629.5,670.4 1630.5,674.2 1631.5,678.3 1632.5,682.7 1633.5,687.4 1634.5,692.3 1635.5,697.5 1636.5,702.9 1637.5,708.6 1638.5,714.4 1639.5,720.2 1640.5,726.2 1641.5,732.1 1642.5,737.8 1643.5,743.3 1644.5,748.3 1645.5,752.9 1646.5,756.7 1647.5,759.6 1648.5,761.6 1649.5,762.4 1650.5,762.2 1651.5,760.9 1652.5,758.4 1653.5,755.1 1654.5,750.9 1655.5,746.1 1656.5,740.8 1657.5,735.1 1658.5,729.2 1659.5,723.2 1660.5,717.1 1661.5,711.2 1662.5,705.3 1663.5,699.6 1664.5,694.2 1665.5,688.9 1666.5,683.9 1667.5,679.2 1668.5,674.8 1669.5,670.7 1670.5,666.8 1671.5,663.2 1672.5,660.0 1673.5,657.0 1674.5,654.3 1675.5,651.9 1676.5,649.8 1677.5,648.0 1678.5,646.4 1679.5,645.2 1680.5,644.2 1681.5,643.5 1682.5,643.1 1683.5,643.0 1684.5,643.2 1685.5,643.6 1686.5,644.3 1687.5,645.3 1688.5,646.6 1689.5,648.2 1690.5,650.0 1691.5,652.2 1692.5,654.6 1693.5,657.3 1694.5,660.3 1695.5,663.7 1696.5,667.3 1697.5,671.1 1698.5,675.3 1699.5,679.8 1700.5,684.5 1701.5,689.5 1702.5,694.7 1703.5,700.1 1704.5,705.8 1705.5,711.5 1706.5,717.3 1707.5,723.1 1708.5,728.9 1709.5,734.4 1710.5,739.6 1711.5,744.3 1712.5,748.4 1713.5,751.7 1714.5,754.1 1715.5,755.5 1716.5,755.8 1717.5,754.9 1718.5,753.0 1719.5,750.1 1720.5,746.3 1721.5,741.7 1722.5,736.6 1723.5,731.0 1724.5,725.1 1725.5,719.1 1726.5,713.0 1727.5,706.9 1728.5,701.0 1729.5,695.1 1730.5,689.5 1731.5,684.1 1732.5,678.9 1733.5,674.0 1734.5,669.4 1735.5,665.0 1736.5,661.0 1737.5,657.2 1738.5,653.8 1739.5,650.6 1740.5,647.7 1741.5,645.2 1742.5,642.9 1743.5,640.9 1744.5,639.2 1745.5,637.8 1746.5,636.7 1747.5,635.9 1748.5,635.3 1749.5,635.1 1750.5,635.1 1751.5,635.4 1752.5,636.1 1753.5,637.0 1754.5,638.1 1755.5,639.6 1756.5,641.4 1757.5,643.4 1758.5,645.8 1759.5,648.4 1760.5,651.4 1761.5,654.6 1762.5,658.1 1763.5,661.9 1764.5,666.1 1765.5,670.5 1766.5,675.1 1767.5,680.1 1768.5,685.3 1769.5,690.7 1770.5,696.3 1771.5,702.1 1772.5,707.9 1773.5,713.8 1774.5,719.7 1775.5,725.4 1776.5,730.8 1777.5,735.7 1778.5,740.2 1779.5,743.9 1780.5,746.7 1781.5,748.6 1782.5,749.3 1783.5,749.0 1784.5,747.6 1785.5,745.1 1786.5,741.7 1787.5,737.5 1788.5,732.7 1789.5,727.4 1790.5,721.7 1791.5,715.9 1792.5,709.9 1793.5,703.9 1794.5,698.0 1795.5,692.2 1796.5,686.6 1797.5,681.2 1798.5,676.0 1799.5,671.0 1800.5,666.4 1801.5,662.0 1802.5,657.9 1803.5,654.1 1804.5,650.6 1805.5,647.4 1806.5,644.4 1807.5,641.8 1808.5,639.4 1809.5,637.3 1810.5,635.6 1811.5,634.1 1812.5,632.8 1813.5,631.9 1814.5,631.3 1815.5,630.9 1816.5,630.8 1817.5,631.0 1818.5,631.4 1819.5,632.2 1820.5,633.2 1821.5,634.5 1822.5,636.1 1823.5,638.0 1824.5,640.2 1825.5,642.6 1826.5,645.4 1827.5,648.4 1828.5,651.8 1829.5,655.4 1830.5,659.3 1831.5,663.5 1832.5,667.9 1833.5,672.7 1834.5,677.7 1835.5,682.9 1836.5,688.3 1837.5,693.9 1838.5,699.6 1839.5,705.4 1840.5,711.2 1841.5,716.9 1842.5,722.3 1843.5,727.5 1844.5,732.1 1845.5,736.1 1846.5,739.3 1847.5,741.6 1848.5,742.9 1849.5,743.0 1850.5,742.1 1851.5,740.1 1852.5,737.1 1853.5,733.3 1854.5,728.7 1855.5,723.6 1856.5,718.0 1857.5,712.2 1858.5,706.2 1859.5,700.2 1860.5,694.2 1861.5,688.2 1862.5,682.4 1863.5,676.9 1864.5,671.5 1865.5,666.4 1866.5,661.5 1867.5,657.0 1868.5,652.7 1869.5,648.7 1870.5,645.0 1871.5,641.5 1872.5,638.4 1873.5,635.6 1874.5,633.1 1875.5,630.8 1876.5,628.9 1877.5,627.2 1878.5,625.9 1879.5,624.8 1880.5,624.0 1881.5,623.5 1882.5,623.3 1883.5,623.3 1884.5,623.7 1885.5,624.3 1886.5,625.3 1887.5,626.5 1888.5,628.0 1889.5,629.7 1890.5,631.8 1891.5,634.2 1892.5,636.9 1893.5,639.8 1894.5,643.1 1895.5,646.6 1896.5,650.5 1897.5,654.6 1898.5,659.0 1899.5,663.7 1900.5,668.7 1901.5,673.9 1902.5,679.3 1903.5,684.9 1904.5,690.6 1905.5,696.5 1906.5,702.3 1907.5,708.1 1908.5,713.7 1909.5,719.1 1910.5,724.0 1911.5,728.3 1912.5,731.9 1913.5,734.6 1914.5,736.3 1915.5,737.0 1916.5,736.6 1917.5,735.1 1918.5,732.6 1919.5,729.1 1920.5,724.9 1921.5,720.1 1922.5,714.8 1923.5,709.2 1924.5,703.4 1925.5,697.4 1926.5,691.5 1927.5,685.6 1928.5,679.9 1929.5,674.3 1930.5,668.9 1931.5,663.8 1932.5,658.9 1933.5,654.3 1934.5,650.0 1935.5,645.9 1936.5,642.2 1937.5,638.7 1938.5,635.5 1939.5,632.6 1940.5,630.0 1941.5,627.7 1942.5,625.7 1943.5,623.9 1944.5,622.5 1945.5,621.3 1946.5,620.4 1947.5,619.8 1948.5,619.4 1949.5,619.4 1950.5,619.6 1951.5,620.1 1952.5,620.8 1953.5,621.9 1954.5,623.2 1955.5,624.9 1956.5,626.8 1957.5,629.0 1958.5,631.4 1959.5,634.2 1960.5,637.3 1961.5,640.6 1962.5,644.3 1963.5,648.2 1964.5,652.4 1965.5,656.9 1966.5,661.6 1967.5,666.6 1968.5,671.8 1969.5,677.2 1970.5,682.8 1971.5,688.5 1972.5,694.3 1973.5,700.0 1974.5,705.6 1975.5,711.0 1976.5,716.1 1977.5,720.6 1978.5,724.5 1979.5,727.6 1980.5,729.8 1981.5,731.0 1982.5,731.0 1983.5,730.0 1984.5,728.0 1985.5,724.9 1986.5,721.1 1987.5,716.5 1988.5,711.4 1989.5,705.8 1990.5,700.0 1991.5,694.1 1992.5,688.1 1993.5,682.1 1994.5,676.2 1995.5,670.5 1996.5,665.0 1997.5,659.7 1998.5,654.6 1999.5,649.8 2000.5,645.3 2001.5,641.0 2002.5,637.1 2003.5,633.4 2004.5,630.1 2005.5,627.0 2006.5,624.2 2007.5,621.7 2008.5,619.5 2009.5,617.6 2010.5,616.0 2011.5,614.7 2012.5,613.6 2013.5,612.8 2014.5,612.4 2015.5,612.2 2016.5,612.3 2017.5,612.7 2018.5,613.3 2019.5,614.3 2020.5,615.5 2021.5,617.0 2022.5,618.9 2023.5,621.0 2024.5,623.4 2025.5,626.0 2026.5,629.0 2027.5,632.3 2028.5,635.9 2029.5,639.7 2030.5,643.9 2031.5,648.3 2032.5,653.0 2033.5,657.9 2034.5,663.1 2035.5,668.5 2036.5,674.1 2037.5,679.9 2038.5,685.7 2039.5,691.5 2040.5,697.2 2041.5,702.8 2042.5,708.0 2043.5,712.9 2044.5,717.1 2045.5,720.6 2046.5,723.2 2047.5,724.8 2048.5,725.4 2049.5,724.9 2050.5,723.3 2051.5,720.7 2052.5,717.3 2053.5,713.1 2054.5,708.2 2055.5,703.0 2056.5,697.4 2057.5,691.6 2058.5,685.7 2059.5,679.8 2060.5,674.0 2061.5,668.3 2062.5,662.8 2063.5,657.4 2064.5,652.4 2065.5,647.5 2066.5,643.0 2067.5,638.7 2068.5,634.7 2069.5,631.0 2070.5,627.5 2071.5,624.4 2072.5,621.5 2073.5,619.0 2074.5,616.7 2075.5,614.7 2076.5,613.0 2077.5,611.6 2078.5,610.4 2079.5,609.5 2080.5,608.9 2081.5,608.6 2082.5,608.6 2083.5,608.8 2084.5,609.4 2085.5,610.2 2086.5,611.3 2087.5,612.6 2088.5,614.3 2089.5,616.2 2090.5,618.4 2091.5,620.9 2092.5,623.7 2093.5,626.8 2094.5,630.2 2095.5,633.8 2096.5,637.7 2097.5,642.0 2098.5,646.4 2099.5,651.2 2100.5,656.2 2101.5,661.4 2102.5,666.8 2103.5,672.4 2104.5,678.0 2105.5,683.8 2106.5,689.5 2107.5,695.0 2108.5,700.4 2109.5,705.3 2110.5,709.8 2111.5,713.6 2112.5,716.6 2113.5,718.6 2114.5,719.7 2115.5,719.7 2116.5,718.6 2117.5,716.5 2118.5,713.4 2119.5,709.5 2120.5,704.9 2121.5,699.8 2122.5,694.3 2123.5,688.5 2124.5,682.6 2125.5,676.7 2126.5,670.7 2127.5,664.9 2128.5,659.3 2129.5,653.8 2130.5,648.5 2131.5,643.5 2132.5,638.7 2133.5,634.3 2134.5,630.1 2135.5,626.2 2136.5,622.5 2137.5,619.2 2138.5,616.2 2139.5,613.4 2140.5,611.0 2141.5,608.8 2142.5,607.0 2143.5,605.4 2144.5,604.1 2145.5,603.1 2146.5,602.3 2147.5,601.9 2148.5,601.7 2149.5,601.9 2150.5,602.3 2151.5,603.0 2152.5,603.9 2153.5,605.2 2154.5,606.8 2155.5,608.6 2156.5,610.7 2157.5,613.1 2158.5,615.9 2159.5,618.9 2160.5,622.2 2161.5,625.7 2162.5,629.6 2163.5,633.8 2164.5,638.2 2165.5,642.9 2166.5,647.9 2167.5,653.1 2168.5,658.5 2169.5,664.0 2170.5,669.7 2171.5,675.5 2172.5,681.3 2173.5,687.0 2174.5,692.5 2175.5,697.6 2176.5,702.4 2177.5,706.5 2178.5,709.9 2179.5,712.4 2180.5,713.9 2181.5,714.4 2182.5,713.8 2183.5,712.2 2184.5,709.5 2185.5,706.0 2186.5,701.8 2187.5,697.0 2188.5,691.7 2189.5,686.1 2190.5,680.4 2191.5,674.5 2192.5,668.7 2193.5,662.9 2194.5,657.3 2195.5,651.8 2196.5,646.6 2197.5,641.5 2198.5,636.7 2199.5,632.2 2200.5,628.0 2201.5,624.0 2202.5,620.4 2203.5,617.0 2204.5,613.9 2205.5,611.1 2206.5,608.5 2207.5,606.3 2208.5,604.3 2209.5,602.6 2210.5,601.2 2211.5,600.1 2212.5,599.3 2213.5,598.7 2214.5,598.5 2215.5,598.5 2216.5,598.7 2217.5,599.3 2218.5,600.1 2219.5,601.2 2220.5,602.6 2221.5,604.3 2222.5,606.2 2223.5,608.5"/>
<polyline id="p3" points="243.5,1177.6 244.5,1183.2 245.5,1188.8 246.5,1194.4 247.5,1199.9 248.5,1205.1 249.5,1209.9 250.5,1214.1 251.5,1217.6 252.5,1220.1 253.5,1221.7 254.5,1222.2 255.5,1221.5 256.5,1219.7 257.5,1216.8 258.5,1212.9 259.5,1208.2 260.5,1202.9 261.5,1197.0 262.5,1190.8 263.5,1184.4 264.5,1177.9 265.5,1171.4 266.5,1165.0 267.5,1158.7 268.5,1152.6 269.5,1146.7 270.5,1141.1 271.5,1135.7 272.5,1130.6 273.5,1125.8 274.5,1121.3 275.5,1117.1 276.5,1113.2 277.5,1109.6 278.5,1106.3 279.5,1103.2 280.5,1100.5 281.5,1098.1 282.5,1096.0 283.5,1094.1 284.5,1092.6 285.5,1091.4 286.5,1090.4 287.5,1089.7 288.5,1089.3 289.5,1089.2 290.5,1089.4 291.5,1089.9 292.5,1090.7 293.5,1091.7 294.5,1093.1 295.5,1094.7 296.5,1096.6 297.5,1098.9 298.5,1101.4 299.5,1104.2 300.5,1107.4 301.5,1110.8 302.5,1114.5 303.5,1118.5 304.5,1122.8 305.5,1127.4 306.5,1132.3 307.5,1137.4 308.5,1142.7 309.5,1148.2 310.5,1153.8 311.5,1159.6 312.5,1165.3 313.5,1170.9 314.5,1176.3 315.5,1181.3 316.5,1185.8 317.5,1189.7 318.5,1192.8 319.5,1194.9 320.5,1195.9 321.5,1195.8 322.5,1194.6 323.5,1192.2 324.5,1188.8 325.5,1184.6 326.5,1179.6 327.5,1174.1 328.5,1168.1 329.5,1161.9 330.5,1155.5 331.5,1149.1 332.5,1142.7 333.5,1136.5 334.5,1130.4 335.5,1124.5 336.5,1118.8 337.5,1113.4 338.5,1108.3 339.5,1103.4 340.5,1098.9 341.5,1094.6 342.5,1090.7 343.5,1087.0 344.5,1083.6 345.5,1080.5 346.5,1077.8 347.5,1075.3 348.5,1073.1 349.5,1071.2 350.5,1069.6 351.5,1068.3 352.5,1067.2 353.5,1066.5 354.5,1066.0 355.5,1065.8 356.5,1065.9 357.5,1066.3 358.5,1067.0 359.5,1067.9 360.5,1069.2 361.5,1070.7 362.5,1072.6 363.5,1074.7 364.5,1077.1 365.5,1079.8 366.5,1082.8 367.5,1086.2 368.5,1089.8 369.5,1093.7 370.5,1097.9 371.5,1102.3 372.5,1107.1 373.5,1112.1 374.5,1117.3 375.5,1122.7 376.5,1128.3 377.5,1134.0 378.5,1139.7 379.5,1145.4 380.5,1150.9 381.5,1156.1 382.5,1160.9 383.5,1165.1 384.5,1168.6 385.5,1171.2 386.5,1172.7 387.5,1173.2 388.5,1172.5 389.5,1170.7 390.5,1167.8 391.5,1164.0 392.5,1159.4 393.5,1154.2 394.5,1148.4 395.5,1142.3 396.5,1136.1 397.5,1129.7 398.5,1123.3 399.5,1117.0 400.5,1110.9 401.5,1104.9 402.5,1099.2 403.5,1093.7 404.5,1088.4 405.5,1083.5 406.5,1078.8 407.5,1074.4 408.5,1070.4 409.5,1066.6 410.5,1063.1 411.5,1059.9 412.5,1057.0 413.5,1054.4 414.5,1052.1 415.5,1050.1 416.5,1048.4 417.5,1047.0 418.5,1045.9 419.5,1045.0 420.5,1044.5 421.5,1044.2 422.5,1044.2 423.5,1044.5 424.5,1045.1 425.5,1046.0 426.5,1047.1 427.5,1048.6 428.5,1050.3 429.5,1052.4 430.5,1054.7 431.5,1057.4 432.5,1060.3 433.5,1063.5 434.5,1067.1 435.5,1070.9 436.5,1075.0 437.5,1079.4 438.5,1084.1 439.5,1089.0 440.5,1094.2 441.5,1099.6 442.5,1105.2 443.5,1110.9 444.5,1116.6 445.5,1122.4 446.5,1128.0 447.5,1133.4 448.5,1138.4 449.5,1143.0 450.5,1146.8 451.5,1149.8 452.5,1151.9 453.5,1152.9 454.5,1152.8 455.5,1151.5 456.5,1149.2 457.5,1145.8 458.5,1141.6 459.5,1136.7 460.5,1131.2 461.5,1125.4 462.5,1119.2 463.5,1113.0 464.5,1106.7 465.5,1100.4 466.5,1094.3 467.5,1088.3 468.5,1082.5 469.5,1077.0 470.5,1071.7 471.5,1066.7 472.5,1061.9 473.5,1057.5 474.5,1053.3 475.5,1049.5 476.5,1045.9 477.5,1042.7 478.5,1039.7 479.5,1037.0 480.5,1034.6 481.5,1032.6 482.5,1030.7 483.5,1029.2 484.5,1028.0 485.5,1027.1 486.5,1026.4 487.5,1026.0 488.5,1026.0 489.5,1026.1 490.5,1026.6 491.5,1027.4 492.5,1028.4 493.5,1029.8 494.5,1031.4 495.5,1033.3 496.5,1035.6 497.5,1038.1 498.5,1040.9 499.5,1044.0 500.5,1047.4 501.5,1051.1 502.5,1055.0 503.5,1059.3 504.5,1063.9 505.5,1068.7 506.5,1073.7 507.5,1079.0 508.5,1084.5 509.5,1090.1 510.5,1095.8 511.5,1101.6 512.5,1107.3 513.5,1112.8 514.5,1118.0 515.5,1122.8 516.5,1126.9 517.5,1130.4 518.5,1132.9 519.5,1134.4 520.5,1134.8 521.5,1134.1 522.5,1132.3 523.5,1129.4 524.5,1125.6 525.5,1121.0 526.5,1115.8 527.5,1110.1 528.5,1104.1 529.5,1097.9 530.5,1091.7 531.5,1085.4 532.5,1079.2 533.5,1073.2 534.5,1067.3 535.5,1061.7 536.5,1056.3 537.5,1051.1 538.5,1046.3 539.5,1041.7 540.5,1037.4 541.5,1033.4 542.5,1029.8 543.5,1026.4 544.5,1023.3 545.5,1020.5 546.5,1018.0 547.5,1015.8 548.5,1013.9 549.5,1012.2 550.5,1010.9 551.5,1009.9 552.5,1009.1 553.5,1008.6 554.5,1008.4 555.5,1008.5 556.5,1008.9 557.5,1009.6 558.5,1010.5 559.5,1011.8 560.5,1013.3 561.5,1015.1 562.5,1017.2 563.5,1019.6 564.5,1022.4 565.5,1025.4 566.5,1028.7 567.5,1032.3 568.5,1036.1 569.5,1040.3 570.5,1044.8 571.5,1049.5 572.5,1054.5 573.5,1059.7 574.5,1065.2 575.5,1070.8 576.5,1076.5 577.5,1082.3 578.5,1088.0 579.5,1093.7 580.5,1099.1 581.5,1104.1 582.5,1108.6 583.5,1112.4 584.5,1115.3 585.5,1117.3 586.5,1118.3 587.5,1118.1 588.5,1116.8 589.5,1114.4 590.5,1111.1 591.5,1106.9 592.5,1102.0 593.5,1096.6 594.5,1090.7 595.5,1084.7 596.5,1078.5 597.5,1072.3 598.5,1066.1 599.5,1060.1 600.5,1054.2 601.5,1048.5 602.5,1043.1 603.5,1037.9 604.5,1032.9 605.5,1028.3 606.5,1023.9 607.5,1019.9 608.5,1016.1 609.5,1012.6 610.5,1009.4 611.5,1006.6 612.5,1004.0 613.5,1001.7 614.5,999.6 615.5,997.9 616.5,996.5 617.5,995.3 618.5,994.5 619.5,993.9 620.5,993.6 621.5,993.6 622.5,993.8 623.5,994.4 624.5,995.2 625.5,996.3 626.5,997.7 627.5,999.4 628.5,1001.4 629.5,1003.7 630.5,1006.3 631.5,1009.1 632.5,1012.3 633.5,1015.8 634.5,1019.5 635.5,1023.5 636.5,1027.9 637.5,1032.5 638.5,1037.3 639.5,1042.4 640.5,1047.7 641.5,1053.2 642.5,1058.9 643.5,1064.6 644.5,1070.4 645.5,1076.1 646.5,1081.5 647.5,1086.7 648.5,1091.5 649.5,1095.6 650.5,1098.9 651.5,1101.4 652.5,1102.9 653.5,1103.2 654.5,1102.4 655.5,1100.5 656.5,1097.6 657.5,1093.8 658.5,1089.3 659.5,1084.1 660.5,1078.5 661.5,1072.5 662.5,1066.4 663.5,1060.2 664.5,1054.0 665.5,1047.9 666.5,1041.9 667.5,1036.2 668.5,1030.6 669.5,1025.3 670.5,1020.3 671.5,1015.5 672.5,1011.0 673.5,1006.8 674.5,1002.9 675.5,999.3 676.5,996.0 677.5,992.9 678.5,990.2 679.5,987.8 680.5,985.7 681.5,983.8 682.5,982.3 683.5,981.0 684.5,980.0 685.5,979.3 686.5,978.9 687.5,978.8 688.5,978.9 689.5,979.4 690.5,980.1 691.5,981.1 692.5,982.4 693.5,984.0 694.5,985.9 695.5,988.1 696.5,990.5 697.5,993.3 698.5,996.3 699.5,999.7 700.5,1003.3 701.5,1007.3 702.5,1011.5 703.5,1016.0 704.5,1020.8 705.5,1025.8 706.5,1031.1 707.5,1036.5 708.5,1042.2 709.5,1047.9 710.5,1053.7 711.5,1059.4 712.5,1065.0 713.5,1070.4 714.5,1075.4 715.5,1079.8 716.5,1083.5 717.5,1086.4 718.5,1088.4 719.5,1089.2 720.5,1089.0 721.5,1087.6 722.5,1085.2 723.5,1081.8 724.5,1077.6 725.5,1072.8 726.5,1067.4 727.5,1061.6 728.5,1055.6 729.5,1049.5 730.5,1043.3 731.5,1037.3 732.5,1031.3 733.5,1025.5 734.5,1019.9 735.5,1014.5 736.5,1009.4 737.5,1004.5 738.5,1000.0 739.5,995.7 740.5,991.7 741.5,988.0 742.5,984.6 743.5,981.5 744.5,978.6 745.5,976.1 746.5,973.9 747.5,971.9 748.5,970.3 749.5,968.9 750.5,967.8 751.5,967.0 752.5,966.5 753.5,966.2 754.5,966.2 755.5,966.6 756.5,967.2 757.5,968.1 758.5,969.2 759.5,970.7 760.5,972.5 761.5,974.5 762.5,976.8 763.5,979.4 764.5,982.4 765.5,985.6 766.5,989.1 767.5,992.9 768.5,996.9 769.5,1001.3 770.5,1005.9 771.5,1010.8 772.5,1016.0 773.5,1021.3 774.5,1026.8 775.5,1032.5 776.5,1038.2 777.5,1044.0 778.5,1049.6 779.5,1055.1 780.5,1060.2 781.5,1064.9 782.5,1068.9 783.5,1072.2 784.5,1074.6 785.5,1076.0 786.5,1076.2 787.5,1075.4 788.5,1073.5 789.5,1070.6 790.5,1066.7 791.5,1062.2 792.5,1057.0 793.5,1051.4 794.5,1045.5 795.5,1039.5 796.5,1033.3 797.5,1027.2 798.5,1021.2 799.5,1015.3 800.5,1009.6 801.5,1004.1 802.5,998.8 803.5,993.9 804.5,989.2 805.5,984.7 806.5,980.6 807.5,976.8 808.5,973.2 809.5,970.0 810.5,967.0 811.5,964.4 812.5,962.0 813.5,959.9 814.5,958.1 815.5,956.6 816.5,955.4 817.5,954.5 818.5,953.8 819.5,953.5 820.5,953.4 821.5,953.6 822.5,954.1 823.5,954.9 824.5,956.0 825.5,957.3 826.5,958.9 827.5,960.9 828.5,963.1 829.5,965.6 830.5,968.4 831.5,971.5 832.5,974.9 833.5,978.6 834.5,982.6 835.5,986.9 836.5,991.4 837.5,996.2 838.5,1001.3 839.5,1006.5 840.5,1012.0 841.5,1017.6 842.5,1023.4 843.5,1029.2 844.5,1034.9 845.5,1040.5 846.5,1045.8 847.5,1050.7 848.5,1055.0 849.5,1058.7 850.5,1061.5 851.5,1063.4 852.5,1064.1 853.5,1063.8 854.5,1062.4 855.5,1059.9 856.5,1056.5 857.5,1052.3 858.5,1047.5 859.5,1042.1 860.5,1036.4 861.5,1030.4 862.5,1024.4 863.5,1018.3 864.5,1012.3 865.5,1006.4 866.5,1000.6 867.5,995.1 868.5,989.8 869.5,984.7 870.5,979.9 871.5,975.4 872.5,971.2 873.5,967.3 874.5,963.7 875.5,960.3 876.5,957.3 877.5,954.5 878.5,952.0 879.5,949.8 880.5,947.9 881.5,946.3 882.5,945.0 883.5,944.0 884.5,943.2 885.5,942.7 886.5,942.5 887.5,942.6 888.5,943.0 889.5,943.7 890.5,944.6 891.5,945.8 892.5,947.3 893.5,949.1 894.5,951.2 895.5,953.6 896.5,956.2 897.5,959.2 898.5,962.4 899.5,966.0 900.5,969.8 901.5,973.9 902.5,978.3 903.5,983.0 904.5,987.9 905.5,993.0 906.5,998.4 907.5,1003.9 908.5,1009.6 909.5,1015.3 910.5,1021.0 911.5,1026.7 912.5,1032.1 913.5,1037.2 914.5,1041.8 915.5,1045.8 916.5,1049.0 917.5,1051.3 918.5,1052.5 919.5,1052.7 920.5,1051.8 921.5,1049.8 922.5,1046.9 923.5,1043.0 924.5,1038.5 925.5,1033.3 926.5,1027.8 927.5,1021.9 928.5,1015.9 929.5,1009.8 930.5,1003.8 931.5,997.8 932.5,992.0 933.5,986.3 934.5,980.9 935.5,975.7 936.5,970.8 937.5,966.2 938.5,961.8 939.5,957.7 940.5,954.0 941.5,950.5 942.5,947.3 943.5,944.4 944.5,941.8 945.5,939.5 946.5,937.4 947.5,935.7 948.5,934.2 949.5,933.1 950.5,932.2 951.5,931.6 952.5,931.3 953.5,931.3 954.5,931.5 955.5,932.1 956.5,932.9 957.5,934.0 958.5,935.4 959.5,937.1 960.5,939.0 961.5,941.3 962.5,943.8 963.5,946.7 964.5,949.8 965.5,953.3 966.5,957.0 967.5,961.0 968.5,965.3 969.5,969.9 970.5,974.7 971.5,979.8 972.5,985.1 973.5,990.5 974.5,996.2 975.5,1001.9 976.5,1007.7 977.5,1013.4 978.5,1018.9 979.5,1024.2 980.5,1029.0 981.5,1033.3 982.5,1036.9 983.5,1039.6 984.5,1041.4 985.5,1042.1 986.5,1041.7 987.5,1040.2 988.5,1037.7 989.5,1034.2 990.5,1030.0 991.5,1025.2 992.5,1019.8 993.5,1014.1 994.5,1008.2 995.5,1002.2 996.5,996.2 997.5,990.2 998.5,984.4 999.5,978.7 1000.5,973.2 1001.5,968.0 1002.5,963.0 1003.5,958.3 1004.5,953.8 1005.5,949.7 1006.5,945.8 1007.5,942.2 1008.5,938.9 1009.5,935.9 1010.5,933.2 1011.5,930.8 1012.5,928.6 1013.5,926.8 1014.5,925.2 1015.5,924.0 1016.5,923.0 1017.5,922.3 1018.5,921.8 1019.5,921.7 1020.5,921.8 1021.5,922.2 1022.5,922.9 1023.5,923.9 1024.5,925.2 1025.5,926.7 1026.5,928.5 1027.5,930.7 1028.5,933.1 1029.5,935.8 1030.5,938.8 1031.5,942.0 1032.5,945.6 1033.5,949.5 1034.5,953.6 1035.5,958.0 1036.5,962.7 1037.5,967.6 1038.5,972.8 1039.5,978.2 1040.5,983.7 1041.5,989.4 1042.5,995.1 1043.5,1000.8 1044.5,1006.4 1045.5,1011.8 1046.5,1016.8 1047.5,1021.3 1048.5,1025.2 1049.5,1028.3 1050.5,1030.5 1051.5,1031.7 1052.5,1031.8 1053.5,1030.9 1054.5,1028.8 1055.5,1025.8 1056.5,1021.9 1057.5,1017.4 1058.5,1012.3 1059.5,1006.7 1060.5,1000.9 1061.5,994.9 1062.5,988.9 1063.5,982.9 1064.5,977.0 1065.5,971.2 1066.5,965.6 1067.5,960.3 1068.5,955.1 1069.5,950.3 1070.5,945.7 1071.5,941.4 1072.5,937.4 1073.5,933.7 1074.5,930.2 1075.5,927.1 1076.5,924.2 1077.5,921.7 1078.5,919.4 1079.5,917.4 1080.5,915.8 1081.5,914.3 1082.5,913.2 1083.5,912.4 1084.5,911.8 1085.5,911.6 1086.5,911.6 1087.5,911.9 1088.5,912.5 1089.5,913.3 1090.5,914.5 1091.5,915.9 1092.5,917.6 1093.5,919.6 1094.5,921.9 1095.5,924.5 1096.5,927.4 1097.5,930.6 1098.5,934.0 1099.5,937.8 1100.5,941.8 1101.5,946.1 1102.5,950.7 1103.5,955.6 1104.5,960.7 1105.5,966.0 1106.5,971.5 1107.5,977.1 1108.5,982.8 1109.5,988.5 1110.5,994.2 1111.5,999.7 1112.5,1004.9 1113.5,1009.7 1114.5,1013.9 1115.5,1017.4 1116.5,1020.0 1117.5,1021.7 1118.5,1022.3 1119.5,1021.8 1120.5,1020.3 1121.5,1017.7 1122.5,1014.3 1123.5,1010.0 1124.5,1005.2 1125.5,999.9 1126.5,994.2 1127.5,988.3 1128.5,982.4 1129.5,976.4 1130.5,970.5 1131.5,964.7 1132.5,959.1 1133.5,953.6 1134.5,948.5 1135.5,943.5 1136.5,938.9 1137.5,934.5 1138.5,930.4 1139.5,926.5 1140.5,923.0 1141.5,919.8 1142.5,916.8 1143.5,914.1 1144.5,911.8 1145.5,909.7 1146.5,907.9 1147.5,906.4 1148.5,905.1 1149.5,904.2 1150.5,903.5 1151.5,903.1 1152.5,903.0 1153.5,903.2 1154.5,903.6 1155.5,904.4 1156.5,905.4 1157.5,906.7 1158.5,908.3 1159.5,910.1 1160.5,912.3 1161.5,914.7 1162.5,917.5 1163.5,920.5 1164.5,923.8 1165.5,927.4 1166.5,931.3 1167.5,935.4 1168.5,939.9 1169.5,944.6 1170.5,949.5 1171.5,954.7 1172.5,960.1 1173.5,965.6 1174.5,971.3 1175.5,977.0 1176.5,982.6 1177.5,988.2 1178.5,993.5 1179.5,998.5 1180.5,1003.0 1181.5,1006.8 1182.5,1009.8 1183.5,1011.9 1184.5,1013.0 1185.5,1013.0 1186.5,1012.0 1187.5,1009.9 1188.5,1006.8 1189.5,1002.9 1190.5,998.4 1191.5,993.2 1192.5,987.7 1193.5,981.9 1194.5,976.0 1195.5,970.0 1196.5,964.1 1197.5,958.2 1198.5,952.5 1199.5,947.0 1200.5,941.7 1201.5,936.6 1202.5,931.8 1203.5,927.3 1204.5,923.0 1205.5,919.1 1206.5,915.4 1207.5,912.0 1208.5,908.9 1209.5,906.1 1210.5,903.6 1211.5,901.4 1212.5,899.5 1213.5,897.8 1214.5,896.4 1215.5,895.4 1216.5,894.6 1217.5,894.1 1218.5,893.8 1219.5,893.9 1220.5,894.2 1221.5,894.8 1222.5,895.7 1223.5,896.9 1224.5,898.4 1225.5,900.1 1226.5,902.2 1227.5,904.5 1228.5,907.1 1229.5,910.0 1230.5,913.2 1231.5,916.7 1232.5,920.5 1233.5,924.6 1234.5,928.9 1235.5,933.5 1236.5,938.4 1237.5,943.5 1238.5,948.8 1239.5,954.3 1240.5,959.9 1241.5,965.6 1242.5,971.3 1243.5,976.9 1244.5,982.4 1245.5,987.5 1246.5,992.3 1247.5,996.4 1248.5,999.8 1249.5,1002.3 1250.5,1003.9 1251.5,1004.4 1252.5,1003.8 1253.5,1002.2 1254.5,999.6 1255.5,996.1 1256.5,991.9 1257.5,987.0 1258.5,981.7 1259.5,976.1 1260.5,970.3 1261.5,964.3 1262.5,958.4 1263.5,952.5 1264.5,946.8 1265.5,941.2 1266.5,935.9 1267.5,930.8 1268.5,925.9 1269.5,921.3 1270.5,916.9 1271.5,912.9 1272.5,909.1 1273.5,905.6 1274.5,902.4 1275.5,899.5 1276.5,896.9 1277.5,894.6 1278.5,892.5 1279.5,890.8 1280.5,889.3 1281.5,888.1 1282.5,887.2 1283.5,886.5 1284.5,886.2 1285.5,886.1 1286.5,886.3 1287.5,886.8 1288.5,887.6 1289.5,888.6 1290.5,890.0 1291.5,891.6 1292.5,893.5 1293.5,895.7 1294.5,898.1 1295.5,900.9 1296.5,904.0 1297.5,907.3 1298.5,910.9 1299.5,914.8 1300.5,919.0 1301.5,923.5 1302.5,928.2 1303.5,933.2 1304.5,938.3 1305.5,943.7 1306.5,949.2 1307.5,954.9 1308.5,960.6 1309.5,966.2 1310.5,971.7 1311.5,977.0 1312.5,981.9 1313.5,986.3 1314.5,990.0 1315.5,992.9 1316.5,995.0 1317.5,996.0 1318.5,995.9 1319.5,994.7 1320.5,992.6 1321.5,989.5 1322.5,985.6 1323.5,981.0 1324.5,975.9 1325.5,970.4 1326.5,964.7 1327.5,958.8 1328.5,952.8 1329.5,946.9 1330.5,941.1 1331.5,935.4 1332.5,930.0 1333.5,924.7 1334.5,919.7 1335.5,915.0 1336.5,910.5 1337.5,906.3 1338.5,902.4 1339.5,898.8 1340.5,895.4 1341.5,892.4 1342.5,889.6 1343.5,887.2 1344.5,885.0 1345.5,883.1 1346.5,881.5 1347.5,880.1 1348.5,879.1 1349.5,878.4 1350.5,877.9 1351.5,877.7 1352.5,877.8 1353.5,878.1 1354.5,878.8 1355.5,879.7 1356.5,880.9 1357.5,882.4 1358.5,884.2 1359.5,886.3 1360.5,888.7 1361.5,891.3 1362.5,894.2 1363.5,897.5 1364.5,901.0 1365.5,904.8 1366.5,908.9 1367.5,913.2 1368.5,917.9 1369.5,922.7 1370.5,927.8 1371.5,933.2 1372.5,938.6 1373.5,944.3 1374.5,949.9 1375.5,955.6 1376.5,961.2 1377.5,966.6 1378.5,971.7 1379.5,976.3 1380.5,980.4 1381.5,983.7 1382.5,986.1 1383.5,987.6 1384.5,988.0 1385.5,987.4 1386.5,985.7 1387.5,983.0 1388.5,979.5 1389.5,975.3 1390.5,970.4 1391.5,965.1 1392.5,959.5 1393.5,953.7 1394.5,947.8 1395.5,942.0 1396.5,936.1 1397.5,930.5 1398.5,924.9 1399.5,919.6 1400.5,914.6 1401.5,909.7 1402.5,905.2 1403.5,900.9 1404.5,896.9 1405.5,893.1 1406.5,889.7 1407.5,886.6 1408.5,883.7 1409.5,881.1 1410.5,878.8 1411.5,876.8 1412.5,875.1 1413.5,873.7 1414.5,872.5 1415.5,871.6 1416.5,871.0 1417.5,870.7 1418.5,870.7 1419.5,870.9 1420.5,871.5 1421.5,872.3 1422.5,873.3 1423.5,874.7 1424.5,876.3 1425.5,878.3 1426.5,880.5 1427.5,883.0 1428.5,885.8 1429.5,888.9 1430.5,892.2 1431.5,895.9 1432.5,899.8 1433.5,904.0 1434.5,908.5 1435.5,913.2 1436.5,918.2 1437.5,923.4 1438.5,928.8 1439.5,934.3 1440.5,939.9 1441.5,945.6 1442.5,951.2 1443.5,956.6 1444.5,961.8 1445.5,966.7 1446.5,971.0 1447.5,974.6 1448.5,977.5 1449.5,979.4 1450.5,980.3 1451.5,980.1 1452.5,978.9 1453.5,976.7 1454.5,973.6 1455.5,969.6 1456.5,965.1 1457.5,960.0 1458.5,954.5 1459.5,948.8 1460.5,942.9 1461.5,937.0 1462.5,931.1 1463.5,925.4 1464.5,919.8 1465.5,914.4 1466.5,909.2 1467.5,904.2 1468.5,899.5 1469.5,895.1 1470.5,890.9 1471.5,887.1 1472.5,883.5 1473.5,880.2 1474.5,877.2 1475.5,874.5 1476.5,872.0 1477.5,869.9 1478.5,868.1 1479.5,866.5 1480.5,865.2 1481.5,864.2 1482.5,863.5 1483.5,863.0 1484.5,862.9 1485.5,863.0 1486.5,863.4 1487.5,864.1 1488.5,865.0 1489.5,866.3 1490.5,867.8 1491.5,869.6 1492.5,871.7 1493.5,874.1 1494.5,876.8 1495.5,879.8 1496.5,883.0 1497.5,886.6 1498.5,890.4 1499.5,894.5 1500.5,898.9 1501.5,903.5 1502.5,908.4 1503.5,913.5 1504.5,918.8 1505.5,924.3 1506.5,929.9 1507.5,935.6 1508.5,941.2 1509.5,946.8 1510.5,952.1 1511.5,957.1 1512.5,961.7 1513.5,965.7 1514.5,968.9 1515.5,971.2 1516.5,972.6 1517.5,972.9 1518.5,972.2 1519.5,970.5 1520.5,967.8 1521.5,964.2 1522.5,959.9 1523.5,955.1 1524.5,949.8 1525.5,944.2 1526.5,938.4 1527.5,932.6 1528.5,926.8 1529.5,921.0 1530.5,915.4 1531.5,909.9 1532.5,904.6 1533.5,899.6 1534.5,894.8 1535.5,890.3 1536.5,886.1 1537.5,882.1 1538.5,878.4 1539.5,875.0 1540.5,871.9 1541.5,869.1 1542.5,866.6 1543.5,864.3 1544.5,862.4 1545.5,860.7 1546.5,859.3 1547.5,858.2 1548.5,857.3 1549.5,856.8 1550.5,856.5 1551.5,856.5 1552.5,856.8 1553.5,857.3 1554.5,858.1 1555.5,859.3 1556.5,860.6 1557.5,862.3 1558.5,864.3 1559.5,866.5 1560.5,869.1 1561.5,871.9 1562.5,875.0 1563.5,878.4 1564.5,882.0 1565.5,886.0 1566.5,890.2 1567.5,894.7 1568.5,899.4 1569.5,904.4 1570.5,909.6 1571.5,915.0 1572.5,920.5 1573.5,926.1 1574.5,931.7 1575.5,937.3 1576.5,942.7 1577.5,947.9 1578.5,952.6 1579.5,956.9 1580.5,960.4 1581.5,963.2 1582.5,965.0 1583.5,965.8 1584.5,965.6 1585.5,964.3 1586.5,962.0 1587.5,958.8 1588.5,954.9 1589.5,950.3 1590.5,945.2 1591.5,939.7 1592.5,934.0 1593.5,928.2 1594.5,922.3 1595.5,916.5 1596.5,910.8 1597.5,905.3 1598.5,899.9 1599.5,894.7 1600.5,889.8 1601.5,885.2 1602.5,880.8 1603.5,876.7 1604.5,872.9 1605.5,869.3 1606.5,866.1 1607.5,863.1 1608.5,860.5 1609.5,858.1 1610.5,856.0 1611.5,854.2 1612.5,852.6 1613.5,851.4 1614.5,850.4 1615.5,849.7 1616.5,849.3 1617.5,849.2 1618.5,849.3 1619.5,849.8 1620.5,850.5 1621.5,851.5 1622.5,852.8 1623.5,854.3 1624.5,856.2 1625.5,858.3 1626.5,860.7 1627.5,863.4 1628.5,866.4 1629.5,869.7 1630.5,873.2 1631.5,877.1 1632.5,881.2 1633.5,885.6 1634.5,890.3 1635.5,895.1 1636.5,900.3 1637.5,905.6 1638.5,911.1 1639.5,916.6 1640.5,922.3 1641.5,927.9 1642.5,933.4 1643.5,938.7 1644.5,943.7 1645.5,948.2 1646.5,952.0 1647.5,955.2 1648.5,957.4 1649.5,958.7 1650.5,958.9 1651.5,958.1 1652.5,956.3 1653.5,953.5 1654.5,949.9 1655.5,945.6 1656.5,940.8 1657.5,935.5 1658.5,930.0 1659.5,924.2 1660.5,918.4 1661.5,912.6 1662.5,906.9 1663.5,901.3 1664.5,895.9 1665.5,890.7 1666.5,885.7 1667.5,881.0 1668.5,876.5 1669.5,872.3 1670.5,868.4 1671.5,864.8 1672.5,861.4 1673.5,858.4 1674.5,855.6 1675.5,853.1 1676.5,850.9 1677.5,849.0 1678.5,847.3 1679.5,846.0 1680.5,844.9 1681.5,844.1 1682.5,843.5 1683.5,843.3 1684.5,843.3 1685.5,843.6 1686.5,844.2 1687.5,845.1 1688.5,846.2 1689.5,847.6 1690.5,849.3 1691.5,851.3 1692.5,853.6 1693.5,856.1 1694.5,859.0 1695.5,862.1 1696.5,865.5 1697.5,869.2 1698.5,873.2 1699.5,877.4 1700.5,881.9 1701.5,886.7 1702.5,891.7 1703.5,896.9 1704.5,902.2 1705.5,907.7 1706.5,913.3 1707.5,918.9 1708.5,924.4 1709.5,929.8 1710.5,934.9 1711.5,939.6 1712.5,943.7 1713.5,947.2 1714.5,949.9 1715.5,951.6 1716.5,952.3 1717.5,952.0 1718.5,950.6 1719.5,948.3 1720.5,945.1 1721.5,941.1 1722.5,936.5 1723.5,931.4 1724.5,925.9 1725.5,920.3 1726.5,914.5 1727.5,908.7 1728.5,902.9 1729.5,897.2 1730.5,891.7 1731.5,886.4 1732.5,881.3 1733.5,876.5 1734.5,871.8 1735.5,867.5 1736.5,863.5 1737.5,859.7 1738.5,856.2 1739.5,853.0 1740.5,850.1 1741.5,847.4 1742.5,845.1 1743.5,843.0 1744.5,841.2 1745.5,839.7 1746.5,838.5 1747.5,837.6 1748.5,836.9 1749.5,836.6 1750.5,836.5 1751.5,836.7 1752.5,837.1 1753.5,837.9 1754.5,838.9 1755.5,840.2 1756.5,841.8 1757.5,843.7 1758.5,845.8 1759.5,848.3 1760.5,851.0 1761.5,854.0 1762.5,857.3 1763.5,860.9 1764.5,864.7 1765.5,868.9 1766.5,873.3 1767.5,877.9 1768.5,882.8 1769.5,888.0 1770.5,893.3 1771.5,898.7 1772.5,904.3 1773.5,909.9 1774.5,915.5 1775.5,921.0 1776.5,926.2 1777.5,931.1 1778.5,935.5 1779.5,939.3 1780.5,942.3 1781.5,944.5 1782.5,945.7 1783.5,945.8 1784.5,944.9 1785.5,943.0 1786.5,940.2 1787.5,936.6 1788.5,932.3 1789.5,927.5 1790.5,922.2 1791.5,916.7 1792.5,911.0 1793.5,905.2 1794.5,899.4 1795.5,893.8 1796.5,888.2 1797.5,882.9 1798.5,877.7 1799.5,872.8 1800.5,868.1 1801.5,863.7 1802.5,859.5 1803.5,855.6 1804.5,852.1 1805.5,848.7 1806.5,845.7 1807.5,843.0 1808.5,840.5 1809.5,838.4 1810.5,836.5 1811.5,834.9 1812.5,833.5 1813.5,832.5 1814.5,831.7 1815.5,831.2 1816.5,831.0 1817.5,831.0 1818.5,831.4 1819.5,832.0 1820.5,832.9 1821.5,834.1 1822.5,835.5 1823.5,837.2 1824.5,839.2 1825.5,841.5 1826.5,844.1 1827.5,847.0 1828.5,850.1 1829.5,853.6 1830.5,857.3 1831.5,861.3 1832.5,865.5 1833.5,870.0 1834.5,874.8 1835.5,879.8 1836.5,885.0 1837.5,890.3 1838.5,895.8 1839.5,901.4 1840.5,907.0 1841.5,912.4 1842.5,917.8 1843.5,922.8 1844.5,927.4 1845.5,931.5 1846.5,934.9 1847.5,937.4 1848.5,939.0 1849.5,939.7 1850.5,939.2 1851.5,937.8 1852.5,935.4 1853.5,932.2 1854.5,928.2 1855.5,923.5 1856.5,918.5 1857.5,913.0 1858.5,907.4 1859.5,901.6 1860.5,895.9 1861.5,890.1 1862.5,884.5 1863.5,879.1 1864.5,873.8 1865.5,868.7 1866.5,863.9 1867.5,859.4 1868.5,855.1 1869.5,851.1 1870.5,847.3 1871.5,843.9 1872.5,840.7 1873.5,837.8 1874.5,835.2 1875.5,832.9 1876.5,830.9 1877.5,829.2 1878.5,827.7 1879.5,826.5 1880.5,825.6 1881.5,825.0 1882.5,824.7 1883.5,824.6 1884.5,824.8 1885.5,825.3 1886.5,826.1 1887.5,827.1 1888.5,828.5 1889.5,830.1 1890.5,832.0 1891.5,834.1 1892.5,836.6 1893.5,839.4 1894.5,842.4 1895.5,845.7 1896.5,849.3 1897.5,853.2 1898.5,857.4 1899.5,861.8 1900.5,866.4 1901.5,871.4 1902.5,876.5 1903.5,881.8 1904.5,887.2 1905.5,892.8 1906.5,898.4 1907.5,903.9 1908.5,909.3 1909.5,914.5 1910.5,919.4 1911.5,923.7 1912.5,927.4 1913.5,930.3 1914.5,932.4 1915.5,933.5 1916.5,933.5 1917.5,932.6 1918.5,930.6 1919.5,927.7 1920.5,924.1 1921.5,919.8 1922.5,914.9 1923.5,909.7 1924.5,904.2 1925.5,898.5 1926.5,892.8 1927.5,887.0 1928.5,881.4 1929.5,875.9 1930.5,870.6 1931.5,865.5 1932.5,860.6 1933.5,856.0 1934.5,851.6 1935.5,847.5 1936.5,843.7 1937.5,840.1 1938.5,836.8 1939.5,833.9 1940.5,831.2 1941.5,828.7 1942.5,826.6 1943.5,824.7 1944.5,823.2 1945.5,821.9 1946.5,820.9 1947.5,820.1 1948.5,819.6 1949.5,819.5 1950.5,819.5 1951.5,819.9 1952.5,820.6 1953.5,821.5 1954.5,822.7 1955.5,824.1 1956.5,825.9 1957.5,827.9 1958.5,830.3 1959.5,832.9 1960.5,835.7 1961.5,838.9 1962.5,842.4 1963.5,846.1 1964.5,850.1 1965.5,854.4 1966.5,858.9 1967.5,863.7 1968.5,868.6 1969.5,873.8 1970.5,879.2 1971.5,884.7 1972.5,890.2 1973.5,895.7 1974.5,901.2 1975.5,906.5 1976.5,911.4 1977.5,916.0 1978.5,920.0 1979.5,923.2 1980.5,925.7 1981.5,927.2 1982.5,927.8 1983.5,927.3 1984.5,925.8 1985.5,923.3 1986.5,920.0 1987.5,916.0 1988.5,911.4 1989.5,906.3 1990.5,900.9 1991.5,895.3 1992.5,889.5 1993.5,883.8 1994.5,878.1 1995.5,872.5 1996.5,867.1 1997.5,861.9 1998.5,856.9 1999.5,852.1 2000.5,847.6 2001.5,843.4 2002.5,839.4 2003.5,835.7 2004.5,832.3 2005.5,829.2 2006.5,826.3 2007.5,823.8 2008.5,821.5 2009.5,819.5 2010.5,817.8 2011.5,816.4 2012.5,815.2 2013.5,814.4 2014.5,813.8 2015.5,813.5 2016.5,813.4 2017.5,813.7 2018.5,814.2 2019.5,815.0 2020.5,816.1 2021.5,817.4 2022.5,819.1 2023.5,821.0 2024.5,823.2 2025.5,825.7 2026.5,828.5 2027.5,831.5 2028.5,834.9 2029.5,838.5 2030.5,842.4 2031.5,846.6 2032.5,851.0 2033.5,855.7 2034.5,860.6 2035.5,865.7 2036.5,871.0 2037.5,876.4 2038.5,882.0 2039.5,887.5 2040.5,893.0 2041.5,898.4 2042.5,903.5 2043.5,908.3 2044.5,912.5 2045.5,916.2 2046.5,919.0 2047.5,921.0 2048.5,921.9 2049.5,921.9 2050.5,920.9 2051.5,918.9 2052.5,916.0 2053.5,912.3 2054.5,907.9 2055.5,903.1 2056.5,897.8 2057.5,892.4 2058.5,886.7 2059.5,881.0 2060.5,875.3 2061.5,869.8 2062.5,864.3 2063.5,859.0 2064.5,854.0 2065.5,849.1 2066.5,844.5 2067.5,840.2 2068.5,836.1 2069.5,832.4 2070.5,828.8 2071.5,825.6 2072.5,822.7 2073.5,820.0 2074.5,817.6 2075.5,815.5 2076.5,813.7 2077.5,812.2 2078.5,810.9 2079.5,809.9 2080.5,809.2 2081.5,808.8 2082.5,808.6 2083.5,808.7 2084.5,809.1 2085.5,809.8 2086.5,810.7 2087.5,812.0 2088.5,813.5 2089.5,815.3 2090.5,817.3 2091.5,819.7 2092.5,822.3 2093.5,825.2 2094.5,828.4 2095.5,831.8 2096.5,835.6 2097.5,839.6 2098.5,843.9 2099.5,848.4 2100.5,853.2 2101.5,858.2 2102.5,863.4 2103.5,868.7 2104.5,874.2 2105.5,879.7 2106.5,885.2 2107.5,890.6 2108.5,895.8 2109.5,900.7 2110.5,905.2 2111.5,909.1 2112.5,912.3 2113.5,914.6 2114.5,916.1 2115.5,916.5 2116.5,915.9 2117.5,914.4 2118.5,911.9 2119.5,908.5 2120.5,904.5 2121.5,899.8 2122.5,894.8 2123.5,889.4 2124.5,883.8 2125.5,878.1 2126.5,872.4 2127.5,866.8 2128.5,861.2 2129.5,855.9 2130.5,850.7 2131.5,845.7 2132.5,841.0 2133.5,836.5 2134.5,832.3 2135.5,828.4 2136.5,824.8 2137.5,821.4 2138.5,818.3 2139.5,815.5 2140.5,813.0 2141.5,810.7 2142.5,808.8 2143.5,807.1 2144.5,805.7 2145.5,804.6 2146.5,803.8 2147.5,803.2 2148.5,802.9 2149.5,802.9 2150.5,803.2 2151.5,803.7 2152.5,804.6 2153.5,805.7 2154.5,807.1 2155.5,808.7 2156.5,810.7 2157.5,812.9 2158.5,815.4 2159.5,818.2 2160.5,821.3 2161.5,824.6 2162.5,828.3 2163.5,832.2 2164.5,836.4 2165.5,840.8 2166.5,845.5 2167.5,850.4 2168.5,855.5 2169.5,860.8 2170.5,866.3 2171.5,871.8 2172.5,877.3 2173.5,882.8 2174.5,888.1 2175.5,893.2 2176.5,897.9 2177.5,902.0 2178.5,905.5 2179.5,908.3 2180.5,910.2 2181.5,911.0 2182.5,910.9 2183.5,909.8 2184.5,907.7 2185.5,904.8 2186.5,901.1 2187.5,896.7 2188.5,891.9 2189.5,886.6 2190.5,881.2 2191.5,875.6 2192.5,869.9 2193.5,864.3 2194.5,858.7 2195.5,853.3 2196.5,848.1 2197.5,843.1 2198.5,838.3 2199.5,833.7 2200.5,829.4 2201.5,825.4 2202.5,821.7 2203.5,818.2 2204.5,815.0 2205.5,812.1 2206.5,809.5 2207.5,807.1 2208.5,805.1 2209.5,803.3 2210.5,801.8 2211.5,800.5 2212.5,799.6 2213.5,798.9 2214.5,798.5 2215.5,798.4 2216.5,798.5 2217.5,798.9 2218.5,799.6 2219.5,800.6 2220.5,801.9 2221.5,803.4 2222.5,805.2 2223.5,807.3"/>
<polyline id="p4" points="243.5,1369.3 244.5,1375.2 245.5,1381.2 246.5,1387.2 247.5,1392.9 248.5,1398.3 249.5,1403.3 250.5,1407.5 251.5,1410.8 252.5,1413.2 253.5,1414.3 254.5,1414.3 255.5,1412.9 256.5,1410.4 257.5,1406.7 258.5,1402.1 259.5,1396.6 260.5,1390.6 261.5,1384.2 262.5,1377.5 263.5,1370.7 264.5,1363.8 265.5,1357.0 266.5,1350.4 267.5,1343.9 268.5,1337.7 269.5,1331.7 270.5,1326.0 271.5,1320.6 272.5,1315.5 273.5,1310.7 274.5,1306.3 275.5,1302.1 276.5,1298.3 277.5,1294.7 278.5,1291.5 279.5,1288.6 280.5,1286.0 281.5,1283.7 282.5,1281.7 283.5,1279.9 284.5,1278.5 285.5,1277.4 286.5,1276.6 287.5,1276.0 288.5,1275.8 289.5,1275.8 290.5,1276.2 291.5,1276.8 292.5,1277.8 293.5,1279.0 294.5,1280.5 295.5,1282.4 296.5,1284.5 297.5,1287.0 298.5,1289.7 299.5,1292.8 300.5,1296.2 301.5,1299.8 302.5,1303.8 303.5,1308.2 304.5,1312.8 305.5,1317.7 306.5,1322.9 307.5,1328.3 308.5,1334.0 309.5,1339.8 310.5,1345.8 311.5,1351.9 312.5,1357.9 313.5,1363.8 314.5,1369.4 315.5,1374.6 316.5,1379.2 317.5,1383.1 318.5,1385.9 319.5,1387.7 320.5,1388.2 321.5,1387.5 322.5,1385.6 323.5,1382.5 324.5,1378.3 325.5,1373.3 326.5,1367.7 327.5,1361.5 328.5,1355.0 329.5,1348.3 330.5,1341.5 331.5,1334.8 332.5,1328.1 333.5,1321.7 334.5,1315.4 335.5,1309.4 336.5,1303.6 337.5,1298.2 338.5,1293.0 339.5,1288.2 340.5,1283.6 341.5,1279.4 342.5,1275.4 343.5,1271.8 344.5,1268.5 345.5,1265.5 346.5,1262.8 347.5,1260.5 348.5,1258.4 349.5,1256.6 350.5,1255.1 351.5,1253.9 352.5,1253.0 353.5,1252.3 354.5,1252.0 355.5,1252.0 356.5,1252.3 357.5,1252.8 358.5,1253.7 359.5,1254.8 360.5,1256.2 361.5,1258.0 362.5,1260.0 363.5,1262.4 364.5,1265.0 365.5,1268.0 366.5,1271.2 367.5,1274.8 368.5,1278.7 369.5,1282.9 370.5,1287.4 371.5,1292.2 372.5,1297.3 373.5,1302.7 374.5,1308.3 375.5,1314.1 376.5,1320.0 377.5,1326.1 378.5,1332.2 379.5,1338.1 380.5,1343.9 381.5,1349.4 382.5,1354.3 383.5,1358.5 384.5,1361.8 385.5,1364.2 386.5,1365.3 387.5,1365.2 388.5,1363.9 389.5,1361.3 390.5,1357.7 391.5,1353.1 392.5,1347.8 393.5,1341.9 394.5,1335.6 395.5,1329.0 396.5,1322.3 397.5,1315.6 398.5,1308.9 399.5,1302.4 400.5,1296.1 401.5,1290.0 402.5,1284.2 403.5,1278.7 404.5,1273.4 405.5,1268.5 406.5,1263.8 407.5,1259.5 408.5,1255.4 409.5,1251.7 410.5,1248.3 411.5,1245.2 412.5,1242.4 413.5,1239.9 414.5,1237.8 415.5,1235.9 416.5,1234.3 417.5,1233.0 418.5,1232.0 419.5,1231.3 420.5,1230.8 421.5,1230.7 422.5,1230.9 423.5,1231.3 424.5,1232.1 425.5,1233.1 426.5,1234.5 427.5,1236.1 428.5,1238.1 429.5,1240.3 430.5,1242.9 431.5,1245.7 432.5,1248.9 433.5,1252.4 434.5,1256.2 435.5,1260.3 436.5,1264.7 437.5,1269.4 438.5,1274.4 439.5,1279.6 440.5,1285.2 441.5,1290.9 442.5,1296.8 443.5,1302.9 444.5,1309.0 445.5,1315.0 446.5,1321.0 447.5,1326.6 448.5,1331.8 449.5,1336.3 450.5,1340.1 451.5,1342.9 452.5,1344.7 453.5,1345.2 454.5,1344.4 455.5,1342.5 456.5,1339.4 457.5,1335.3 458.5,1330.3 459.5,1324.7 460.5,1318.6 461.5,1312.2 462.5,1305.6 463.5,1299.0 464.5,1292.3 465.5,1285.8 466.5,1279.5 467.5,1273.3 468.5,1267.4 469.5,1261.8 470.5,1256.5 471.5,1251.4 472.5,1246.7 473.5,1242.3 474.5,1238.1 475.5,1234.3 476.5,1230.8 477.5,1227.6 478.5,1224.7 479.5,1222.2 480.5,1219.9 481.5,1217.9 482.5,1216.2 483.5,1214.8 484.5,1213.7 485.5,1212.9 486.5,1212.4 487.5,1212.1 488.5,1212.2 489.5,1212.5 490.5,1213.2 491.5,1214.1 492.5,1215.4 493.5,1216.9 494.5,1218.7 495.5,1220.9 496.5,1223.3 497.5,1226.0 498.5,1229.1 499.5,1232.4 500.5,1236.1 501.5,1240.1 502.5,1244.3 503.5,1248.9 504.5,1253.8 505.5,1259.0 506.5,1264.4 507.5,1270.0 508.5,1275.9 509.5,1281.9 510.5,1288.0 511.5,1294.0 512.5,1300.0 513.5,1305.8 514.5,1311.2 515.5,1316.1 516.5,1320.3 517.5,1323.6 518.5,1325.8 519.5,1326.9 520.5,1326.8 521.5,1325.4 522.5,1322.8 523.5,1319.2 524.5,1314.6 525.5,1309.4 526.5,1303.5 527.5,1297.3 528.5,1290.8 529.5,1284.2 530.5,1277.6 531.5,1271.0 532.5,1264.6 533.5,1258.4 534.5,1252.5 535.5,1246.7 536.5,1241.3 537.5,1236.1 538.5,1231.3 539.5,1226.7 540.5,1222.5 541.5,1218.6 542.5,1215.0 543.5,1211.7 544.5,1208.7 545.5,1206.0 546.5,1203.6 547.5,1201.5 548.5,1199.7 549.5,1198.1 550.5,1196.9 551.5,1196.0 552.5,1195.4 553.5,1195.0 554.5,1195.0 555.5,1195.2 556.5,1195.8 557.5,1196.6 558.5,1197.7 559.5,1199.2 560.5,1200.9 561.5,1202.9 562.5,1205.2 563.5,1207.9 564.5,1210.8 565.5,1214.0 566.5,1217.6 567.5,1221.4 568.5,1225.6 569.5,1230.1 570.5,1234.8 571.5,1239.9 572.5,1245.2 573.5,1250.8 574.5,1256.5 575.5,1262.5 576.5,1268.6 577.5,1274.7 578.5,1280.7 579.5,1286.7 580.5,1292.3 581.5,1297.4 582.5,1301.9 583.5,1305.6 584.5,1308.4 585.5,1310.0 586.5,1310.5 587.5,1309.7 588.5,1307.7 589.5,1304.5 590.5,1300.4 591.5,1295.5 592.5,1290.0 593.5,1283.9 594.5,1277.6 595.5,1271.1 596.5,1264.5 597.5,1258.0 598.5,1251.6 599.5,1245.3 600.5,1239.3 601.5,1233.5 602.5,1227.9 603.5,1222.7 604.5,1217.7 605.5,1213.1 606.5,1208.8 607.5,1204.7 608.5,1201.0 609.5,1197.6 610.5,1194.5 611.5,1191.7 612.5,1189.1 613.5,1186.9 614.5,1185.0 615.5,1183.4 616.5,1182.1 617.5,1181.1 618.5,1180.3 619.5,1179.9 620.5,1179.7 621.5,1179.9 622.5,1180.3 623.5,1181.0 624.5,1182.0 625.5,1183.3 626.5,1184.9 627.5,1186.8 628.5,1189.0 629.5,1191.5 630.5,1194.3 631.5,1197.4 632.5,1200.8 633.5,1204.5 634.5,1208.6 635.5,1212.9 636.5,1217.5 637.5,1222.5 638.5,1227.7 639.5,1233.1 640.5,1238.8 641.5,1244.7 642.5,1250.7 643.5,1256.8 644.5,1262.9 645.5,1268.9 646.5,1274.6 647.5,1280.0 648.5,1284.8 649.5,1288.9 650.5,1292.1 651.5,1294.3 652.5,1295.3 653.5,1295.1 654.5,1293.6 655.5,1291.0 656.5,1287.4 657.5,1282.9 658.5,1277.6 659.5,1271.8 660.5,1265.6 661.5,1259.2 662.5,1252.7 663.5,1246.1 664.5,1239.7 665.5,1233.4 666.5,1227.3 667.5,1221.4 668.5,1215.7 669.5,1210.4 670.5,1205.3 671.5,1200.5 672.5,1196.1 673.5,1191.9 674.5,1188.1 675.5,1184.5 676.5,1181.3 677.5,1178.4 678.5,1175.7 679.5,1173.4 680.5,1171.4 681.5,1169.7 682.5,1168.2 683.5,1167.1 684.5,1166.2 685.5,1165.7 686.5,1165.4 687.5,1165.4 688.5,1165.7 689.5,1166.3 690.5,1167.2 691.5,1168.4 692.5,1169.9 693.5,1171.6 694.5,1173.7 695.5,1176.1 696.5,1178.8 697.5,1181.8 698.5,1185.1 699.5,1188.7 700.5,1192.6 701.5,1196.8 702.5,1201.3 703.5,1206.1 704.5,1211.2 705.5,1216.6 706.5,1222.2 707.5,1228.0 708.5,1233.9 709.5,1240.0 710.5,1246.1 711.5,1252.2 712.5,1258.0 713.5,1263.6 714.5,1268.7 715.5,1273.1 716.5,1276.8 717.5,1279.4 718.5,1281.0 719.5,1281.3 720.5,1280.5 721.5,1278.4 722.5,1275.3 723.5,1271.2 724.5,1266.2 725.5,1260.7 726.5,1254.7 727.5,1248.5 728.5,1242.0 729.5,1235.5 730.5,1229.1 731.5,1222.7 732.5,1216.5 733.5,1210.6 734.5,1204.9 735.5,1199.4 736.5,1194.3 737.5,1189.4 738.5,1184.8 739.5,1180.5 740.5,1176.6 741.5,1172.9 742.5,1169.6 743.5,1166.5 744.5,1163.8 745.5,1161.3 746.5,1159.2 747.5,1157.4 748.5,1155.8 749.5,1154.5 750.5,1153.6 751.5,1152.9 752.5,1152.5 753.5,1152.4 754.5,1152.6 755.5,1153.1 756.5,1153.9 757.5,1154.9 758.5,1156.3 759.5,1157.9 760.5,1159.9 761.5,1162.1 762.5,1164.7 763.5,1167.5 764.5,1170.7 765.5,1174.1 766.5,1177.9 767.5,1182.0 768.5,1186.4 769.5,1191.0 770.5,1196.0 771.5,1201.2 772.5,1206.7 773.5,1212.4 774.5,1218.3 775.5,1224.3 776.5,1230.4 777.5,1236.5 778.5,1242.4 779.5,1248.1 780.5,1253.5 781.5,1258.2 782.5,1262.2 783.5,1265.3 784.5,1267.4 785.5,1268.3 786.5,1268.0 787.5,1266.5 788.5,1263.9 789.5,1260.2 790.5,1255.7 791.5,1250.5 792.5,1244.7 793.5,1238.6 794.5,1232.2 795.5,1225.7 796.5,1219.3 797.5,1212.9 798.5,1206.7 799.5,1200.6 800.5,1194.8 801.5,1189.2 802.5,1184.0 803.5,1179.0 804.5,1174.3 805.5,1169.9 806.5,1165.8 807.5,1162.0 808.5,1158.5 809.5,1155.4 810.5,1152.5 811.5,1149.9 812.5,1147.7 813.5,1145.7 814.5,1144.0 815.5,1142.6 816.5,1141.6 817.5,1140.8 818.5,1140.2 819.5,1140.0 820.5,1140.1 821.5,1140.5 822.5,1141.1 823.5,1142.1 824.5,1143.3 825.5,1144.8 826.5,1146.7 827.5,1148.8 828.5,1151.2 829.5,1153.9 830.5,1157.0 831.5,1160.3 832.5,1163.9 833.5,1167.9 834.5,1172.2 835.5,1176.7 836.5,1181.5 837.5,1186.7 838.5,1192.0 839.5,1197.7 840.5,1203.5 841.5,1209.4 842.5,1215.5 843.5,1221.6 844.5,1227.6 845.5,1233.5 846.5,1239.0 847.5,1244.0 848.5,1248.4 849.5,1251.9 850.5,1254.5 851.5,1255.9 852.5,1256.2 853.5,1255.2 854.5,1253.1 855.5,1249.9 856.5,1245.8 857.5,1240.9 858.5,1235.4 859.5,1229.5 860.5,1223.2 861.5,1216.8 862.5,1210.4 863.5,1204.0 864.5,1197.8 865.5,1191.7 866.5,1185.8 867.5,1180.1 868.5,1174.8 869.5,1169.7 870.5,1164.9 871.5,1160.3 872.5,1156.1 873.5,1152.2 874.5,1148.7 875.5,1145.4 876.5,1142.4 877.5,1139.7 878.5,1137.3 879.5,1135.2 880.5,1133.4 881.5,1131.9 882.5,1130.7 883.5,1129.8 884.5,1129.2 885.5,1128.8 886.5,1128.8 887.5,1129.0 888.5,1129.6 889.5,1130.4 890.5,1131.5 891.5,1132.9 892.5,1134.6 893.5,1136.6 894.5,1138.9 895.5,1141.5 896.5,1144.4 897.5,1147.6 898.5,1151.1 899.5,1154.9 900.5,1159.0 901.5,1163.4 902.5,1168.1 903.5,1173.1 904.5,1178.3 905.5,1183.8 906.5,1189.6 907.5,1195.4 908.5,1201.5 909.5,1207.5 910.5,1213.6 911.5,1219.5 912.5,1225.2 913.5,1230.4 914.5,1235.1 915.5,1239.0 916.5,1242.0 917.5,1244.0 918.5,1244.8 919.5,1244.4 920.5,1242.9 921.5,1240.2 922.5,1236.5 923.5,1231.9 924.5,1226.7 925.5,1221.0 926.5,1214.9 927.5,1208.6 928.5,1202.2 929.5,1195.8 930.5,1189.5 931.5,1183.3 932.5,1177.3 933.5,1171.6 934.5,1166.1 935.5,1160.9 936.5,1156.0 937.5,1151.3 938.5,1147.0 939.5,1143.0 940.5,1139.2 941.5,1135.8 942.5,1132.7 943.5,1129.9 944.5,1127.4 945.5,1125.2 946.5,1123.3 947.5,1121.6 948.5,1120.3 949.5,1119.3 950.5,1118.5 951.5,1118.1 952.5,1117.9 953.5,1118.0 954.5,1118.4 955.5,1119.1 956.5,1120.1 957.5,1121.4 958.5,1123.0 959.5,1124.8 960.5,1127.0 961.5,1129.5 962.5,1132.2 963.5,1135.3 964.5,1138.7 965.5,1142.4 966.5,1146.3 967.5,1150.6 968.5,1155.2 969.5,1160.1 970.5,1165.2 971.5,1170.6 972.5,1176.2 973.5,1182.0 974.5,1188.0 975.5,1194.1 976.5,1200.2 977.5,1206.1 978.5,1211.9 979.5,1217.4 980.5,1222.3 981.5,1226.6 982.5,1230.0 983.5,1232.5 984.5,1233.9 985.5,1234.0 986.5,1233.0 987.5,1230.8 988.5,1227.6 989.5,1223.5 990.5,1218.6 991.5,1213.1 992.5,1207.2 993.5,1201.0 994.5,1194.6 995.5,1188.3 996.5,1181.9 997.5,1175.7 998.5,1169.7 999.5,1163.9 1000.5,1158.3 1001.5,1153.0 1002.5,1148.0 1003.5,1143.2 1004.5,1138.8 1005.5,1134.6 1006.5,1130.8 1007.5,1127.3 1008.5,1124.0 1009.5,1121.1 1010.5,1118.5 1011.5,1116.1 1012.5,1114.1 1013.5,1112.4 1014.5,1110.9 1015.5,1109.7 1016.5,1108.9 1017.5,1108.3 1018.5,1108.0 1019.5,1108.0 1020.5,1108.3 1021.5,1108.8 1022.5,1109.7 1023.5,1110.9 1024.5,1112.3 1025.5,1114.0 1026.5,1116.1 1027.5,1118.4 1028.5,1121.0 1029.5,1124.0 1030.5,1127.2 1031.5,1130.7 1032.5,1134.6 1033.5,1138.7 1034.5,1143.2 1035.5,1147.9 1036.5,1152.9 1037.5,1158.2 1038.5,1163.7 1039.5,1169.4 1040.5,1175.3 1041.5,1181.3 1042.5,1187.4 1043.5,1193.4 1044.5,1199.2 1045.5,1204.8 1046.5,1210.0 1047.5,1214.6 1048.5,1218.4 1049.5,1221.4 1050.5,1223.2 1051.5,1224.0 1052.5,1223.5 1053.5,1221.8 1054.5,1219.1 1055.5,1215.4 1056.5,1210.8 1057.5,1205.6 1058.5,1199.9 1059.5,1193.8 1060.5,1187.6 1061.5,1181.2 1062.5,1174.9 1063.5,1168.6 1064.5,1162.5 1065.5,1156.6 1066.5,1150.9 1067.5,1145.5 1068.5,1140.4 1069.5,1135.5 1070.5,1130.9 1071.5,1126.6 1072.5,1122.7 1073.5,1119.0 1074.5,1115.6 1075.5,1112.6 1076.5,1109.8 1077.5,1107.4 1078.5,1105.2 1079.5,1103.3 1080.5,1101.8 1081.5,1100.5 1082.5,1099.5 1083.5,1098.8 1084.5,1098.4 1085.5,1098.2 1086.5,1098.4 1087.5,1098.8 1088.5,1099.6 1089.5,1100.6 1090.5,1101.9 1091.5,1103.5 1092.5,1105.4 1093.5,1107.6 1094.5,1110.1 1095.5,1112.9 1096.5,1116.1 1097.5,1119.5 1098.5,1123.2 1099.5,1127.2 1100.5,1131.5 1101.5,1136.1 1102.5,1141.0 1103.5,1146.1 1104.5,1151.5 1105.5,1157.2 1106.5,1163.0 1107.5,1169.0 1108.5,1175.0 1109.5,1181.1 1110.5,1187.0 1111.5,1192.7 1112.5,1198.1 1113.5,1203.0 1114.5,1207.2 1115.5,1210.5 1116.5,1212.9 1117.5,1214.1 1118.5,1214.2 1119.5,1213.1 1120.5,1210.9 1121.5,1207.6 1122.5,1203.4 1123.5,1198.5 1124.5,1193.1 1125.5,1187.2 1126.5,1181.0 1127.5,1174.7 1128.5,1168.4 1129.5,1162.1 1130.5,1156.0 1131.5,1150.0 1132.5,1144.3 1133.5,1138.8 1134.5,1133.5 1135.5,1128.5 1136.5,1123.9 1137.5,1119.5 1138.5,1115.4 1139.5,1111.6 1140.5,1108.1 1141.5,1104.9 1142.5,1102.0 1143.5,1099.5 1144.5,1097.2 1145.5,1095.2 1146.5,1093.5 1147.5,1092.1 1148.5,1091.0 1149.5,1090.1 1150.5,1089.6 1151.5,1089.4 1152.5,1089.4 1153.5,1089.7 1154.5,1090.3 1155.5,1091.2 1156.5,1092.4 1157.5,1093.9 1158.5,1095.7 1159.5,1097.7 1160.5,1100.1 1161.5,1102.8 1162.5,1105.7 1163.5,1109.0 1164.5,1112.6 1165.5,1116.4 1166.5,1120.6 1167.5,1125.1 1168.5,1129.8 1169.5,1134.8 1170.5,1140.1 1171.5,1145.6 1172.5,1151.4 1173.5,1157.2 1174.5,1163.2 1175.5,1169.3 1176.5,1175.3 1177.5,1181.1 1178.5,1186.6 1179.5,1191.7 1180.5,1196.2 1181.5,1199.9 1182.5,1202.8 1183.5,1204.5 1184.5,1205.2 1185.5,1204.6 1186.5,1202.9 1187.5,1200.1 1188.5,1196.3 1189.5,1191.8 1190.5,1186.5 1191.5,1180.8 1192.5,1174.8 1193.5,1168.6 1194.5,1162.3 1195.5,1156.0 1196.5,1149.8 1197.5,1143.8 1198.5,1137.9 1199.5,1132.3 1200.5,1127.0 1201.5,1121.9 1202.5,1117.1 1203.5,1112.5 1204.5,1108.3 1205.5,1104.4 1206.5,1100.8 1207.5,1097.5 1208.5,1094.5 1209.5,1091.8 1210.5,1089.3 1211.5,1087.2 1212.5,1085.4 1213.5,1083.9 1214.5,1082.6 1215.5,1081.7 1216.5,1081.0 1217.5,1080.6 1218.5,1080.5 1219.5,1080.7 1220.5,1081.2 1221.5,1082.0 1222.5,1083.1 1223.5,1084.4 1224.5,1086.1 1225.5,1088.0 1226.5,1090.2 1227.5,1092.8 1228.5,1095.6 1229.5,1098.7 1230.5,1102.2 1231.5,1105.9 1232.5,1110.0 1233.5,1114.3 1234.5,1118.9 1235.5,1123.8 1236.5,1129.0 1237.5,1134.4 1238.5,1140.0 1239.5,1145.9 1240.5,1151.8 1241.5,1157.8 1242.5,1163.9 1243.5,1169.8 1244.5,1175.4 1245.5,1180.7 1246.5,1185.5 1247.5,1189.6 1248.5,1192.9 1249.5,1195.1 1250.5,1196.3 1251.5,1196.3 1252.5,1195.1 1253.5,1192.8 1254.5,1189.5 1255.5,1185.3 1256.5,1180.3 1257.5,1174.9 1258.5,1169.0 1259.5,1162.9 1260.5,1156.7 1261.5,1150.4 1262.5,1144.2 1263.5,1138.1 1264.5,1132.2 1265.5,1126.5 1266.5,1121.0 1267.5,1115.9 1268.5,1110.9 1269.5,1106.3 1270.5,1102.0 1271.5,1097.9 1272.5,1094.2 1273.5,1090.8 1274.5,1087.6 1275.5,1084.8 1276.5,1082.3 1277.5,1080.0 1278.5,1078.1 1279.5,1076.4 1280.5,1075.1 1281.5,1074.0 1282.5,1073.2 1283.5,1072.7 1284.5,1072.5 1285.5,1072.6 1286.5,1072.9 1287.5,1073.6 1288.5,1074.5 1289.5,1075.7 1290.5,1077.2 1291.5,1079.0 1292.5,1081.1 1293.5,1083.5 1294.5,1086.2 1295.5,1089.2 1296.5,1092.5 1297.5,1096.1 1298.5,1100.0 1299.5,1104.2 1300.5,1108.7 1301.5,1113.4 1302.5,1118.5 1303.5,1123.8 1304.5,1129.3 1305.5,1135.0 1306.5,1140.9 1307.5,1146.9 1308.5,1152.9 1309.5,1158.8 1310.5,1164.6 1311.5,1170.1 1312.5,1175.1 1313.5,1179.5 1314.5,1183.1 1315.5,1185.9 1316.5,1187.5 1317.5,1188.0 1318.5,1187.4 1319.5,1185.6 1320.5,1182.7 1321.5,1179.0 1322.5,1174.4 1323.5,1169.2 1324.5,1163.5 1325.5,1157.5 1326.5,1151.3 1327.5,1145.1 1328.5,1138.8 1329.5,1132.7 1330.5,1126.7 1331.5,1120.9 1332.5,1115.4 1333.5,1110.1 1334.5,1105.0 1335.5,1100.3 1336.5,1095.8 1337.5,1091.6 1338.5,1087.8 1339.5,1084.2 1340.5,1080.9 1341.5,1078.0 1342.5,1075.3 1343.5,1072.9 1344.5,1070.9 1345.5,1069.1 1346.5,1067.6 1347.5,1066.4 1348.5,1065.5 1349.5,1064.8 1350.5,1064.5 1351.5,1064.4 1352.5,1064.7 1353.5,1065.2 1354.5,1066.0 1355.5,1067.1 1356.5,1068.5 1357.5,1070.2 1358.5,1072.2 1359.5,1074.4 1360.5,1077.0 1361.5,1079.8 1362.5,1083.0 1363.5,1086.5 1364.5,1090.2 1365.5,1094.3 1366.5,1098.7 1367.5,1103.3 1368.5,1108.2 1369.5,1113.4 1370.5,1118.8 1371.5,1124.5 1372.5,1130.3 1373.5,1136.2 1374.5,1142.2 1375.5,1148.2 1376.5,1154.0 1377.5,1159.7 1378.5,1164.9 1379.5,1169.6 1380.5,1173.6 1381.5,1176.7 1382.5,1178.9 1383.5,1179.9 1384.5,1179.8 1385.5,1178.6 1386.5,1176.2 1387.5,1172.8 1388.5,1168.6 1389.5,1163.7 1390.5,1158.2 1391.5,1152.4 1392.5,1146.3 1393.5,1140.1 1394.5,1133.9 1395.5,1127.8 1396.5,1121.7 1397.5,1115.9 1398.5,1110.2 1399.5,1104.8 1400.5,1099.7 1401.5,1094.8 1402.5,1090.3 1403.5,1086.0 1404.5,1082.0 1405.5,1078.3 1406.5,1074.9 1407.5,1071.8 1408.5,1069.0 1409.5,1066.5 1410.5,1064.4 1411.5,1062.4 1412.5,1060.8 1413.5,1059.5 1414.5,1058.5 1415.5,1057.7 1416.5,1057.3 1417.5,1057.1 1418.5,1057.2 1419.5,1057.6 1420.5,1058.3 1421.5,1059.2 1422.5,1060.5 1423.5,1062.0 1424.5,1063.9 1425.5,1066.0 1426.5,1068.4 1427.5,1071.1 1428.5,1074.2 1429.5,1077.5 1430.5,1081.1 1431.5,1085.0 1432.5,1089.2 1433.5,1093.7 1434.5,1098.5 1435.5,1103.6 1436.5,1108.9 1437.5,1114.4 1438.5,1120.1 1439.5,1126.0 1440.5,1131.9 1441.5,1137.9 1442.5,1143.8 1443.5,1149.5 1444.5,1154.9 1445.5,1159.9 1446.5,1164.2 1447.5,1167.7 1448.5,1170.3 1449.5,1171.9 1450.5,1172.3 1451.5,1171.6 1452.5,1169.7 1453.5,1166.8 1454.5,1163.0 1455.5,1158.4 1456.5,1153.2 1457.5,1147.5 1458.5,1141.6 1459.5,1135.4 1460.5,1129.2 1461.5,1123.0 1462.5,1117.0 1463.5,1111.0 1464.5,1105.3 1465.5,1099.8 1466.5,1094.5 1467.5,1089.5 1468.5,1084.8 1469.5,1080.4 1470.5,1076.3 1471.5,1072.5 1472.5,1069.0 1473.5,1065.8 1474.5,1062.8 1475.5,1060.2 1476.5,1057.9 1477.5,1055.8 1478.5,1054.1 1479.5,1052.6 1480.5,1051.5 1481.5,1050.6 1482.5,1050.0 1483.5,1049.7 1484.5,1049.7 1485.5,1050.0 1486.5,1050.5 1487.5,1051.4 1488.5,1052.5 1489.5,1053.9 1490.5,1055.6 1491.5,1057.6 1492.5,1059.9 1493.5,1062.5 1494.5,1065.4 1495.5,1068.6 1496.5,1072.1 1497.5,1075.9 1498.5,1080.0 1499.5,1084.3 1500.5,1089.0 1501.5,1093.9 1502.5,1099.1 1503.5,1104.5 1504.5,1110.2 1505.5,1116.0 1506.5,1121.9 1507.5,1127.9 1508.5,1133.8 1509.5,1139.6 1510.5,1145.2 1511.5,1150.3 1512.5,1154.9 1513.5,1158.8 1514.5,1161.9 1515.5,1163.9 1516.5,1164.9 1517.5,1164.7 1518.5,1163.3 1519.5,1160.9 1520.5,1157.5 1521.5,1153.2 1522.5,1148.3 1523.5,1142.9 1524.5,1137.1 1525.5,1131.0 1526.5,1124.9 1527.5,1118.7 1528.5,1112.6 1529.5,1106.6 1530.5,1100.8 1531.5,1095.2 1532.5,1089.9 1533.5,1084.8 1534.5,1080.0 1535.5,1075.5 1536.5,1071.2 1537.5,1067.3 1538.5,1063.7 1539.5,1060.3 1540.5,1057.3 1541.5,1054.5 1542.5,1052.1 1543.5,1049.9 1544.5,1048.0 1545.5,1046.5 1546.5,1045.2 1547.5,1044.2 1548.5,1043.5 1549.5,1043.0 1550.5,1042.9 1551.5,1043.0 1552.5,1043.5 1553.5,1044.2 1554.5,1045.2 1555.5,1046.5 1556.5,1048.0 1557.5,1049.9 1558.5,1052.1 1559.5,1054.5 1560.5,1057.3 1561.5,1060.3 1562.5,1063.7 1563.5,1067.3 1564.5,1071.2 1565.5,1075.5 1566.5,1080.0 1567.5,1084.8 1568.5,1089.8 1569.5,1095.1 1570.5,1100.7 1571.5,1106.4 1572.5,1112.2 1573.5,1118.2 1574.5,1124.1 1575.5,1130.0 1576.5,1135.6 1577.5,1141.0 1578.5,1145.8 1579.5,1150.1 1580.5,1153.5 1581.5,1156.0 1582.5,1157.4 1583.5,1157.8 1584.5,1156.9 1585.5,1155.0 1586.5,1152.0 1587.5,1148.2 1588.5,1143.6 1589.5,1138.4 1590.5,1132.7 1591.5,1126.8 1592.5,1120.7 1593.5,1114.5 1594.5,1108.4 1595.5,1102.4 1596.5,1096.5 1597.5,1090.8 1598.5,1085.4 1599.5,1080.2 1600.5,1075.2 1601.5,1070.6 1602.5,1066.2 1603.5,1062.1 1604.5,1058.4 1605.5,1054.9 1606.5,1051.7 1607.5,1048.8 1608.5,1046.3 1609.5,1044.0 1610.5,1042.0 1611.5,1040.3 1612.5,1038.9 1613.5,1037.7 1614.5,1036.9 1615.5,1036.3 1616.5,1036.1 1617.5,1036.1 1618.5,1036.4 1619.5,1037.0 1620.5,1037.8 1621.5,1039.0 1622.5,1040.4 1623.5,1042.2 1624.5,1044.2 1625.5,1046.5 1626.5,1049.2 1627.5,1052.1 1628.5,1055.3 1629.5,1058.8 1630.5,1062.6 1631.5,1066.7 1632.5,1071.1 1633.5,1075.8 1634.5,1080.7 1635.5,1085.9 1636.5,1091.3 1637.5,1097.0 1638.5,1102.8 1639.5,1108.7 1640.5,1114.6 1641.5,1120.5 1642.5,1126.3 1643.5,1131.8 1644.5,1136.8 1645.5,1141.4 1646.5,1145.2 1647.5,1148.1 1648.5,1150.0 1649.5,1150.9 1650.5,1150.6 1651.5,1149.1 1652.5,1146.6 1653.5,1143.2 1654.5,1138.9 1655.5,1134.0 1656.5,1128.6 1657.5,1122.8 1658.5,1116.8 1659.5,1110.7 1660.5,1104.6 1661.5,1098.5 1662.5,1092.6 1663.5,1086.8 1664.5,1081.3 1665.5,1076.0 1666.5,1071.0 1667.5,1066.2 1668.5,1061.7 1669.5,1057.5 1670.5,1053.6 1671.5,1050.1 1672.5,1046.8 1673.5,1043.8 1674.5,1041.1 1675.5,1038.6 1676.5,1036.5 1677.5,1034.7 1678.5,1033.2 1679.5,1031.9 1680.5,1030.9 1681.5,1030.3 1682.5,1029.9 1683.5,1029.7 1684.5,1029.9 1685.5,1030.4 1686.5,1031.1 1687.5,1032.2 1688.5,1033.5 1689.5,1035.1 1690.5,1037.0 1691.5,1039.2 1692.5,1041.6 1693.5,1044.4 1694.5,1047.5 1695.5,1050.9 1696.5,1054.5 1697.5,1058.5 1698.5,1062.7 1699.5,1067.3 1700.5,1072.1 1701.5,1077.1 1702.5,1082.4 1703.5,1088.0 1704.5,1093.7 1705.5,1099.5 1706.5,1105.4 1707.5,1111.3 1708.5,1117.1 1709.5,1122.7 1710.5,1128.0 1711.5,1132.8 1712.5,1136.9 1713.5,1140.2 1714.5,1142.6 1715.5,1144.0 1716.5,1144.2 1717.5,1143.3 1718.5,1141.3 1719.5,1138.3 1720.5,1134.4 1721.5,1129.7 1722.5,1124.5 1723.5,1118.9 1724.5,1113.0 1725.5,1107.0 1726.5,1100.8 1727.5,1094.8 1728.5,1088.8 1729.5,1082.9 1730.5,1077.3 1731.5,1071.9 1732.5,1066.8 1733.5,1061.9 1734.5,1057.3 1735.5,1053.0 1736.5,1048.9 1737.5,1045.2 1738.5,1041.8 1739.5,1038.7 1740.5,1035.8 1741.5,1033.3 1742.5,1031.0 1743.5,1029.1 1744.5,1027.4 1745.5,1026.0 1746.5,1024.9 1747.5,1024.1 1748.5,1023.6 1749.5,1023.4 1750.5,1023.4 1751.5,1023.7 1752.5,1024.4 1753.5,1025.3 1754.5,1026.5 1755.5,1027.9 1756.5,1029.7 1757.5,1031.8 1758.5,1034.1 1759.5,1036.8 1760.5,1039.7 1761.5,1042.9 1762.5,1046.5 1763.5,1050.3 1764.5,1054.4 1765.5,1058.8 1766.5,1063.5 1767.5,1068.5 1768.5,1073.7 1769.5,1079.1 1770.5,1084.7 1771.5,1090.5 1772.5,1096.4 1773.5,1102.3 1774.5,1108.1 1775.5,1113.8 1776.5,1119.3 1777.5,1124.3 1778.5,1128.7 1779.5,1132.4 1780.5,1135.2 1781.5,1137.1 1782.5,1137.8 1783.5,1137.4 1784.5,1135.9 1785.5,1133.3 1786.5,1129.8 1787.5,1125.6 1788.5,1120.6 1789.5,1115.2 1790.5,1109.5 1791.5,1103.5 1792.5,1097.4 1793.5,1091.3 1794.5,1085.3 1795.5,1079.4 1796.5,1073.7 1797.5,1068.3 1798.5,1063.0 1799.5,1058.0 1800.5,1053.3 1801.5,1048.9 1802.5,1044.8 1803.5,1040.9 1804.5,1037.4 1805.5,1034.1 1806.5,1031.2 1807.5,1028.5 1808.5,1026.1 1809.5,1024.0 1810.5,1022.2 1811.5,1020.7 1812.5,1019.5 1813.5,1018.6 1814.5,1017.9 1815.5,1017.6 1816.5,1017.5 1817.5,1017.7 1818.5,1018.2 1819.5,1019.0 1820.5,1020.0 1821.5,1021.4 1822.5,1023.0 1823.5,1024.9 1824.5,1027.1 1825.5,1029.6 1826.5,1032.4 1827.5,1035.5 1828.5,1038.9 1829.5,1042.6 1830.5,1046.6 1831.5,1050.9 1832.5,1055.4 1833.5,1060.2 1834.5,1065.3 1835.5,1070.6 1836.5,1076.1 1837.5,1081.8 1838.5,1087.6 1839.5,1093.5 1840.5,1099.4 1841.5,1105.2 1842.5,1110.7 1843.5,1115.9 1844.5,1120.6 1845.5,1124.6 1846.5,1127.8 1847.5,1130.1 1848.5,1131.4 1849.5,1131.5 1850.5,1130.5 1851.5,1128.4 1852.5,1125.3 1853.5,1121.4 1854.5,1116.8 1855.5,1111.6 1856.5,1106.0 1857.5,1100.1 1858.5,1094.1 1859.5,1088.0 1860.5,1082.0 1861.5,1076.0 1862.5,1070.3 1863.5,1064.7 1864.5,1059.3 1865.5,1054.2 1866.5,1049.4 1867.5,1044.8 1868.5,1040.6 1869.5,1036.6 1870.5,1032.9 1871.5,1029.5 1872.5,1026.4 1873.5,1023.6 1874.5,1021.1 1875.5,1018.9 1876.5,1017.0 1877.5,1015.4 1878.5,1014.0 1879.5,1013.0 1880.5,1012.2 1881.5,1011.7 1882.5,1011.5 1883.5,1011.6 1884.5,1011.9 1885.5,1012.6 1886.5,1013.5 1887.5,1014.7 1888.5,1016.2 1889.5,1018.0 1890.5,1020.1 1891.5,1022.5 1892.5,1025.2 1893.5,1028.1 1894.5,1031.4 1895.5,1035.0 1896.5,1038.8 1897.5,1042.9 1898.5,1047.4 1899.5,1052.0 1900.5,1057.0 1901.5,1062.2 1902.5,1067.6 1903.5,1073.3 1904.5,1079.0 1905.5,1084.9 1906.5,1090.8 1907.5,1096.6 1908.5,1102.2 1909.5,1107.6 1910.5,1112.5 1911.5,1116.8 1912.5,1120.4 1913.5,1123.2 1914.5,1124.9 1915.5,1125.5 1916.5,1125.0 1917.5,1123.4 1918.5,1120.8 1919.5,1117.3 1920.5,1113.0 1921.5,1108.1 1922.5,1102.7 1923.5,1096.9 1924.5,1091.0 1925.5,1084.9 1926.5,1078.9 1927.5,1072.9 1928.5,1067.1 1929.5,1061.5 1930.5,1056.0 1931.5,1050.8 1932.5,1045.9 1933.5,1041.3 1934.5,1036.9 1935.5,1032.8 1936.5,1029.0 1937.5,1025.5 1938.5,1022.3 1939.5,1019.3 1940.5,1016.7 1941.5,1014.4 1942.5,1012.3 1943.5,1010.6 1944.5,1009.1 1945.5,1007.9 1946.5,1007.0 1947.5,1006.4 1948.5,1006.1 1949.5,1006.0 1950.5,1006.3 1951.5,1006.8 1952.5,1007.6 1953.5,1008.7 1954.5,1010.0 1955.5,1011.7 1956.5,1013.7 1957.5,1015.9 1958.5,1018.4 1959.5,1021.2 1960.5,1024.4 1961.5,1027.8 1962.5,1031.5 1963.5,1035.5 1964.5,1039.8 1965.5,1044.3 1966.5,1049.1 1967.5,1054.2 1968.5,1059.5 1969.5,1065.0 1970.5,1070.7 1971.5,1076.5 1972.5,1082.4 1973.5,1088.2 1974.5,1093.9 1975.5,1099.4 1976.5,1104.5 1977.5,1109.1 1978.5,1113.1 1979.5,1116.2 1980.5,1118.4 1981.5,1119.5 1982.5,1119.5 1983.5,1118.4 1984.5,1116.3 1985.5,1113.2 1986.5,1109.2 1987.5,1104.6 1988.5,1099.4 1989.5,1093.8 1990.5,1087.9 1991.5,1082.0 1992.5,1075.9 1993.5,1069.9 1994.5,1064.1 1995.5,1058.3 1996.5,1052.8 1997.5,1047.5 1998.5,1042.4 1999.5,1037.7 2000.5,1033.2 2001.5,1028.9 2002.5,1025.0 2003.5,1021.4 2004.5,1018.0 2005.5,1015.0 2006.5,1012.2 2007.5,1009.7 2008.5,1007.6 2009.5,1005.7 2010.5,1004.1 2011.5,1002.8 2012.5,1001.7 2013.5,1001.0 2014.5,1000.5 2015.5,1000.4 2016.5,1000.5 2017.5,1000.9 2018.5,1001.5 2019.5,1002.5 2020.5,1003.8 2021.5,1005.3 2022.5,1007.1 2023.5,1009.2 2024.5,1011.6 2025.5,1014.3 2026.5,1017.3 2027.5,1020.6 2028.5,1024.2 2029.5,1028.0 2030.5,1032.2 2031.5,1036.6 2032.5,1041.3 2033.5,1046.3 2034.5,1051.5 2035.5,1056.9 2036.5,1062.5 2037.5,1068.3 2038.5,1074.1 2039.5,1080.0 2040.5,1085.7 2041.5,1091.3 2042.5,1096.6 2043.5,1101.4 2044.5,1105.7 2045.5,1109.2 2046.5,1111.8 2047.5,1113.4 2048.5,1113.9 2049.5,1113.4 2050.5,1111.7 2051.5,1109.0 2052.5,1105.5 2053.5,1101.1 2054.5,1096.2 2055.5,1090.8 2056.5,1085.1 2057.5,1079.2 2058.5,1073.2 2059.5,1067.2 2060.5,1061.3 2061.5,1055.5 2062.5,1049.9 2063.5,1044.5 2064.5,1039.4 2065.5,1034.5 2066.5,1029.9 2067.5,1025.5 2068.5,1021.5 2069.5,1017.7 2070.5,1014.3 2071.5,1011.1 2072.5,1008.2 2073.5,1005.6 2074.5,1003.3 2075.5,1001.3 2076.5,999.6 2077.5,998.2 2078.5,997.0 2079.5,996.2 2080.5,995.6 2081.5,995.3 2082.5,995.2 2083.5,995.5 2084.5,996.1 2085.5,996.9 2086.5,998.0 2087.5,999.4 2088.5,1001.1 2089.5,1003.1 2090.5,1005.3 2091.5,1007.9 2092.5,1010.7 2093.5,1013.9 2094.5,1017.3 2095.5,1021.0 2096.5,1025.0 2097.5,1029.3 2098.5,1033.9 2099.5,1038.7 2100.5,1043.8 2101.5,1049.1 2102.5,1054.6 2103.5,1060.3 2104.5,1066.1 2105.5,1071.9 2106.5,1077.7 2107.5,1083.4 2108.5,1088.8 2109.5,1093.8 2110.5,1098.3 2111.5,1102.2 2112.5,1105.2 2113.5,1107.3 2114.5,1108.3 2115.5,1108.2 2116.5,1107.0 2117.5,1104.8 2118.5,1101.7 2119.5,1097.7 2120.5,1093.0 2121.5,1087.8 2122.5,1082.3 2123.5,1076.4 2124.5,1070.5 2125.5,1064.5 2126.5,1058.6 2127.5,1052.7 2128.5,1047.0 2129.5,1041.6 2130.5,1036.3 2131.5,1031.3 2132.5,1026.6 2133.5,1022.1 2134.5,1017.9 2135.5,1014.1 2136.5,1010.5 2137.5,1007.2 2138.5,1004.1 2139.5,1001.4 2140.5,999.0 2141.5,996.9 2142.5,995.0 2143.5,993.4 2144.5,992.2 2145.5,991.2 2146.5,990.5 2147.5,990.0 2148.5,989.9 2149.5,990.0 2150.5,990.4 2151.5,991.1 2152.5,992.1 2153.5,993.4 2154.5,995.0 2155.5,996.8 2156.5,998.9 2157.5,1001.4 2158.5,1004.1 2159.5,1007.1 2160.5,1010.4 2161.5,1014.0 2162.5,1017.9 2163.5,1022.0 2164.5,1026.5 2165.5,1031.2 2166.5,1036.2 2167.5,1041.4 2168.5,1046.8 2169.5,1052.4 2170.5,1058.1 2171.5,1063.9 2172.5,1069.8 2173.5,1075.5 2174.5,1081.0 2175.5,1086.2 2176.5,1091.0 2177.5,1095.1 2178.5,1098.5 2179.5,1101.0 2180.5,1102.5 2181.5,1103.0 2182.5,1102.3 2183.5,1100.6 2184.5,1097.8 2185.5,1094.2 2186.5,1089.9 2187.5,1085.0 2188.5,1079.6 2189.5,1073.9 2190.5,1068.0 2191.5,1062.0 2192.5,1056.1 2193.5,1050.2 2194.5,1044.5 2195.5,1038.9 2196.5,1033.6 2197.5,1028.5 2198.5,1023.7 2199.5,1019.1 2200.5,1014.8 2201.5,1010.8 2202.5,1007.1 2203.5,1003.7 2204.5,1000.5 2205.5,997.7 2206.5,995.2 2207.5,992.9 2208.5,990.9 2209.5,989.2 2210.5,987.8 2211.5,986.7 2212.5,985.9 2213.5,985.3 2214.5,985.1 2215.5,985.1 2216.5,985.4 2217.5,985.9 2218.5,986.8 2219.5,987.9 2220.5,989.4 2221.5,991.1 2222.5,993.1 2223.5,995.4"/>
</defs>
<g clip-path="url(#c)" fill="none" stroke-linejoin="round" stroke-linecap="butt">
<use href="#p0" stroke="#0000ff" stroke-width="9"/>
<use href="#p0" stroke="#0000ff" stroke-width="10.4" shape-rendering="crispEdges"/>
<use href="#p1" stroke="#008000" stroke-width="9"/>
<use href="#p1" stroke="#008000" stroke-width="10.4" shape-rendering="crispEdges"/>
<use href="#p2" stroke="#ff0000" stroke-width="9"/>
<use href="#p2" stroke="#ff0000" stroke-width="10.4" shape-rendering="crispEdges"/>
<use href="#p3" stroke="#00bfbf" stroke-width="9"/>
<use href="#p3" stroke="#00bfbf" stroke-width="10.4" shape-rendering="crispEdges"/>
<use href="#p4" stroke="#bf00bf" stroke-width="9"/>
<use href="#p4" stroke="#bf00bf" stroke-width="10.4" shape-rendering="crispEdges"/>
</g>
<g stroke="#000" stroke-width="3" shape-rendering="crispEdges" fill="none">
<rect x="243.5" y="74.7" width="1980.3000000000002" height="1561.8"/>
<line x1="242.0" y1="76.5" x2="2225.3" y2="76.5" stroke-width="1"/>
</g>
<g font-size="64">
<text transform="translate(245.0,1709.3) scale(1,1.02)" text-anchor="middle">10</text>
<text transform="translate(639.1,1709.3) scale(1,1.02)" text-anchor="middle">20</text>
<text transform="translate(1035.1,1709.3) scale(1,1.02)" text-anchor="middle">30</text>
<text transform="translate(1431.2,1709.3) scale(1,1.02)" text-anchor="middle">40</text>
<text transform="translate(1827.2,1709.3) scale(1,1.02)" text-anchor="middle">50</text>
<text transform="translate(2223.3,1709.3) scale(1,1.02)" text-anchor="middle">60</text>
<text transform="translate(113.5,98.6) scale(1,1.02)">10<tspan font-size="43.5" dx="-2.5" dy="-39">0</tspan></text>
<text transform="translate(113.5,489.0) scale(1,1.02)">10<tspan font-size="43.5" dx="-2.5" dy="-33.5">−</tspan><tspan font-size="43.5" dy="-5.5">1</tspan></text>
<text transform="translate(113.5,879.5) scale(1,1.02)">10<tspan font-size="43.5" dx="-2.5" dy="-33.5">−</tspan><tspan font-size="43.5" dy="-5.5">2</tspan></text>
<text transform="translate(113.5,1270.0) scale(1,1.02)">10<tspan font-size="43.5" dx="-2.5" dy="-33.5">−</tspan><tspan font-size="43.5" dy="-5.5">3</tspan></text>
<text transform="translate(113.5,1660.4) scale(1,1.02)">10<tspan font-size="43.5" dx="-2.5" dy="-33.5">−</tspan><tspan font-size="43.5" dy="-5.5">4</tspan></text>
<text transform="translate(1232.5,1777.5) scale(1,1.045)" text-anchor="middle">Ground Range (km)</text>
<text transform="translate(77,855.5) rotate(-90) scale(1,1.045)" text-anchor="middle">Height Std. (m)</text>
</g>
<rect x="1115.4" y="1140.4" width="1082.2999999999997" height="460.0" fill="#fff" stroke="#000" stroke-width="3" shape-rendering="crispEdges"/>
<g font-size="63.72">
<line x1="1142.8" y1="1193.0" x2="1281.1" y2="1193.0" stroke="#0000ff" stroke-width="10" shape-rendering="crispEdges"/>
<text transform="translate(1294,1216.0) scale(1,1.045)">Signal/Multipath = 20.000 (dB)</text>
<line x1="1142.8" y1="1282.0" x2="1281.1" y2="1282.0" stroke="#008000" stroke-width="10" shape-rendering="crispEdges"/>
<text transform="translate(1294,1305.0) scale(1,1.045)">Signal/Multipath = 30.000 (dB)</text>
<line x1="1142.8" y1="1371.0" x2="1281.1" y2="1371.0" stroke="#ff0000" stroke-width="10" shape-rendering="crispEdges"/>
<text transform="translate(1294,1394.0) scale(1,1.045)">Signal/Multipath = 40.000 (dB)</text>
<line x1="1142.8" y1="1459.5" x2="1281.1" y2="1459.5" stroke="#00bfbf" stroke-width="10" shape-rendering="crispEdges"/>
<text transform="translate(1294,1482.5) scale(1,1.045)">Signal/Multipath = 50.000 (dB)</text>
<line x1="1142.8" y1="1548.2" x2="1281.1" y2="1548.2" stroke="#bf00bf" stroke-width="10" shape-rendering="crispEdges"/>
<text transform="translate(1294,1571.2) scale(1,1.045)">Signal/Multipath = 60.000 (dB)</text>
</g>
</svg>
</body></html>
